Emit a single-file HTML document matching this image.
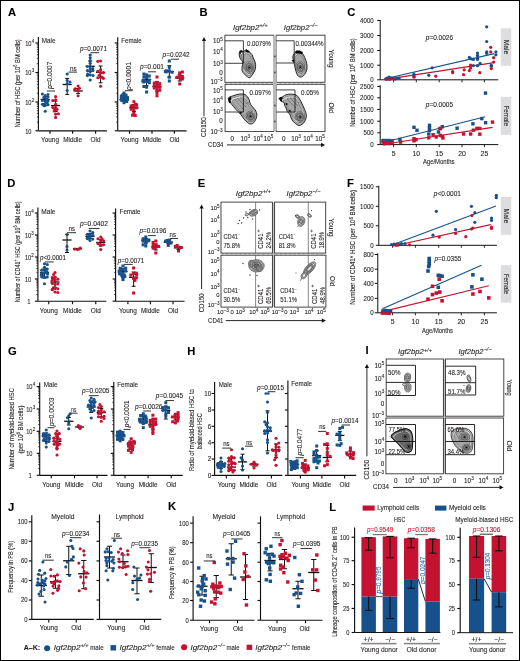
<!DOCTYPE html><html><head><meta charset="utf-8"><title>Figure</title><style>html,body{margin:0;padding:0;background:#fff;width:520px;height:661px;overflow:hidden}svg{display:block;will-change:transform;font-family:"Liberation Sans",sans-serif}text{font-family:"Liberation Sans",sans-serif;stroke:#231f20;stroke-width:0.1px}</style></head><body><svg width="520" height="661" viewBox="0 0 520 661" font-family='"Liberation Sans", sans-serif' fill="#231f20"><rect x="0" y="0" width="520" height="661" fill="#fff"/>
<text x="8.00" y="15.60" font-size="11.2" font-weight="bold" fill="#000" style="stroke:#000">A</text>
<text transform="translate(19.83,83.35) rotate(-90)" x="0" y="0" font-size="6.6" text-anchor="middle" textLength="88.30" lengthAdjust="spacingAndGlyphs">Number of HSC (per 10<tspan dy="-2.4" font-size="4.5">6</tspan><tspan dy="2.4"> BM cells)</tspan></text>
<line x1="38.40" y1="37.00" x2="38.40" y2="130.80" stroke="#111" stroke-width="1.15"/>
<line x1="35.40" y1="43.00" x2="38.40" y2="43.00" stroke="#111" stroke-width="1.15"/>
<text x="25.20" y="45.75" font-size="7.0" textLength="6.3" lengthAdjust="spacingAndGlyphs">10</text>
<text x="31.65" y="42.85" font-size="4.9" textLength="2.5" lengthAdjust="spacingAndGlyphs">4</text>
<line x1="35.40" y1="72.50" x2="38.40" y2="72.50" stroke="#111" stroke-width="1.15"/>
<text x="25.20" y="75.25" font-size="7.0" textLength="6.3" lengthAdjust="spacingAndGlyphs">10</text>
<text x="31.65" y="72.35" font-size="4.9" textLength="2.5" lengthAdjust="spacingAndGlyphs">3</text>
<line x1="35.40" y1="102.00" x2="38.40" y2="102.00" stroke="#111" stroke-width="1.15"/>
<text x="25.20" y="104.75" font-size="7.0" textLength="6.3" lengthAdjust="spacingAndGlyphs">10</text>
<text x="31.65" y="101.85" font-size="4.9" textLength="2.5" lengthAdjust="spacingAndGlyphs">2</text>
<line x1="35.40" y1="130.80" x2="38.40" y2="130.80" stroke="#111" stroke-width="1.15"/>
<text x="25.20" y="133.55" font-size="7.0" textLength="6.3" lengthAdjust="spacingAndGlyphs">10</text>
<line x1="36.80" y1="63.62" x2="38.40" y2="63.62" stroke="#111" stroke-width="0.7"/>
<line x1="36.80" y1="58.42" x2="38.40" y2="58.42" stroke="#111" stroke-width="0.7"/>
<line x1="36.80" y1="54.74" x2="38.40" y2="54.74" stroke="#111" stroke-width="0.7"/>
<line x1="36.80" y1="51.88" x2="38.40" y2="51.88" stroke="#111" stroke-width="0.7"/>
<line x1="36.80" y1="49.54" x2="38.40" y2="49.54" stroke="#111" stroke-width="0.7"/>
<line x1="36.80" y1="47.57" x2="38.40" y2="47.57" stroke="#111" stroke-width="0.7"/>
<line x1="36.80" y1="45.86" x2="38.40" y2="45.86" stroke="#111" stroke-width="0.7"/>
<line x1="36.80" y1="44.35" x2="38.40" y2="44.35" stroke="#111" stroke-width="0.7"/>
<line x1="36.80" y1="93.12" x2="38.40" y2="93.12" stroke="#111" stroke-width="0.7"/>
<line x1="36.80" y1="87.92" x2="38.40" y2="87.92" stroke="#111" stroke-width="0.7"/>
<line x1="36.80" y1="84.24" x2="38.40" y2="84.24" stroke="#111" stroke-width="0.7"/>
<line x1="36.80" y1="81.38" x2="38.40" y2="81.38" stroke="#111" stroke-width="0.7"/>
<line x1="36.80" y1="79.04" x2="38.40" y2="79.04" stroke="#111" stroke-width="0.7"/>
<line x1="36.80" y1="77.07" x2="38.40" y2="77.07" stroke="#111" stroke-width="0.7"/>
<line x1="36.80" y1="75.36" x2="38.40" y2="75.36" stroke="#111" stroke-width="0.7"/>
<line x1="36.80" y1="73.85" x2="38.40" y2="73.85" stroke="#111" stroke-width="0.7"/>
<line x1="36.80" y1="122.13" x2="38.40" y2="122.13" stroke="#111" stroke-width="0.7"/>
<line x1="36.80" y1="117.06" x2="38.40" y2="117.06" stroke="#111" stroke-width="0.7"/>
<line x1="36.80" y1="113.46" x2="38.40" y2="113.46" stroke="#111" stroke-width="0.7"/>
<line x1="36.80" y1="110.67" x2="38.40" y2="110.67" stroke="#111" stroke-width="0.7"/>
<line x1="36.80" y1="108.39" x2="38.40" y2="108.39" stroke="#111" stroke-width="0.7"/>
<line x1="36.80" y1="106.46" x2="38.40" y2="106.46" stroke="#111" stroke-width="0.7"/>
<line x1="36.80" y1="104.79" x2="38.40" y2="104.79" stroke="#111" stroke-width="0.7"/>
<line x1="36.80" y1="103.32" x2="38.40" y2="103.32" stroke="#111" stroke-width="0.7"/>
<line x1="38.40" y1="130.80" x2="107.00" y2="130.80" stroke="#111" stroke-width="1.15"/>
<line x1="50.00" y1="130.80" x2="50.00" y2="133.80" stroke="#111" stroke-width="1.15"/>
<line x1="72.60" y1="130.80" x2="72.60" y2="133.80" stroke="#111" stroke-width="1.15"/>
<line x1="95.60" y1="130.80" x2="95.60" y2="133.80" stroke="#111" stroke-width="1.15"/>
<text x="41.80" y="43.30" font-size="7.0" textLength="13.70" lengthAdjust="spacingAndGlyphs">Male</text>
<text x="50.00" y="142.00" font-size="6.4" text-anchor="middle">Young</text>
<text x="72.60" y="142.00" font-size="6.4" text-anchor="middle">Middle</text>
<text x="95.60" y="142.00" font-size="6.4" text-anchor="middle">Old</text>
<line x1="117.70" y1="37.30" x2="117.70" y2="130.80" stroke="#111" stroke-width="1.15"/>
<line x1="114.70" y1="43.00" x2="117.70" y2="43.00" stroke="#111" stroke-width="1.15"/>
<line x1="114.70" y1="72.50" x2="117.70" y2="72.50" stroke="#111" stroke-width="1.15"/>
<line x1="114.70" y1="102.00" x2="117.70" y2="102.00" stroke="#111" stroke-width="1.15"/>
<line x1="114.70" y1="130.80" x2="117.70" y2="130.80" stroke="#111" stroke-width="1.15"/>
<line x1="116.10" y1="63.62" x2="117.70" y2="63.62" stroke="#111" stroke-width="0.7"/>
<line x1="116.10" y1="58.42" x2="117.70" y2="58.42" stroke="#111" stroke-width="0.7"/>
<line x1="116.10" y1="54.74" x2="117.70" y2="54.74" stroke="#111" stroke-width="0.7"/>
<line x1="116.10" y1="51.88" x2="117.70" y2="51.88" stroke="#111" stroke-width="0.7"/>
<line x1="116.10" y1="49.54" x2="117.70" y2="49.54" stroke="#111" stroke-width="0.7"/>
<line x1="116.10" y1="47.57" x2="117.70" y2="47.57" stroke="#111" stroke-width="0.7"/>
<line x1="116.10" y1="45.86" x2="117.70" y2="45.86" stroke="#111" stroke-width="0.7"/>
<line x1="116.10" y1="44.35" x2="117.70" y2="44.35" stroke="#111" stroke-width="0.7"/>
<line x1="116.10" y1="93.12" x2="117.70" y2="93.12" stroke="#111" stroke-width="0.7"/>
<line x1="116.10" y1="87.92" x2="117.70" y2="87.92" stroke="#111" stroke-width="0.7"/>
<line x1="116.10" y1="84.24" x2="117.70" y2="84.24" stroke="#111" stroke-width="0.7"/>
<line x1="116.10" y1="81.38" x2="117.70" y2="81.38" stroke="#111" stroke-width="0.7"/>
<line x1="116.10" y1="79.04" x2="117.70" y2="79.04" stroke="#111" stroke-width="0.7"/>
<line x1="116.10" y1="77.07" x2="117.70" y2="77.07" stroke="#111" stroke-width="0.7"/>
<line x1="116.10" y1="75.36" x2="117.70" y2="75.36" stroke="#111" stroke-width="0.7"/>
<line x1="116.10" y1="73.85" x2="117.70" y2="73.85" stroke="#111" stroke-width="0.7"/>
<line x1="116.10" y1="122.13" x2="117.70" y2="122.13" stroke="#111" stroke-width="0.7"/>
<line x1="116.10" y1="117.06" x2="117.70" y2="117.06" stroke="#111" stroke-width="0.7"/>
<line x1="116.10" y1="113.46" x2="117.70" y2="113.46" stroke="#111" stroke-width="0.7"/>
<line x1="116.10" y1="110.67" x2="117.70" y2="110.67" stroke="#111" stroke-width="0.7"/>
<line x1="116.10" y1="108.39" x2="117.70" y2="108.39" stroke="#111" stroke-width="0.7"/>
<line x1="116.10" y1="106.46" x2="117.70" y2="106.46" stroke="#111" stroke-width="0.7"/>
<line x1="116.10" y1="104.79" x2="117.70" y2="104.79" stroke="#111" stroke-width="0.7"/>
<line x1="116.10" y1="103.32" x2="117.70" y2="103.32" stroke="#111" stroke-width="0.7"/>
<line x1="117.70" y1="130.80" x2="186.60" y2="130.80" stroke="#111" stroke-width="1.15"/>
<line x1="129.50" y1="130.80" x2="129.50" y2="133.80" stroke="#111" stroke-width="1.15"/>
<line x1="152.00" y1="130.80" x2="152.00" y2="133.80" stroke="#111" stroke-width="1.15"/>
<line x1="174.40" y1="130.80" x2="174.40" y2="133.80" stroke="#111" stroke-width="1.15"/>
<text x="121.30" y="43.00" font-size="7.0" textLength="20.40" lengthAdjust="spacingAndGlyphs">Female</text>
<text x="129.50" y="142.00" font-size="6.4" text-anchor="middle">Young</text>
<text x="152.00" y="142.00" font-size="6.4" text-anchor="middle">Middle</text>
<text x="174.40" y="142.00" font-size="6.4" text-anchor="middle">Old</text>
<line x1="45.20" y1="96.75" x2="45.20" y2="105.40" stroke="#111" stroke-width="1.0"/>
<line x1="43.20" y1="96.75" x2="47.20" y2="96.75" stroke="#111" stroke-width="1.0"/>
<line x1="43.20" y1="105.40" x2="47.20" y2="105.40" stroke="#111" stroke-width="1.0"/>
<line x1="40.60" y1="99.50" x2="49.80" y2="99.50" stroke="#111" stroke-width="1.3"/>
<circle cx="45.20" cy="95.64" r="1.55" fill="#16518b"/>
<circle cx="45.20" cy="105.51" r="1.55" fill="#16518b"/>
<circle cx="42.41" cy="104.33" r="1.55" fill="#16518b"/>
<circle cx="45.20" cy="101.15" r="1.55" fill="#16518b"/>
<circle cx="45.20" cy="111.30" r="1.55" fill="#16518b"/>
<circle cx="42.41" cy="100.54" r="1.55" fill="#16518b"/>
<circle cx="47.99" cy="100.70" r="1.55" fill="#16518b"/>
<circle cx="42.41" cy="94.00" r="1.55" fill="#16518b"/>
<circle cx="46.60" cy="98.93" r="1.55" fill="#16518b"/>
<circle cx="47.99" cy="94.45" r="1.55" fill="#16518b"/>
<circle cx="47.15" cy="102.87" r="1.55" fill="#16518b"/>
<circle cx="47.99" cy="96.99" r="1.55" fill="#16518b"/>
<circle cx="47.99" cy="104.73" r="1.55" fill="#16518b"/>
<circle cx="44.03" cy="104.36" r="1.55" fill="#16518b"/>
<circle cx="43.80" cy="97.58" r="1.55" fill="#16518b"/>
<circle cx="44.12" cy="105.72" r="1.55" fill="#16518b"/>
<line x1="55.60" y1="101.10" x2="55.60" y2="111.50" stroke="#111" stroke-width="1.0"/>
<line x1="53.60" y1="101.10" x2="57.60" y2="101.10" stroke="#111" stroke-width="1.0"/>
<line x1="53.60" y1="111.50" x2="57.60" y2="111.50" stroke="#111" stroke-width="1.0"/>
<line x1="51.00" y1="105.60" x2="60.20" y2="105.60" stroke="#111" stroke-width="1.3"/>
<circle cx="55.60" cy="96.60" r="1.55" fill="#c41230"/>
<circle cx="55.60" cy="99.85" r="1.55" fill="#c41230"/>
<circle cx="55.60" cy="104.19" r="1.55" fill="#c41230"/>
<circle cx="55.60" cy="117.40" r="1.55" fill="#c41230"/>
<circle cx="55.60" cy="107.57" r="1.55" fill="#c41230"/>
<circle cx="52.81" cy="107.58" r="1.55" fill="#c41230"/>
<circle cx="57.00" cy="109.35" r="1.55" fill="#c41230"/>
<circle cx="54.20" cy="111.05" r="1.55" fill="#c41230"/>
<circle cx="54.50" cy="108.40" r="1.55" fill="#c41230"/>
<circle cx="52.81" cy="100.59" r="1.55" fill="#c41230"/>
<circle cx="55.60" cy="114.12" r="1.55" fill="#c41230"/>
<circle cx="58.39" cy="113.82" r="1.55" fill="#c41230"/>
<line x1="67.20" y1="78.40" x2="67.20" y2="94.40" stroke="#111" stroke-width="1.0"/>
<line x1="65.20" y1="78.40" x2="69.20" y2="78.40" stroke="#111" stroke-width="1.0"/>
<line x1="65.20" y1="94.40" x2="69.20" y2="94.40" stroke="#111" stroke-width="1.0"/>
<line x1="62.60" y1="84.50" x2="71.80" y2="84.50" stroke="#111" stroke-width="1.3"/>
<circle cx="67.20" cy="80.42" r="1.55" fill="#16518b"/>
<circle cx="67.20" cy="74.00" r="1.55" fill="#16518b"/>
<circle cx="69.99" cy="82.01" r="1.55" fill="#16518b"/>
<circle cx="67.20" cy="83.71" r="1.55" fill="#16518b"/>
<circle cx="67.20" cy="90.50" r="1.55" fill="#16518b"/>
<line x1="78.10" y1="88.50" x2="78.10" y2="93.35" stroke="#111" stroke-width="1.0"/>
<line x1="76.10" y1="88.50" x2="80.10" y2="88.50" stroke="#111" stroke-width="1.0"/>
<line x1="76.10" y1="93.35" x2="80.10" y2="93.35" stroke="#111" stroke-width="1.0"/>
<line x1="73.50" y1="91.00" x2="82.70" y2="91.00" stroke="#111" stroke-width="1.3"/>
<circle cx="78.10" cy="90.38" r="1.55" fill="#c41230"/>
<circle cx="79.49" cy="88.24" r="1.55" fill="#c41230"/>
<circle cx="75.31" cy="88.74" r="1.55" fill="#c41230"/>
<circle cx="74.79" cy="89.38" r="1.55" fill="#c41230"/>
<circle cx="78.10" cy="95.70" r="1.55" fill="#c41230"/>
<circle cx="78.10" cy="86.00" r="1.55" fill="#c41230"/>
<line x1="90.20" y1="61.00" x2="90.20" y2="71.50" stroke="#111" stroke-width="1.0"/>
<line x1="88.20" y1="61.00" x2="92.20" y2="61.00" stroke="#111" stroke-width="1.0"/>
<line x1="88.20" y1="71.50" x2="92.20" y2="71.50" stroke="#111" stroke-width="1.0"/>
<line x1="85.60" y1="66.30" x2="94.80" y2="66.30" stroke="#111" stroke-width="1.3"/>
<circle cx="90.20" cy="69.04" r="1.55" fill="#16518b"/>
<circle cx="92.99" cy="70.56" r="1.55" fill="#16518b"/>
<circle cx="90.20" cy="66.52" r="1.55" fill="#16518b"/>
<circle cx="90.20" cy="74.84" r="1.55" fill="#16518b"/>
<circle cx="90.20" cy="57.86" r="1.55" fill="#16518b"/>
<circle cx="90.20" cy="71.62" r="1.55" fill="#16518b"/>
<circle cx="87.41" cy="75.60" r="1.55" fill="#16518b"/>
<circle cx="90.20" cy="60.66" r="1.55" fill="#16518b"/>
<circle cx="87.41" cy="66.47" r="1.55" fill="#16518b"/>
<circle cx="92.75" cy="68.64" r="1.55" fill="#16518b"/>
<circle cx="92.99" cy="75.56" r="1.55" fill="#16518b"/>
<circle cx="87.65" cy="74.17" r="1.55" fill="#16518b"/>
<circle cx="90.20" cy="55.00" r="1.55" fill="#16518b"/>
<circle cx="90.20" cy="80.00" r="1.55" fill="#16518b"/>
<circle cx="87.41" cy="70.60" r="1.55" fill="#16518b"/>
<circle cx="90.20" cy="63.35" r="1.55" fill="#16518b"/>
<line x1="100.60" y1="66.00" x2="100.60" y2="82.80" stroke="#111" stroke-width="1.0"/>
<line x1="98.60" y1="66.00" x2="102.60" y2="66.00" stroke="#111" stroke-width="1.0"/>
<line x1="98.60" y1="82.80" x2="102.60" y2="82.80" stroke="#111" stroke-width="1.0"/>
<line x1="96.00" y1="72.40" x2="105.20" y2="72.40" stroke="#111" stroke-width="1.3"/>
<circle cx="100.60" cy="77.26" r="1.55" fill="#c41230"/>
<circle cx="100.60" cy="61.00" r="1.55" fill="#c41230"/>
<circle cx="97.81" cy="77.72" r="1.55" fill="#c41230"/>
<circle cx="100.60" cy="69.67" r="1.55" fill="#c41230"/>
<circle cx="100.60" cy="72.82" r="1.55" fill="#c41230"/>
<circle cx="100.60" cy="86.20" r="1.55" fill="#c41230"/>
<circle cx="103.39" cy="78.33" r="1.55" fill="#c41230"/>
<circle cx="97.81" cy="61.36" r="1.55" fill="#c41230"/>
<circle cx="99.20" cy="75.37" r="1.55" fill="#c41230"/>
<circle cx="97.81" cy="71.35" r="1.55" fill="#c41230"/>
<circle cx="101.90" cy="77.06" r="1.55" fill="#c41230"/>
<circle cx="103.39" cy="72.63" r="1.55" fill="#c41230"/>
<text transform="translate(52.48,75.25) rotate(-90)" x="0" y="0" font-size="6.9" text-anchor="middle" textLength="26.90" lengthAdjust="spacingAndGlyphs"><tspan font-style="italic">p</tspan>=0.0007</text>
<line x1="46.80" y1="91.00" x2="55.00" y2="91.00" stroke="#333" stroke-width="1.0"/>
<text x="70.00" y="71.28" font-size="6.9" textLength="6.70" lengthAdjust="spacingAndGlyphs">ns</text>
<line x1="68.40" y1="72.10" x2="77.00" y2="72.10" stroke="#333" stroke-width="1.0"/>
<text x="80.00" y="50.88" font-size="6.9" textLength="27.00" lengthAdjust="spacingAndGlyphs"><tspan font-style="italic">p</tspan>=0.0071</text>
<line x1="90.50" y1="52.70" x2="99.20" y2="52.70" stroke="#333" stroke-width="1.0"/>
<line x1="124.00" y1="96.35" x2="124.00" y2="101.20" stroke="#111" stroke-width="1.0"/>
<line x1="122.00" y1="96.35" x2="126.00" y2="96.35" stroke="#111" stroke-width="1.0"/>
<line x1="122.00" y1="101.20" x2="126.00" y2="101.20" stroke="#111" stroke-width="1.0"/>
<line x1="119.40" y1="99.70" x2="128.60" y2="99.70" stroke="#111" stroke-width="1.3"/>
<rect x="122.50" y="96.38" width="3.00" height="3.00" fill="#16518b"/>
<rect x="122.50" y="101.20" width="3.00" height="3.00" fill="#16518b"/>
<rect x="121.15" y="94.34" width="3.00" height="3.00" fill="#16518b"/>
<rect x="123.85" y="93.93" width="3.00" height="3.00" fill="#16518b"/>
<rect x="125.20" y="96.58" width="3.00" height="3.00" fill="#16518b"/>
<rect x="122.50" y="91.50" width="3.00" height="3.00" fill="#16518b"/>
<rect x="119.80" y="96.75" width="3.00" height="3.00" fill="#16518b"/>
<rect x="124.58" y="93.63" width="3.00" height="3.00" fill="#16518b"/>
<rect x="123.06" y="97.62" width="3.00" height="3.00" fill="#16518b"/>
<rect x="121.76" y="93.44" width="3.00" height="3.00" fill="#16518b"/>
<rect x="120.56" y="97.24" width="3.00" height="3.00" fill="#16518b"/>
<rect x="125.09" y="97.40" width="3.00" height="3.00" fill="#16518b"/>
<rect x="120.27" y="98.96" width="3.00" height="3.00" fill="#16518b"/>
<rect x="125.20" y="99.97" width="3.00" height="3.00" fill="#16518b"/>
<rect x="122.31" y="95.31" width="3.00" height="3.00" fill="#16518b"/>
<rect x="125.75" y="98.00" width="3.00" height="3.00" fill="#16518b"/>
<rect x="122.80" y="96.81" width="3.00" height="3.00" fill="#16518b"/>
<rect x="126.03" y="96.09" width="3.00" height="3.00" fill="#16518b"/>
<rect x="121.33" y="93.67" width="3.00" height="3.00" fill="#16518b"/>
<rect x="125.30" y="97.89" width="3.00" height="3.00" fill="#16518b"/>
<rect x="122.25" y="93.06" width="3.00" height="3.00" fill="#16518b"/>
<rect x="119.90" y="94.63" width="3.00" height="3.00" fill="#16518b"/>
<line x1="133.90" y1="104.65" x2="133.90" y2="111.55" stroke="#111" stroke-width="1.0"/>
<line x1="131.90" y1="104.65" x2="135.90" y2="104.65" stroke="#111" stroke-width="1.0"/>
<line x1="131.90" y1="111.55" x2="135.90" y2="111.55" stroke="#111" stroke-width="1.0"/>
<line x1="129.30" y1="107.60" x2="138.50" y2="107.60" stroke="#111" stroke-width="1.3"/>
<rect x="132.40" y="104.69" width="3.00" height="3.00" fill="#c41230"/>
<rect x="129.70" y="104.50" width="3.00" height="3.00" fill="#c41230"/>
<rect x="135.10" y="103.41" width="3.00" height="3.00" fill="#c41230"/>
<rect x="132.40" y="111.97" width="3.00" height="3.00" fill="#c41230"/>
<rect x="134.01" y="102.83" width="3.00" height="3.00" fill="#c41230"/>
<rect x="132.40" y="108.33" width="3.00" height="3.00" fill="#c41230"/>
<rect x="132.40" y="100.20" width="3.00" height="3.00" fill="#c41230"/>
<rect x="131.05" y="113.69" width="3.00" height="3.00" fill="#c41230"/>
<rect x="130.87" y="104.33" width="3.00" height="3.00" fill="#c41230"/>
<rect x="133.75" y="114.00" width="3.00" height="3.00" fill="#c41230"/>
<rect x="135.10" y="106.32" width="3.00" height="3.00" fill="#c41230"/>
<rect x="129.70" y="107.75" width="3.00" height="3.00" fill="#c41230"/>
<line x1="146.60" y1="76.75" x2="146.60" y2="85.75" stroke="#111" stroke-width="1.0"/>
<line x1="144.60" y1="76.75" x2="148.60" y2="76.75" stroke="#111" stroke-width="1.0"/>
<line x1="144.60" y1="85.75" x2="148.60" y2="85.75" stroke="#111" stroke-width="1.0"/>
<line x1="142.00" y1="79.50" x2="151.20" y2="79.50" stroke="#111" stroke-width="1.3"/>
<rect x="145.10" y="85.72" width="3.00" height="3.00" fill="#16518b"/>
<rect x="145.10" y="76.20" width="3.00" height="3.00" fill="#16518b"/>
<rect x="145.10" y="79.92" width="3.00" height="3.00" fill="#16518b"/>
<rect x="142.40" y="78.63" width="3.00" height="3.00" fill="#16518b"/>
<rect x="145.10" y="73.30" width="3.00" height="3.00" fill="#16518b"/>
<rect x="147.80" y="81.21" width="3.00" height="3.00" fill="#16518b"/>
<rect x="142.40" y="72.50" width="3.00" height="3.00" fill="#16518b"/>
<rect x="142.40" y="75.33" width="3.00" height="3.00" fill="#16518b"/>
<rect x="142.17" y="80.49" width="3.00" height="3.00" fill="#16518b"/>
<rect x="147.80" y="74.51" width="3.00" height="3.00" fill="#16518b"/>
<rect x="147.80" y="78.68" width="3.00" height="3.00" fill="#16518b"/>
<rect x="145.10" y="90.50" width="3.00" height="3.00" fill="#16518b"/>
<rect x="141.37" y="79.51" width="3.00" height="3.00" fill="#16518b"/>
<rect x="142.40" y="85.02" width="3.00" height="3.00" fill="#16518b"/>
<line x1="157.00" y1="81.75" x2="157.00" y2="91.15" stroke="#111" stroke-width="1.0"/>
<line x1="155.00" y1="81.75" x2="159.00" y2="81.75" stroke="#111" stroke-width="1.0"/>
<line x1="155.00" y1="91.15" x2="159.00" y2="91.15" stroke="#111" stroke-width="1.0"/>
<line x1="152.40" y1="86.50" x2="161.60" y2="86.50" stroke="#111" stroke-width="1.3"/>
<rect x="155.50" y="83.15" width="3.00" height="3.00" fill="#c41230"/>
<rect x="155.50" y="80.85" width="3.00" height="3.00" fill="#c41230"/>
<rect x="155.50" y="91.43" width="3.00" height="3.00" fill="#c41230"/>
<rect x="155.50" y="85.64" width="3.00" height="3.00" fill="#c41230"/>
<rect x="158.20" y="85.71" width="3.00" height="3.00" fill="#c41230"/>
<rect x="155.50" y="88.59" width="3.00" height="3.00" fill="#c41230"/>
<rect x="158.20" y="82.18" width="3.00" height="3.00" fill="#c41230"/>
<rect x="158.20" y="88.75" width="3.00" height="3.00" fill="#c41230"/>
<rect x="155.50" y="94.30" width="3.00" height="3.00" fill="#c41230"/>
<rect x="152.80" y="86.52" width="3.00" height="3.00" fill="#c41230"/>
<rect x="152.80" y="81.57" width="3.00" height="3.00" fill="#c41230"/>
<rect x="157.70" y="85.15" width="3.00" height="3.00" fill="#c41230"/>
<rect x="155.50" y="75.50" width="3.00" height="3.00" fill="#c41230"/>
<rect x="152.80" y="84.25" width="3.00" height="3.00" fill="#c41230"/>
<line x1="169.30" y1="65.70" x2="169.30" y2="77.00" stroke="#111" stroke-width="1.0"/>
<line x1="167.30" y1="65.70" x2="171.30" y2="65.70" stroke="#111" stroke-width="1.0"/>
<line x1="167.30" y1="77.00" x2="171.30" y2="77.00" stroke="#111" stroke-width="1.0"/>
<line x1="164.70" y1="71.60" x2="173.90" y2="71.60" stroke="#111" stroke-width="1.3"/>
<rect x="167.80" y="69.44" width="3.00" height="3.00" fill="#16518b"/>
<rect x="165.10" y="69.29" width="3.00" height="3.00" fill="#16518b"/>
<rect x="170.50" y="70.69" width="3.00" height="3.00" fill="#16518b"/>
<rect x="167.80" y="59.50" width="3.00" height="3.00" fill="#16518b"/>
<rect x="167.80" y="65.76" width="3.00" height="3.00" fill="#16518b"/>
<rect x="163.84" y="69.88" width="3.00" height="3.00" fill="#16518b"/>
<rect x="164.66" y="70.40" width="3.00" height="3.00" fill="#16518b"/>
<rect x="167.80" y="75.73" width="3.00" height="3.00" fill="#16518b"/>
<rect x="167.80" y="79.50" width="3.00" height="3.00" fill="#16518b"/>
<line x1="179.70" y1="75.00" x2="179.70" y2="81.00" stroke="#111" stroke-width="1.0"/>
<line x1="177.70" y1="75.00" x2="181.70" y2="75.00" stroke="#111" stroke-width="1.0"/>
<line x1="177.70" y1="81.00" x2="181.70" y2="81.00" stroke="#111" stroke-width="1.0"/>
<line x1="175.10" y1="78.00" x2="184.30" y2="78.00" stroke="#111" stroke-width="1.3"/>
<rect x="178.20" y="76.35" width="3.00" height="3.00" fill="#c41230"/>
<rect x="178.20" y="73.70" width="3.00" height="3.00" fill="#c41230"/>
<rect x="178.20" y="82.50" width="3.00" height="3.00" fill="#c41230"/>
<rect x="178.20" y="71.38" width="3.00" height="3.00" fill="#c41230"/>
<rect x="180.90" y="77.53" width="3.00" height="3.00" fill="#c41230"/>
<rect x="180.90" y="70.50" width="3.00" height="3.00" fill="#c41230"/>
<rect x="175.50" y="75.69" width="3.00" height="3.00" fill="#c41230"/>
<rect x="180.90" y="74.94" width="3.00" height="3.00" fill="#c41230"/>
<rect x="178.97" y="77.60" width="3.00" height="3.00" fill="#c41230"/>
<text transform="translate(130.78,76.00) rotate(-90)" x="0" y="0" font-size="6.9" text-anchor="middle" textLength="28.00" lengthAdjust="spacingAndGlyphs"><tspan font-style="italic">p</tspan>&lt;0.0001</text>
<line x1="125.00" y1="90.70" x2="132.50" y2="90.70" stroke="#333" stroke-width="1.0"/>
<text x="140.00" y="69.48" font-size="6.9" textLength="24.00" lengthAdjust="spacingAndGlyphs"><tspan font-style="italic">p</tspan>=0.001</text>
<line x1="148.00" y1="71.80" x2="156.00" y2="71.80" stroke="#333" stroke-width="1.0"/>
<text x="162.60" y="57.28" font-size="6.9" textLength="27.00" lengthAdjust="spacingAndGlyphs"><tspan font-style="italic">p</tspan>=0.0242</text>
<line x1="171.00" y1="59.20" x2="179.00" y2="59.20" stroke="#333" stroke-width="1.0"/>
<text x="199.50" y="16.10" font-size="11.2" font-weight="bold" fill="#000" style="stroke:#000">B</text>
<text x="233.00" y="30.25" font-size="6.8" font-style="italic" textLength="34.70" lengthAdjust="spacingAndGlyphs">Igf2bp2<tspan dy="-2.9" font-size="5.0">+/+</tspan></text>
<text x="283.80" y="30.25" font-size="6.8" font-style="italic" textLength="33.80" lengthAdjust="spacingAndGlyphs">Igf2bp2<tspan dy="-2.9" font-size="5.0">−/−</tspan></text>
<line x1="225.30" y1="83.30" x2="324.60" y2="83.30" stroke="#bbb" stroke-width="0.9" stroke-dasharray="2.5 2"/>
<rect x="224.90" y="35.20" width="48.70" height="47.10" fill="none" stroke="#333" stroke-width="0.9"/>
<rect x="276.20" y="35.20" width="48.80" height="47.10" fill="none" stroke="#333" stroke-width="0.9"/>
<rect x="225.10" y="84.30" width="48.50" height="47.30" fill="none" stroke="#333" stroke-width="0.9"/>
<rect x="276.20" y="84.30" width="48.80" height="47.30" fill="none" stroke="#333" stroke-width="0.9"/>
<rect x="273.00" y="35.70" width="3.70" height="95.40" fill="#b9b9b9"/>
<rect x="274.30" y="55.60" width="1.20" height="1.80" fill="#333"/>
<rect x="274.30" y="71.60" width="1.20" height="1.80" fill="#333"/>
<rect x="274.30" y="104.60" width="1.20" height="1.80" fill="#333"/>
<rect x="274.30" y="120.60" width="1.20" height="1.80" fill="#333"/>
<path d="M239.40,52.10 C239.68,51.13 240.53,50.45 241.10,50.40 C241.67,50.35 241.95,51.85 242.80,51.80 C243.65,51.75 245.08,50.05 246.20,50.10 C247.32,50.15 248.55,51.37 249.50,52.10 C250.45,52.83 251.28,53.55 251.90,54.50 C252.52,55.45 252.65,56.52 253.20,57.80 C253.75,59.08 254.80,60.68 255.20,62.20 C255.60,63.72 255.70,65.43 255.60,66.90 C255.50,68.37 255.17,69.65 254.60,71.00 C254.03,72.35 253.05,73.88 252.20,75.00 C251.35,76.12 250.50,77.58 249.50,77.70 C248.50,77.82 247.38,76.72 246.20,75.70 C245.02,74.68 243.08,73.07 242.40,71.60 C241.72,70.13 242.03,68.47 242.10,66.90 C242.17,65.33 243.02,63.43 242.80,62.20 C242.58,60.97 241.37,60.50 240.80,59.50 C240.23,58.50 239.63,57.43 239.40,56.20 C239.17,54.97 239.12,53.07 239.40,52.10Z" fill="#b4b4b4" stroke="#111" stroke-width="0.9"/>
<path d="M240.46,53.47 C240.70,52.64 241.43,52.05 241.92,52.01 C242.40,51.96 242.65,53.25 243.38,53.21 C244.11,53.17 245.34,51.71 246.30,51.75 C247.26,51.79 248.32,52.84 249.14,53.47 C249.96,54.10 250.68,54.72 251.21,55.53 C251.74,56.35 251.85,57.27 252.32,58.37 C252.80,59.47 253.70,60.85 254.04,62.15 C254.39,63.46 254.47,64.93 254.39,66.20 C254.30,67.46 254.01,68.56 253.53,69.72 C253.04,70.88 252.19,72.20 251.46,73.16 C250.73,74.12 250.00,75.38 249.14,75.48 C248.28,75.58 247.32,74.64 246.30,73.76 C245.29,72.89 243.62,71.50 243.04,70.24 C242.45,68.98 242.72,67.54 242.78,66.20 C242.83,64.85 243.57,63.21 243.38,62.15 C243.19,61.09 242.15,60.69 241.66,59.83 C241.17,58.97 240.66,58.05 240.46,56.99 C240.25,55.93 240.21,54.30 240.46,53.47Z" fill="#dadada" stroke="#444" stroke-width="0.45"/>
<path d="M241.51,54.84 C241.71,54.14 242.33,53.65 242.73,53.61 C243.14,53.58 243.35,54.66 243.96,54.62 C244.57,54.58 245.60,53.36 246.41,53.40 C247.21,53.43 248.10,54.31 248.78,54.84 C249.47,55.36 250.07,55.88 250.51,56.56 C250.95,57.25 251.05,58.02 251.45,58.94 C251.84,59.86 252.60,61.02 252.89,62.11 C253.17,63.20 253.25,64.44 253.17,65.49 C253.10,66.55 252.86,67.47 252.45,68.44 C252.05,69.42 251.34,70.52 250.73,71.32 C250.11,72.13 249.50,73.18 248.78,73.27 C248.06,73.35 247.26,72.56 246.41,71.83 C245.55,71.10 244.16,69.93 243.67,68.88 C243.18,67.82 243.41,66.62 243.45,65.49 C243.50,64.36 244.11,63.00 243.96,62.11 C243.80,61.22 242.93,60.88 242.52,60.16 C242.11,59.44 241.68,58.68 241.51,57.79 C241.34,56.90 241.31,55.53 241.51,54.84Z" fill="#a6a6a6" stroke="#333" stroke-width="0.4"/>
<ellipse cx="249.30" cy="67.60" rx="4.30" ry="6.30" transform="rotate(-12 249.30 67.60)" fill="#d6d6d6" stroke="#222" stroke-width="0.45"/>
<ellipse cx="249.30" cy="67.60" rx="3.39" ry="4.96" transform="rotate(-12 249.30 67.60)" fill="#888" stroke="#222" stroke-width="0.45"/>
<ellipse cx="249.30" cy="67.60" rx="2.47" ry="3.62" transform="rotate(-12 249.30 67.60)" fill="#c8c8c8" stroke="#222" stroke-width="0.45"/>
<ellipse cx="249.30" cy="67.60" rx="1.56" ry="2.28" transform="rotate(-12 249.30 67.60)" fill="#6a6a6a" stroke="#222" stroke-width="0.45"/>
<circle cx="249.30" cy="67.60" r="0.80" fill="#000"/>
<path d="M296.00,52.00 C296.58,51.52 296.70,50.65 297.70,50.80 C298.70,50.95 300.85,51.83 302.00,52.90 C303.15,53.97 303.82,55.47 304.60,57.20 C305.38,58.93 306.32,61.28 306.70,63.30 C307.08,65.32 307.25,67.43 306.90,69.30 C306.55,71.17 305.62,73.20 304.60,74.50 C303.58,75.80 301.95,76.95 300.80,77.10 C299.65,77.25 298.57,76.55 297.70,75.40 C296.83,74.25 296.18,72.22 295.60,70.20 C295.02,68.18 294.67,65.47 294.20,63.30 C293.73,61.13 292.80,58.80 292.80,57.20 C292.80,55.60 293.67,54.57 294.20,53.70 C294.73,52.83 295.42,52.48 296.00,52.00Z" fill="#b4b4b4" stroke="#111" stroke-width="0.9"/>
<path d="M296.49,53.52 C296.99,53.10 297.10,52.36 297.96,52.49 C298.82,52.61 300.66,53.37 301.65,54.29 C302.64,55.21 303.22,56.50 303.89,57.99 C304.56,59.48 305.37,61.50 305.70,63.24 C306.02,64.97 306.17,66.79 305.87,68.40 C305.57,70.00 304.76,71.75 303.89,72.87 C303.01,73.99 301.61,74.97 300.62,75.10 C299.63,75.23 298.70,74.63 297.96,73.64 C297.21,72.65 296.65,70.90 296.15,69.17 C295.65,67.44 295.35,65.10 294.95,63.24 C294.54,61.37 293.74,59.37 293.74,57.99 C293.74,56.61 294.49,55.72 294.95,54.98 C295.40,54.23 295.99,53.93 296.49,53.52Z" fill="#dadada" stroke="#444" stroke-width="0.45"/>
<path d="M296.99,55.03 C297.41,54.69 297.49,54.06 298.21,54.17 C298.93,54.28 300.48,54.91 301.31,55.68 C302.13,56.45 302.61,57.53 303.18,58.78 C303.74,60.03 304.41,61.72 304.69,63.17 C304.97,64.62 305.09,66.15 304.83,67.49 C304.58,68.83 303.91,70.30 303.18,71.23 C302.45,72.17 301.27,73.00 300.44,73.11 C299.61,73.21 298.83,72.71 298.21,71.88 C297.59,71.05 297.12,69.59 296.70,68.14 C296.28,66.69 296.03,64.73 295.69,63.17 C295.35,61.61 294.68,59.93 294.68,58.78 C294.68,57.63 295.31,56.88 295.69,56.26 C296.07,55.63 296.57,55.38 296.99,55.03Z" fill="#a6a6a6" stroke="#333" stroke-width="0.4"/>
<ellipse cx="300.30" cy="67.30" rx="4.30" ry="6.20" transform="rotate(-8 300.30 67.30)" fill="#d6d6d6" stroke="#222" stroke-width="0.45"/>
<ellipse cx="300.30" cy="67.30" rx="3.39" ry="4.88" transform="rotate(-8 300.30 67.30)" fill="#888" stroke="#222" stroke-width="0.45"/>
<ellipse cx="300.30" cy="67.30" rx="2.47" ry="3.56" transform="rotate(-8 300.30 67.30)" fill="#c8c8c8" stroke="#222" stroke-width="0.45"/>
<ellipse cx="300.30" cy="67.30" rx="1.56" ry="2.25" transform="rotate(-8 300.30 67.30)" fill="#6a6a6a" stroke="#222" stroke-width="0.45"/>
<circle cx="300.30" cy="67.30" r="0.80" fill="#000"/>
<path d="M228.80,97.50 C229.67,96.68 232.23,96.07 234.00,95.50 C235.77,94.93 237.53,94.25 239.40,94.10 C241.27,93.95 243.60,93.72 245.20,94.60 C246.80,95.48 248.12,97.80 249.00,99.40 C249.88,101.00 249.37,102.27 250.50,104.20 C251.63,106.13 254.77,108.92 255.80,111.00 C256.83,113.08 257.03,114.78 256.70,116.70 C256.37,118.62 254.83,121.28 253.80,122.50 C252.77,123.72 251.77,124.17 250.50,124.00 C249.23,123.83 247.57,122.72 246.20,121.50 C244.83,120.28 243.43,118.13 242.30,116.70 C241.17,115.27 240.45,114.10 239.40,112.90 C238.35,111.70 237.43,111.10 236.00,109.50 C234.57,107.90 232.00,104.82 230.80,103.30 C229.60,101.78 229.13,101.37 228.80,100.40 C228.47,99.43 227.93,98.32 228.80,97.50Z" fill="#b4b4b4" stroke="#111" stroke-width="0.9"/>
<path d="M230.78,98.93 C231.53,98.23 233.73,97.70 235.25,97.21 C236.77,96.73 238.29,96.14 239.90,96.01 C241.50,95.88 243.51,95.68 244.88,96.44 C246.26,97.20 247.39,99.19 248.15,100.57 C248.91,101.94 248.47,103.03 249.44,104.70 C250.42,106.36 253.11,108.75 254.00,110.54 C254.89,112.33 255.06,113.80 254.77,115.45 C254.49,117.09 253.17,119.39 252.28,120.43 C251.39,121.48 250.53,121.87 249.44,121.72 C248.35,121.58 246.92,120.62 245.74,119.57 C244.57,118.53 243.37,116.68 242.39,115.45 C241.42,114.21 240.80,113.21 239.90,112.18 C238.99,111.15 238.21,110.63 236.97,109.25 C235.74,107.88 233.53,105.23 232.50,103.92 C231.47,102.62 231.07,102.26 230.78,101.43 C230.49,100.60 230.04,99.64 230.78,98.93Z" fill="#dadada" stroke="#444" stroke-width="0.45"/>
<path d="M232.76,100.37 C233.39,99.78 235.23,99.33 236.51,98.93 C237.78,98.52 239.05,98.03 240.39,97.92 C241.74,97.81 243.42,97.64 244.57,98.28 C245.72,98.91 246.67,100.58 247.31,101.73 C247.94,102.89 247.57,103.80 248.39,105.19 C249.20,106.58 251.46,108.59 252.20,110.09 C252.95,111.59 253.09,112.81 252.85,114.19 C252.61,115.57 251.51,117.49 250.76,118.37 C250.02,119.24 249.30,119.57 248.39,119.45 C247.47,119.33 246.27,118.52 245.29,117.65 C244.31,116.77 243.30,115.22 242.48,114.19 C241.67,113.16 241.15,112.32 240.39,111.45 C239.64,110.59 238.98,110.16 237.95,109.01 C236.91,107.85 235.07,105.63 234.20,104.54 C233.34,103.45 233.00,103.15 232.76,102.45 C232.52,101.76 232.14,100.95 232.76,100.37Z" fill="#a6a6a6" stroke="#333" stroke-width="0.4"/>
<line x1="233.00" y1="98.00" x2="242.00" y2="108.00" stroke="#eee" stroke-width="0.9"/>
<line x1="233.90" y1="98.90" x2="242.90" y2="108.90" stroke="#333" stroke-width="0.6"/>
<line x1="236.00" y1="97.00" x2="245.00" y2="106.00" stroke="#eee" stroke-width="0.9"/>
<line x1="236.90" y1="97.90" x2="245.90" y2="106.90" stroke="#333" stroke-width="0.6"/>
<line x1="239.00" y1="96.50" x2="246.00" y2="103.00" stroke="#eee" stroke-width="0.9"/>
<line x1="239.90" y1="97.40" x2="246.90" y2="103.90" stroke="#333" stroke-width="0.6"/>
<ellipse cx="250.50" cy="116.30" rx="4.20" ry="5.20" transform="rotate(-20 250.50 116.30)" fill="#d6d6d6" stroke="#222" stroke-width="0.45"/>
<ellipse cx="250.50" cy="116.30" rx="3.31" ry="4.09" transform="rotate(-20 250.50 116.30)" fill="#888" stroke="#222" stroke-width="0.45"/>
<ellipse cx="250.50" cy="116.30" rx="2.42" ry="2.99" transform="rotate(-20 250.50 116.30)" fill="#c8c8c8" stroke="#222" stroke-width="0.45"/>
<ellipse cx="250.50" cy="116.30" rx="1.52" ry="1.89" transform="rotate(-20 250.50 116.30)" fill="#6a6a6a" stroke="#222" stroke-width="0.45"/>
<circle cx="250.50" cy="116.30" r="0.80" fill="#000"/>
<path d="M279.00,98.40 C279.55,97.95 281.52,97.42 282.70,96.80 C283.88,96.18 284.63,95.15 286.10,94.70 C287.57,94.25 289.82,94.03 291.50,94.10 C293.18,94.17 294.97,94.48 296.20,95.10 C297.43,95.72 298.12,96.73 298.90,97.80 C299.68,98.87 300.23,100.22 300.90,101.50 C301.57,102.78 302.23,104.05 302.90,105.50 C303.57,106.95 304.33,108.63 304.90,110.20 C305.47,111.77 306.18,113.33 306.30,114.90 C306.42,116.47 306.17,118.13 305.60,119.60 C305.03,121.07 304.02,122.73 302.90,123.70 C301.78,124.67 300.25,125.52 298.90,125.40 C297.55,125.28 296.03,124.07 294.80,123.00 C293.57,121.93 292.28,120.35 291.50,119.00 C290.72,117.65 290.78,116.13 290.10,114.90 C289.42,113.67 288.07,112.72 287.40,111.60 C286.73,110.48 286.55,109.22 286.10,108.20 C285.65,107.18 285.03,106.40 284.70,105.50 C284.37,104.60 284.65,103.53 284.10,102.80 C283.55,102.07 282.18,101.65 281.40,101.10 C280.62,100.55 279.80,99.95 279.40,99.50 C279.00,99.05 278.45,98.85 279.00,98.40Z" fill="#b4b4b4" stroke="#111" stroke-width="0.9"/>
<path d="M280.90,99.66 C281.37,99.28 283.06,98.82 284.08,98.29 C285.10,97.76 285.74,96.87 287.00,96.48 C288.27,96.09 290.20,95.91 291.65,95.97 C293.10,96.02 294.63,96.29 295.69,96.83 C296.75,97.36 297.34,98.23 298.01,99.15 C298.69,100.06 299.16,101.23 299.73,102.33 C300.31,103.43 300.88,104.52 301.45,105.77 C302.03,107.02 302.68,108.46 303.17,109.81 C303.66,111.16 304.28,112.51 304.38,113.85 C304.48,115.20 304.26,116.63 303.77,117.90 C303.29,119.16 302.41,120.59 301.45,121.42 C300.49,122.25 299.17,122.98 298.01,122.88 C296.85,122.78 295.55,121.74 294.49,120.82 C293.43,119.90 292.32,118.54 291.65,117.38 C290.97,116.22 291.03,114.91 290.44,113.85 C289.86,112.79 288.70,111.98 288.12,111.02 C287.55,110.05 287.39,108.97 287.00,108.09 C286.62,107.22 286.09,106.54 285.80,105.77 C285.51,105.00 285.76,104.08 285.28,103.45 C284.81,102.82 283.64,102.46 282.96,101.99 C282.29,101.51 281.59,101.00 281.24,100.61 C280.90,100.22 280.43,100.05 280.90,99.66Z" fill="#dadada" stroke="#444" stroke-width="0.45"/>
<path d="M282.80,100.93 C283.19,100.60 284.61,100.22 285.46,99.77 C286.31,99.33 286.85,98.59 287.91,98.26 C288.96,97.94 290.58,97.78 291.80,97.83 C293.01,97.88 294.29,98.11 295.18,98.55 C296.07,98.99 296.56,99.73 297.12,100.49 C297.69,101.26 298.08,102.23 298.56,103.16 C299.04,104.08 299.52,104.99 300.00,106.04 C300.48,107.08 301.04,108.29 301.44,109.42 C301.85,110.55 302.37,111.68 302.45,112.81 C302.54,113.93 302.36,115.13 301.95,116.19 C301.54,117.25 300.81,118.45 300.00,119.14 C299.20,119.84 298.10,120.45 297.12,120.37 C296.15,120.28 295.06,119.41 294.17,118.64 C293.28,117.87 292.36,116.73 291.80,115.76 C291.23,114.79 291.28,113.69 290.79,112.81 C290.30,111.92 289.32,111.23 288.84,110.43 C288.36,109.63 288.23,108.71 287.91,107.98 C287.58,107.25 287.14,106.69 286.90,106.04 C286.66,105.39 286.86,104.62 286.47,104.09 C286.07,103.57 285.09,103.27 284.52,102.87 C283.96,102.47 283.37,102.04 283.08,101.72 C282.80,101.39 282.40,101.25 282.80,100.93Z" fill="#a6a6a6" stroke="#333" stroke-width="0.4"/>
<line x1="286.00" y1="98.00" x2="295.00" y2="107.00" stroke="#eee" stroke-width="0.9"/>
<line x1="286.90" y1="98.90" x2="295.90" y2="107.90" stroke="#333" stroke-width="0.6"/>
<line x1="289.00" y1="97.00" x2="297.00" y2="105.00" stroke="#eee" stroke-width="0.9"/>
<line x1="289.90" y1="97.90" x2="297.90" y2="105.90" stroke="#333" stroke-width="0.6"/>
<line x1="292.00" y1="96.50" x2="298.00" y2="102.00" stroke="#eee" stroke-width="0.9"/>
<line x1="292.90" y1="97.40" x2="298.90" y2="102.90" stroke="#333" stroke-width="0.6"/>
<ellipse cx="300.20" cy="117.00" rx="4.50" ry="5.60" transform="rotate(-20 300.20 117.00)" fill="#d6d6d6" stroke="#222" stroke-width="0.45"/>
<ellipse cx="300.20" cy="117.00" rx="3.54" ry="4.41" transform="rotate(-20 300.20 117.00)" fill="#888" stroke="#222" stroke-width="0.45"/>
<ellipse cx="300.20" cy="117.00" rx="2.59" ry="3.22" transform="rotate(-20 300.20 117.00)" fill="#c8c8c8" stroke="#222" stroke-width="0.45"/>
<ellipse cx="300.20" cy="117.00" rx="1.63" ry="2.03" transform="rotate(-20 300.20 117.00)" fill="#6a6a6a" stroke="#222" stroke-width="0.45"/>
<circle cx="300.20" cy="117.00" r="0.80" fill="#000"/>
<path d="M239.2,53 Q239.8,50 242.6,50.6 L242.4,52.2 Q240.8,51.6 240.4,54 Z" fill="#000"/>
<path d="M245.3,51.6 L246.2,49 L247.6,50.2 L249.6,51.2 L249,52.6 L246.6,52.2 Z" fill="#000"/>
<path d="M295,52.4 L296,50.2 L297.4,51.2 L299.6,50.4 L302.8,52 L302.2,54.4 L299,53.4 L296.4,53.6 Z" fill="#000"/>
<path d="M291.6,60.6 L293.4,59.6 L294.2,61.2 L292.4,61.6 Z" fill="#000"/>
<path d="M228.4,98 L231,96.8 L231.4,99.2 L230.2,100.2 L231.2,102.6 L229.2,103.2 L228.4,101 Z" fill="#000"/>
<path d="M239.6,112.4 L241.4,111.8 L241.6,113.6 L240,113.8 Z" fill="#000"/>
<path d="M278.8,98.2 L282,96.8 L282.8,98.6 L281.6,99.6 L282.4,101.4 L280.6,101.6 L280.2,99.6 Z" fill="#000"/>
<path d="M285.6,103.6 L287.2,103 L287.6,104.8 L286,105.2 Z" fill="#000"/>
<path d="M288.6,110.4 L290.4,109.8 L290.8,111.6 L289,111.8 Z" fill="#000"/>
<path d="M224.90,40.80 H243.40 V63.30 H224.90" fill="none" stroke="#111" stroke-width="0.8"/>
<path d="M276.20,40.80 H294.20 V63.00 H276.20" fill="none" stroke="#111" stroke-width="0.8"/>
<path d="M225.10,89.90 H243.40 V112.00 H225.10" fill="none" stroke="#111" stroke-width="0.8"/>
<path d="M276.20,89.90 H295.00 V112.00 H276.20" fill="none" stroke="#111" stroke-width="0.8"/>
<text x="247.00" y="46.03" font-size="7.3" textLength="24.00" lengthAdjust="spacingAndGlyphs">0.0079%</text>
<text x="295.60" y="46.03" font-size="7.3" textLength="28.00" lengthAdjust="spacingAndGlyphs">0.00344%</text>
<text x="249.50" y="94.73" font-size="7.3" textLength="21.30" lengthAdjust="spacingAndGlyphs">0.097%</text>
<text x="301.00" y="94.63" font-size="7.3" textLength="18.00" lengthAdjust="spacingAndGlyphs">0.05%</text>
<text x="222.70" y="43.27" font-size="6.3" text-anchor="end">10<tspan dy="-2.6" font-size="4.6">5</tspan></text>
<text x="222.70" y="53.97" font-size="6.3" text-anchor="end">10<tspan dy="-2.6" font-size="4.6">4</tspan></text>
<text x="222.70" y="66.27" font-size="6.3" text-anchor="end">10<tspan dy="-2.6" font-size="4.6">3</tspan></text>
<text x="222.70" y="75.07" font-size="6.3" text-anchor="end">0</text>
<text x="222.70" y="83.67" font-size="6.3" text-anchor="end">10<tspan dy="-2.6" font-size="4.6">−3</tspan></text>
<text x="222.70" y="92.97" font-size="6.3" text-anchor="end">10<tspan dy="-2.6" font-size="4.6">5</tspan></text>
<text x="222.70" y="102.67" font-size="6.3" text-anchor="end">10<tspan dy="-2.6" font-size="4.6">4</tspan></text>
<text x="222.70" y="113.97" font-size="6.3" text-anchor="end">10<tspan dy="-2.6" font-size="4.6">3</tspan></text>
<text x="222.70" y="123.47" font-size="6.3" text-anchor="end">0</text>
<text x="222.70" y="134.17" font-size="6.3" text-anchor="end">10<tspan dy="-2.6" font-size="4.6">−3</tspan></text>
<text x="232.20" y="141.07" font-size="6.3" text-anchor="middle">0</text>
<text x="245.20" y="141.07" font-size="6.3" text-anchor="middle">10<tspan dy="-2.6" font-size="4.6">3</tspan></text>
<text x="258.10" y="141.07" font-size="6.3" text-anchor="middle">10<tspan dy="-2.6" font-size="4.6">4</tspan></text>
<text x="268.50" y="141.07" font-size="6.3" text-anchor="middle">10<tspan dy="-2.6" font-size="4.6">5</tspan></text>
<text x="283.80" y="141.07" font-size="6.3" text-anchor="middle">0</text>
<text x="296.00" y="141.07" font-size="6.3" text-anchor="middle">10<tspan dy="-2.6" font-size="4.6">3</tspan></text>
<text x="308.00" y="141.07" font-size="6.3" text-anchor="middle">10<tspan dy="-2.6" font-size="4.6">4</tspan></text>
<text x="320.00" y="141.07" font-size="6.3" text-anchor="middle">10<tspan dy="-2.6" font-size="4.6">5</tspan></text>
<line x1="204.00" y1="116.30" x2="204.00" y2="40.30" stroke="#111" stroke-width="0.9"/>
<path d="M201.90,41.10 L204.00,37.00 L206.10,41.10Z" fill="#111"/>
<text transform="translate(206.12,127.10) rotate(-90)" x="0" y="0" font-size="7.0" text-anchor="middle" textLength="19.80" lengthAdjust="spacingAndGlyphs">CD150</text>
<text x="208.00" y="146.82" font-size="7.0" textLength="15.50" lengthAdjust="spacingAndGlyphs">CD34</text>
<line x1="227.00" y1="144.90" x2="321.80" y2="144.90" stroke="#111" stroke-width="0.9"/>
<path d="M321.00,142.80 L325.10,144.90 L321.00,147.00Z" fill="#111"/>
<text transform="translate(328.88,58.50) rotate(90)" x="0" y="0" font-size="7.0" text-anchor="middle" textLength="18.20" lengthAdjust="spacingAndGlyphs">Young</text>
<text transform="translate(328.88,107.75) rotate(90)" x="0" y="0" font-size="7.0" text-anchor="middle" textLength="10.50" lengthAdjust="spacingAndGlyphs">Old</text>
<text x="347.30" y="15.70" font-size="11.2" font-weight="bold" fill="#000" style="stroke:#000">C</text>
<text transform="translate(355.38,82.50) rotate(-90)" x="0" y="0" font-size="6.6" text-anchor="middle" textLength="88.40" lengthAdjust="spacingAndGlyphs">Number of HSC (per 10<tspan dy="-2.4" font-size="4.5">6</tspan><tspan dy="2.4"> BM cells)</tspan></text>
<line x1="380.20" y1="20.00" x2="380.20" y2="79.80" stroke="#111" stroke-width="1.0"/>
<line x1="377.20" y1="20.50" x2="380.20" y2="20.50" stroke="#111" stroke-width="1.0"/>
<text x="373.70" y="22.95" font-size="7.0" text-anchor="end" textLength="13.60" lengthAdjust="spacingAndGlyphs">4000</text>
<line x1="377.20" y1="35.60" x2="380.20" y2="35.60" stroke="#111" stroke-width="1.0"/>
<text x="373.70" y="38.05" font-size="7.0" text-anchor="end" textLength="13.60" lengthAdjust="spacingAndGlyphs">3000</text>
<line x1="377.20" y1="50.50" x2="380.20" y2="50.50" stroke="#111" stroke-width="1.0"/>
<text x="373.70" y="52.95" font-size="7.0" text-anchor="end" textLength="13.60" lengthAdjust="spacingAndGlyphs">2000</text>
<line x1="377.20" y1="65.20" x2="380.20" y2="65.20" stroke="#111" stroke-width="1.0"/>
<text x="373.70" y="67.65" font-size="7.0" text-anchor="end" textLength="13.60" lengthAdjust="spacingAndGlyphs">1000</text>
<line x1="377.20" y1="79.80" x2="380.20" y2="79.80" stroke="#111" stroke-width="1.0"/>
<text x="373.70" y="82.25" font-size="7.0" text-anchor="end" textLength="3.40" lengthAdjust="spacingAndGlyphs">0</text>
<line x1="380.20" y1="79.80" x2="498.30" y2="79.80" stroke="#111" stroke-width="1.0"/>
<line x1="393.60" y1="79.80" x2="393.60" y2="82.30" stroke="#111" stroke-width="0.9"/>
<line x1="416.30" y1="79.80" x2="416.30" y2="82.30" stroke="#111" stroke-width="0.9"/>
<line x1="439.20" y1="79.80" x2="439.20" y2="82.30" stroke="#111" stroke-width="0.9"/>
<line x1="462.00" y1="79.80" x2="462.00" y2="82.30" stroke="#111" stroke-width="0.9"/>
<line x1="484.40" y1="79.80" x2="484.40" y2="82.30" stroke="#111" stroke-width="0.9"/>
<text x="425.80" y="39.78" font-size="6.9" textLength="27.20" lengthAdjust="spacingAndGlyphs"><tspan font-style="italic">p</tspan>=0.0026</text>
<rect x="500.80" y="28.30" width="10.50" height="37.50" fill="#dddddf"/>
<text transform="translate(503.53,47.05) rotate(90)" font-size="7.0" text-anchor="middle" textLength="14.6" lengthAdjust="spacingAndGlyphs">Male</text>
<line x1="384.00" y1="79.00" x2="494.20" y2="53.60" stroke="#16518b" stroke-width="1.1"/>
<line x1="384.00" y1="79.60" x2="492.50" y2="62.90" stroke="#c41230" stroke-width="1.1"/>
<circle cx="486.70" cy="26.80" r="1.60" fill="#16518b"/>
<circle cx="486.70" cy="41.50" r="1.60" fill="#16518b"/>
<circle cx="486.70" cy="51.90" r="1.60" fill="#16518b"/>
<circle cx="486.70" cy="53.30" r="1.60" fill="#16518b"/>
<circle cx="477.50" cy="53.00" r="1.60" fill="#16518b"/>
<circle cx="477.50" cy="55.40" r="1.60" fill="#16518b"/>
<circle cx="477.50" cy="57.70" r="1.60" fill="#16518b"/>
<circle cx="477.50" cy="59.40" r="1.60" fill="#16518b"/>
<circle cx="469.40" cy="57.40" r="1.60" fill="#16518b"/>
<circle cx="471.10" cy="58.80" r="1.60" fill="#16518b"/>
<circle cx="473.40" cy="59.40" r="1.60" fill="#16518b"/>
<circle cx="495.90" cy="51.90" r="1.60" fill="#16518b"/>
<circle cx="495.90" cy="54.80" r="1.60" fill="#16518b"/>
<circle cx="473.40" cy="65.50" r="1.60" fill="#16518b"/>
<circle cx="477.50" cy="65.70" r="1.60" fill="#16518b"/>
<circle cx="480.10" cy="63.40" r="1.60" fill="#16518b"/>
<circle cx="491.30" cy="65.20" r="1.60" fill="#16518b"/>
<circle cx="491.30" cy="66.30" r="1.60" fill="#16518b"/>
<circle cx="452.70" cy="71.50" r="1.60" fill="#16518b"/>
<circle cx="432.20" cy="67.80" r="1.60" fill="#16518b"/>
<circle cx="428.80" cy="75.30" r="1.60" fill="#16518b"/>
<circle cx="414.00" cy="74.20" r="1.60" fill="#16518b"/>
<circle cx="414.00" cy="76.20" r="1.60" fill="#16518b"/>
<circle cx="399.20" cy="78.00" r="1.60" fill="#16518b"/>
<circle cx="387.00" cy="78.20" r="1.60" fill="#16518b"/>
<circle cx="389.00" cy="77.20" r="1.60" fill="#16518b"/>
<circle cx="391.00" cy="77.80" r="1.60" fill="#16518b"/>
<circle cx="393.00" cy="78.40" r="1.60" fill="#16518b"/>
<circle cx="388.00" cy="79.00" r="1.60" fill="#16518b"/>
<circle cx="395.50" cy="78.80" r="1.60" fill="#16518b"/>
<circle cx="397.00" cy="78.20" r="1.60" fill="#16518b"/>
<circle cx="386.00" cy="78.80" r="1.60" fill="#16518b"/>
<circle cx="490.70" cy="47.30" r="1.60" fill="#c41230"/>
<circle cx="490.70" cy="51.90" r="1.60" fill="#c41230"/>
<circle cx="493.60" cy="57.70" r="1.60" fill="#c41230"/>
<circle cx="493.60" cy="62.10" r="1.60" fill="#c41230"/>
<circle cx="491.30" cy="68.60" r="1.60" fill="#c41230"/>
<circle cx="479.80" cy="72.70" r="1.60" fill="#c41230"/>
<circle cx="470.60" cy="65.20" r="1.60" fill="#c41230"/>
<circle cx="470.60" cy="68.10" r="1.60" fill="#c41230"/>
<circle cx="469.40" cy="70.60" r="1.60" fill="#c41230"/>
<circle cx="464.20" cy="69.80" r="1.60" fill="#c41230"/>
<circle cx="463.60" cy="74.70" r="1.60" fill="#c41230"/>
<circle cx="452.70" cy="72.70" r="1.60" fill="#c41230"/>
<circle cx="435.80" cy="76.20" r="1.60" fill="#c41230"/>
<circle cx="414.00" cy="77.20" r="1.60" fill="#c41230"/>
<circle cx="393.80" cy="79.00" r="1.60" fill="#c41230"/>
<circle cx="390.00" cy="79.30" r="1.60" fill="#c41230"/>
<circle cx="386.50" cy="79.30" r="1.60" fill="#c41230"/>
<line x1="380.20" y1="85.20" x2="380.20" y2="144.60" stroke="#111" stroke-width="1.0"/>
<line x1="377.20" y1="86.40" x2="380.20" y2="86.40" stroke="#111" stroke-width="1.0"/>
<text x="373.70" y="88.85" font-size="7.0" text-anchor="end" textLength="13.60" lengthAdjust="spacingAndGlyphs">2500</text>
<line x1="377.20" y1="97.80" x2="380.20" y2="97.80" stroke="#111" stroke-width="1.0"/>
<text x="373.70" y="100.25" font-size="7.0" text-anchor="end" textLength="13.60" lengthAdjust="spacingAndGlyphs">2000</text>
<line x1="377.20" y1="109.40" x2="380.20" y2="109.40" stroke="#111" stroke-width="1.0"/>
<text x="373.70" y="111.85" font-size="7.0" text-anchor="end" textLength="13.60" lengthAdjust="spacingAndGlyphs">1500</text>
<line x1="377.20" y1="121.20" x2="380.20" y2="121.20" stroke="#111" stroke-width="1.0"/>
<text x="373.70" y="123.65" font-size="7.0" text-anchor="end" textLength="13.60" lengthAdjust="spacingAndGlyphs">1000</text>
<line x1="377.20" y1="132.80" x2="380.20" y2="132.80" stroke="#111" stroke-width="1.0"/>
<text x="373.70" y="135.25" font-size="7.0" text-anchor="end" textLength="10.20" lengthAdjust="spacingAndGlyphs">500</text>
<line x1="377.20" y1="144.60" x2="380.20" y2="144.60" stroke="#111" stroke-width="1.0"/>
<text x="373.70" y="147.05" font-size="7.0" text-anchor="end" textLength="3.40" lengthAdjust="spacingAndGlyphs">0</text>
<line x1="380.20" y1="144.60" x2="498.30" y2="144.60" stroke="#111" stroke-width="1.0"/>
<line x1="393.60" y1="144.60" x2="393.60" y2="147.10" stroke="#111" stroke-width="0.9"/>
<text x="393.60" y="155.50" font-size="6.9" text-anchor="middle">5</text>
<line x1="416.30" y1="144.60" x2="416.30" y2="147.10" stroke="#111" stroke-width="0.9"/>
<text x="416.30" y="155.50" font-size="6.9" text-anchor="middle">10</text>
<line x1="439.20" y1="144.60" x2="439.20" y2="147.10" stroke="#111" stroke-width="0.9"/>
<text x="439.20" y="155.50" font-size="6.9" text-anchor="middle">15</text>
<line x1="462.00" y1="144.60" x2="462.00" y2="147.10" stroke="#111" stroke-width="0.9"/>
<text x="462.00" y="155.50" font-size="6.9" text-anchor="middle">20</text>
<line x1="484.40" y1="144.60" x2="484.40" y2="147.10" stroke="#111" stroke-width="0.9"/>
<text x="484.40" y="155.50" font-size="6.9" text-anchor="middle">25</text>
<text x="422.90" y="164.22" font-size="7.0" textLength="31.70" lengthAdjust="spacingAndGlyphs">Age/Months</text>
<text x="425.80" y="106.88" font-size="6.9" textLength="27.20" lengthAdjust="spacingAndGlyphs"><tspan font-style="italic">p</tspan>=0.0005</text>
<rect x="500.80" y="96.90" width="10.50" height="37.90" fill="#dddddf"/>
<text transform="translate(503.53,115.85) rotate(90)" font-size="7.0" text-anchor="middle" textLength="20.6" lengthAdjust="spacingAndGlyphs">Female</text>
<line x1="384.00" y1="142.30" x2="485.20" y2="116.80" stroke="#16518b" stroke-width="1.1"/>
<line x1="384.00" y1="144.20" x2="492.50" y2="127.40" stroke="#c41230" stroke-width="1.1"/>
<rect x="381.30" y="138.80" width="3.40" height="3.40" fill="#16518b"/>
<rect x="384.30" y="138.80" width="3.40" height="3.40" fill="#16518b"/>
<rect x="387.30" y="138.80" width="3.40" height="3.40" fill="#16518b"/>
<rect x="390.30" y="139.10" width="3.40" height="3.40" fill="#16518b"/>
<rect x="398.20" y="137.70" width="3.40" height="3.40" fill="#16518b"/>
<rect x="412.30" y="125.60" width="3.40" height="3.40" fill="#16518b"/>
<rect x="415.30" y="128.60" width="3.40" height="3.40" fill="#16518b"/>
<rect x="427.80" y="123.60" width="3.40" height="3.40" fill="#16518b"/>
<rect x="427.80" y="126.30" width="3.40" height="3.40" fill="#16518b"/>
<rect x="427.80" y="128.60" width="3.40" height="3.40" fill="#16518b"/>
<rect x="427.10" y="132.30" width="3.40" height="3.40" fill="#16518b"/>
<rect x="440.60" y="125.00" width="3.40" height="3.40" fill="#16518b"/>
<rect x="455.40" y="126.50" width="3.40" height="3.40" fill="#16518b"/>
<rect x="471.20" y="122.10" width="3.40" height="3.40" fill="#16518b"/>
<rect x="480.10" y="116.90" width="3.40" height="3.40" fill="#16518b"/>
<rect x="483.90" y="121.00" width="3.40" height="3.40" fill="#16518b"/>
<rect x="483.80" y="91.40" width="3.40" height="3.40" fill="#16518b"/>
<rect x="436.80" y="130.30" width="3.40" height="3.40" fill="#16518b"/>
<rect x="381.30" y="140.40" width="3.40" height="3.40" fill="#c41230"/>
<rect x="384.30" y="141.50" width="3.40" height="3.40" fill="#c41230"/>
<rect x="387.30" y="141.80" width="3.40" height="3.40" fill="#c41230"/>
<rect x="390.30" y="140.90" width="3.40" height="3.40" fill="#c41230"/>
<rect x="382.80" y="142.10" width="3.40" height="3.40" fill="#c41230"/>
<rect x="398.90" y="140.40" width="3.40" height="3.40" fill="#c41230"/>
<rect x="412.30" y="137.00" width="3.40" height="3.40" fill="#c41230"/>
<rect x="412.30" y="139.10" width="3.40" height="3.40" fill="#c41230"/>
<rect x="414.30" y="138.00" width="3.40" height="3.40" fill="#c41230"/>
<rect x="427.10" y="136.10" width="3.40" height="3.40" fill="#c41230"/>
<rect x="431.40" y="133.00" width="3.40" height="3.40" fill="#c41230"/>
<rect x="434.50" y="135.30" width="3.40" height="3.40" fill="#c41230"/>
<rect x="438.20" y="126.90" width="3.40" height="3.40" fill="#c41230"/>
<rect x="438.60" y="133.70" width="3.40" height="3.40" fill="#c41230"/>
<rect x="441.30" y="136.30" width="3.40" height="3.40" fill="#c41230"/>
<rect x="440.60" y="134.80" width="3.40" height="3.40" fill="#c41230"/>
<rect x="461.90" y="132.30" width="3.40" height="3.40" fill="#c41230"/>
<rect x="468.90" y="132.30" width="3.40" height="3.40" fill="#c41230"/>
<rect x="471.70" y="128.50" width="3.40" height="3.40" fill="#c41230"/>
<rect x="475.20" y="126.70" width="3.40" height="3.40" fill="#c41230"/>
<rect x="478.10" y="126.70" width="3.40" height="3.40" fill="#c41230"/>
<rect x="478.10" y="132.50" width="3.40" height="3.40" fill="#c41230"/>
<rect x="490.80" y="120.40" width="3.40" height="3.40" fill="#c41230"/>
<rect x="438.90" y="126.70" width="3.40" height="3.40" fill="#c41230"/>
<text x="7.20" y="186.60" font-size="11.2" font-weight="bold" fill="#000" style="stroke:#000">D</text>
<text transform="translate(19.58,251.85) rotate(-90)" x="0" y="0" font-size="6.6" text-anchor="middle" textLength="100.90" lengthAdjust="spacingAndGlyphs">Number of CD41<tspan dy="-2.4" font-size="4.5">+</tspan><tspan dy="2.4"> HSC (per 10</tspan><tspan dy="-2.4" font-size="4.5">6</tspan><tspan dy="2.4"> BM cells)</tspan></text>
<line x1="37.90" y1="207.50" x2="37.90" y2="301.20" stroke="#111" stroke-width="1.15"/>
<line x1="34.90" y1="213.00" x2="37.90" y2="213.00" stroke="#111" stroke-width="1.15"/>
<text x="24.90" y="215.75" font-size="7.0" textLength="6.3" lengthAdjust="spacingAndGlyphs">10</text>
<text x="31.35" y="212.85" font-size="4.9" textLength="2.5" lengthAdjust="spacingAndGlyphs">4</text>
<line x1="34.90" y1="235.00" x2="37.90" y2="235.00" stroke="#111" stroke-width="1.15"/>
<text x="24.90" y="237.75" font-size="7.0" textLength="6.3" lengthAdjust="spacingAndGlyphs">10</text>
<text x="31.35" y="234.85" font-size="4.9" textLength="2.5" lengthAdjust="spacingAndGlyphs">3</text>
<line x1="34.90" y1="257.00" x2="37.90" y2="257.00" stroke="#111" stroke-width="1.15"/>
<text x="24.90" y="259.75" font-size="7.0" textLength="6.3" lengthAdjust="spacingAndGlyphs">10</text>
<text x="31.35" y="256.85" font-size="4.9" textLength="2.5" lengthAdjust="spacingAndGlyphs">2</text>
<line x1="34.90" y1="279.00" x2="37.90" y2="279.00" stroke="#111" stroke-width="1.15"/>
<text x="24.90" y="281.75" font-size="7.0" textLength="6.3" lengthAdjust="spacingAndGlyphs">10</text>
<line x1="34.90" y1="301.20" x2="37.90" y2="301.20" stroke="#111" stroke-width="1.15"/>
<text x="30.50" y="303.65" font-size="7.0" text-anchor="end" textLength="3.30" lengthAdjust="spacingAndGlyphs">1</text>
<line x1="36.30" y1="228.38" x2="37.90" y2="228.38" stroke="#111" stroke-width="0.7"/>
<line x1="36.30" y1="224.50" x2="37.90" y2="224.50" stroke="#111" stroke-width="0.7"/>
<line x1="36.30" y1="221.75" x2="37.90" y2="221.75" stroke="#111" stroke-width="0.7"/>
<line x1="36.30" y1="219.62" x2="37.90" y2="219.62" stroke="#111" stroke-width="0.7"/>
<line x1="36.30" y1="217.88" x2="37.90" y2="217.88" stroke="#111" stroke-width="0.7"/>
<line x1="36.30" y1="216.41" x2="37.90" y2="216.41" stroke="#111" stroke-width="0.7"/>
<line x1="36.30" y1="215.13" x2="37.90" y2="215.13" stroke="#111" stroke-width="0.7"/>
<line x1="36.30" y1="214.01" x2="37.90" y2="214.01" stroke="#111" stroke-width="0.7"/>
<line x1="36.30" y1="250.38" x2="37.90" y2="250.38" stroke="#111" stroke-width="0.7"/>
<line x1="36.30" y1="246.50" x2="37.90" y2="246.50" stroke="#111" stroke-width="0.7"/>
<line x1="36.30" y1="243.75" x2="37.90" y2="243.75" stroke="#111" stroke-width="0.7"/>
<line x1="36.30" y1="241.62" x2="37.90" y2="241.62" stroke="#111" stroke-width="0.7"/>
<line x1="36.30" y1="239.88" x2="37.90" y2="239.88" stroke="#111" stroke-width="0.7"/>
<line x1="36.30" y1="238.41" x2="37.90" y2="238.41" stroke="#111" stroke-width="0.7"/>
<line x1="36.30" y1="237.13" x2="37.90" y2="237.13" stroke="#111" stroke-width="0.7"/>
<line x1="36.30" y1="236.01" x2="37.90" y2="236.01" stroke="#111" stroke-width="0.7"/>
<line x1="36.30" y1="272.38" x2="37.90" y2="272.38" stroke="#111" stroke-width="0.7"/>
<line x1="36.30" y1="268.50" x2="37.90" y2="268.50" stroke="#111" stroke-width="0.7"/>
<line x1="36.30" y1="265.75" x2="37.90" y2="265.75" stroke="#111" stroke-width="0.7"/>
<line x1="36.30" y1="263.62" x2="37.90" y2="263.62" stroke="#111" stroke-width="0.7"/>
<line x1="36.30" y1="261.88" x2="37.90" y2="261.88" stroke="#111" stroke-width="0.7"/>
<line x1="36.30" y1="260.41" x2="37.90" y2="260.41" stroke="#111" stroke-width="0.7"/>
<line x1="36.30" y1="259.13" x2="37.90" y2="259.13" stroke="#111" stroke-width="0.7"/>
<line x1="36.30" y1="258.01" x2="37.90" y2="258.01" stroke="#111" stroke-width="0.7"/>
<line x1="36.30" y1="294.52" x2="37.90" y2="294.52" stroke="#111" stroke-width="0.7"/>
<line x1="36.30" y1="290.61" x2="37.90" y2="290.61" stroke="#111" stroke-width="0.7"/>
<line x1="36.30" y1="287.83" x2="37.90" y2="287.83" stroke="#111" stroke-width="0.7"/>
<line x1="36.30" y1="285.68" x2="37.90" y2="285.68" stroke="#111" stroke-width="0.7"/>
<line x1="36.30" y1="283.93" x2="37.90" y2="283.93" stroke="#111" stroke-width="0.7"/>
<line x1="36.30" y1="282.44" x2="37.90" y2="282.44" stroke="#111" stroke-width="0.7"/>
<line x1="36.30" y1="281.15" x2="37.90" y2="281.15" stroke="#111" stroke-width="0.7"/>
<line x1="36.30" y1="280.02" x2="37.90" y2="280.02" stroke="#111" stroke-width="0.7"/>
<line x1="37.90" y1="301.20" x2="106.30" y2="301.20" stroke="#111" stroke-width="1.15"/>
<line x1="48.75" y1="301.20" x2="48.75" y2="304.20" stroke="#111" stroke-width="1.15"/>
<line x1="72.50" y1="301.20" x2="72.50" y2="304.20" stroke="#111" stroke-width="1.15"/>
<line x1="95.75" y1="301.20" x2="95.75" y2="304.20" stroke="#111" stroke-width="1.15"/>
<text x="41.30" y="214.20" font-size="7.0" textLength="14.20" lengthAdjust="spacingAndGlyphs">Male</text>
<text x="48.75" y="312.60" font-size="6.4" text-anchor="middle">Young</text>
<text x="72.50" y="312.60" font-size="6.4" text-anchor="middle">Middle</text>
<text x="95.75" y="312.60" font-size="6.4" text-anchor="middle">Old</text>
<line x1="115.60" y1="208.50" x2="115.60" y2="301.20" stroke="#111" stroke-width="1.15"/>
<line x1="112.60" y1="213.00" x2="115.60" y2="213.00" stroke="#111" stroke-width="1.15"/>
<line x1="112.60" y1="235.00" x2="115.60" y2="235.00" stroke="#111" stroke-width="1.15"/>
<line x1="112.60" y1="257.00" x2="115.60" y2="257.00" stroke="#111" stroke-width="1.15"/>
<line x1="112.60" y1="279.00" x2="115.60" y2="279.00" stroke="#111" stroke-width="1.15"/>
<line x1="112.60" y1="301.20" x2="115.60" y2="301.20" stroke="#111" stroke-width="1.15"/>
<line x1="114.00" y1="228.38" x2="115.60" y2="228.38" stroke="#111" stroke-width="0.7"/>
<line x1="114.00" y1="224.50" x2="115.60" y2="224.50" stroke="#111" stroke-width="0.7"/>
<line x1="114.00" y1="221.75" x2="115.60" y2="221.75" stroke="#111" stroke-width="0.7"/>
<line x1="114.00" y1="219.62" x2="115.60" y2="219.62" stroke="#111" stroke-width="0.7"/>
<line x1="114.00" y1="217.88" x2="115.60" y2="217.88" stroke="#111" stroke-width="0.7"/>
<line x1="114.00" y1="216.41" x2="115.60" y2="216.41" stroke="#111" stroke-width="0.7"/>
<line x1="114.00" y1="215.13" x2="115.60" y2="215.13" stroke="#111" stroke-width="0.7"/>
<line x1="114.00" y1="214.01" x2="115.60" y2="214.01" stroke="#111" stroke-width="0.7"/>
<line x1="114.00" y1="250.38" x2="115.60" y2="250.38" stroke="#111" stroke-width="0.7"/>
<line x1="114.00" y1="246.50" x2="115.60" y2="246.50" stroke="#111" stroke-width="0.7"/>
<line x1="114.00" y1="243.75" x2="115.60" y2="243.75" stroke="#111" stroke-width="0.7"/>
<line x1="114.00" y1="241.62" x2="115.60" y2="241.62" stroke="#111" stroke-width="0.7"/>
<line x1="114.00" y1="239.88" x2="115.60" y2="239.88" stroke="#111" stroke-width="0.7"/>
<line x1="114.00" y1="238.41" x2="115.60" y2="238.41" stroke="#111" stroke-width="0.7"/>
<line x1="114.00" y1="237.13" x2="115.60" y2="237.13" stroke="#111" stroke-width="0.7"/>
<line x1="114.00" y1="236.01" x2="115.60" y2="236.01" stroke="#111" stroke-width="0.7"/>
<line x1="114.00" y1="272.38" x2="115.60" y2="272.38" stroke="#111" stroke-width="0.7"/>
<line x1="114.00" y1="268.50" x2="115.60" y2="268.50" stroke="#111" stroke-width="0.7"/>
<line x1="114.00" y1="265.75" x2="115.60" y2="265.75" stroke="#111" stroke-width="0.7"/>
<line x1="114.00" y1="263.62" x2="115.60" y2="263.62" stroke="#111" stroke-width="0.7"/>
<line x1="114.00" y1="261.88" x2="115.60" y2="261.88" stroke="#111" stroke-width="0.7"/>
<line x1="114.00" y1="260.41" x2="115.60" y2="260.41" stroke="#111" stroke-width="0.7"/>
<line x1="114.00" y1="259.13" x2="115.60" y2="259.13" stroke="#111" stroke-width="0.7"/>
<line x1="114.00" y1="258.01" x2="115.60" y2="258.01" stroke="#111" stroke-width="0.7"/>
<line x1="114.00" y1="294.52" x2="115.60" y2="294.52" stroke="#111" stroke-width="0.7"/>
<line x1="114.00" y1="290.61" x2="115.60" y2="290.61" stroke="#111" stroke-width="0.7"/>
<line x1="114.00" y1="287.83" x2="115.60" y2="287.83" stroke="#111" stroke-width="0.7"/>
<line x1="114.00" y1="285.68" x2="115.60" y2="285.68" stroke="#111" stroke-width="0.7"/>
<line x1="114.00" y1="283.93" x2="115.60" y2="283.93" stroke="#111" stroke-width="0.7"/>
<line x1="114.00" y1="282.44" x2="115.60" y2="282.44" stroke="#111" stroke-width="0.7"/>
<line x1="114.00" y1="281.15" x2="115.60" y2="281.15" stroke="#111" stroke-width="0.7"/>
<line x1="114.00" y1="280.02" x2="115.60" y2="280.02" stroke="#111" stroke-width="0.7"/>
<line x1="115.60" y1="301.20" x2="184.60" y2="301.20" stroke="#111" stroke-width="1.15"/>
<line x1="127.90" y1="301.20" x2="127.90" y2="304.20" stroke="#111" stroke-width="1.15"/>
<line x1="150.40" y1="301.20" x2="150.40" y2="304.20" stroke="#111" stroke-width="1.15"/>
<line x1="173.00" y1="301.20" x2="173.00" y2="304.20" stroke="#111" stroke-width="1.15"/>
<text x="119.60" y="214.20" font-size="7.0" textLength="20.80" lengthAdjust="spacingAndGlyphs">Female</text>
<text x="127.90" y="312.60" font-size="6.4" text-anchor="middle">Young</text>
<text x="150.40" y="312.60" font-size="6.4" text-anchor="middle">Middle</text>
<text x="173.00" y="312.60" font-size="6.4" text-anchor="middle">Old</text>
<line x1="44.50" y1="268.12" x2="44.50" y2="278.12" stroke="#111" stroke-width="1.0"/>
<line x1="42.50" y1="268.12" x2="46.50" y2="268.12" stroke="#111" stroke-width="1.0"/>
<line x1="42.50" y1="278.12" x2="46.50" y2="278.12" stroke="#111" stroke-width="1.0"/>
<line x1="39.90" y1="272.50" x2="49.10" y2="272.50" stroke="#111" stroke-width="1.3"/>
<circle cx="44.50" cy="277.17" r="1.55" fill="#16518b"/>
<circle cx="44.50" cy="269.90" r="1.55" fill="#16518b"/>
<circle cx="47.29" cy="269.12" r="1.55" fill="#16518b"/>
<circle cx="47.29" cy="276.94" r="1.55" fill="#16518b"/>
<circle cx="44.50" cy="267.23" r="1.55" fill="#16518b"/>
<circle cx="41.71" cy="276.92" r="1.55" fill="#16518b"/>
<circle cx="44.50" cy="272.92" r="1.55" fill="#16518b"/>
<circle cx="41.71" cy="273.28" r="1.55" fill="#16518b"/>
<circle cx="41.71" cy="270.13" r="1.55" fill="#16518b"/>
<circle cx="44.50" cy="263.75" r="1.55" fill="#16518b"/>
<circle cx="44.50" cy="283.75" r="1.55" fill="#16518b"/>
<circle cx="47.29" cy="273.20" r="1.55" fill="#16518b"/>
<circle cx="44.90" cy="270.18" r="1.55" fill="#16518b"/>
<circle cx="41.33" cy="274.69" r="1.55" fill="#16518b"/>
<circle cx="47.57" cy="274.09" r="1.55" fill="#16518b"/>
<circle cx="42.82" cy="275.40" r="1.55" fill="#16518b"/>
<circle cx="47.29" cy="264.50" r="1.55" fill="#16518b"/>
<circle cx="46.86" cy="271.81" r="1.55" fill="#16518b"/>
<line x1="55.00" y1="277.25" x2="55.00" y2="287.25" stroke="#111" stroke-width="1.0"/>
<line x1="53.00" y1="277.25" x2="57.00" y2="277.25" stroke="#111" stroke-width="1.0"/>
<line x1="53.00" y1="287.25" x2="57.00" y2="287.25" stroke="#111" stroke-width="1.0"/>
<line x1="50.40" y1="282.00" x2="59.60" y2="282.00" stroke="#111" stroke-width="1.3"/>
<circle cx="55.00" cy="288.50" r="1.55" fill="#c41230"/>
<circle cx="55.00" cy="280.60" r="1.55" fill="#c41230"/>
<circle cx="55.00" cy="284.37" r="1.55" fill="#c41230"/>
<circle cx="57.79" cy="288.72" r="1.55" fill="#c41230"/>
<circle cx="52.21" cy="289.54" r="1.55" fill="#c41230"/>
<circle cx="53.38" cy="287.68" r="1.55" fill="#c41230"/>
<circle cx="57.79" cy="279.14" r="1.55" fill="#c41230"/>
<circle cx="55.00" cy="291.96" r="1.55" fill="#c41230"/>
<circle cx="52.37" cy="289.58" r="1.55" fill="#c41230"/>
<circle cx="57.79" cy="283.94" r="1.55" fill="#c41230"/>
<circle cx="57.79" cy="292.50" r="1.55" fill="#c41230"/>
<circle cx="55.00" cy="277.29" r="1.55" fill="#c41230"/>
<circle cx="52.21" cy="277.66" r="1.55" fill="#c41230"/>
<circle cx="52.21" cy="280.29" r="1.55" fill="#c41230"/>
<circle cx="53.83" cy="278.42" r="1.55" fill="#c41230"/>
<circle cx="52.21" cy="283.35" r="1.55" fill="#c41230"/>
<circle cx="55.00" cy="272.50" r="1.55" fill="#c41230"/>
<circle cx="53.60" cy="274.62" r="1.55" fill="#c41230"/>
<line x1="67.00" y1="234.50" x2="67.00" y2="252.50" stroke="#111" stroke-width="1.0"/>
<line x1="65.00" y1="234.50" x2="69.00" y2="234.50" stroke="#111" stroke-width="1.0"/>
<line x1="65.00" y1="252.50" x2="69.00" y2="252.50" stroke="#111" stroke-width="1.0"/>
<line x1="62.40" y1="240.00" x2="71.60" y2="240.00" stroke="#111" stroke-width="1.3"/>
<circle cx="67.00" cy="250.00" r="1.55" fill="#16518b"/>
<circle cx="67.00" cy="234.50" r="1.55" fill="#16518b"/>
<circle cx="67.00" cy="246.59" r="1.55" fill="#16518b"/>
<line x1="77.50" y1="248.38" x2="77.50" y2="249.12" stroke="#111" stroke-width="1.0"/>
<line x1="75.50" y1="248.38" x2="79.50" y2="248.38" stroke="#111" stroke-width="1.0"/>
<line x1="75.50" y1="249.12" x2="79.50" y2="249.12" stroke="#111" stroke-width="1.0"/>
<line x1="72.90" y1="248.75" x2="82.10" y2="248.75" stroke="#111" stroke-width="1.3"/>
<circle cx="77.50" cy="249.50" r="1.55" fill="#c41230"/>
<circle cx="74.71" cy="249.08" r="1.55" fill="#c41230"/>
<circle cx="80.29" cy="248.00" r="1.55" fill="#c41230"/>
<circle cx="79.06" cy="248.93" r="1.55" fill="#c41230"/>
<line x1="90.00" y1="233.62" x2="90.00" y2="238.38" stroke="#111" stroke-width="1.0"/>
<line x1="88.00" y1="233.62" x2="92.00" y2="233.62" stroke="#111" stroke-width="1.0"/>
<line x1="88.00" y1="238.38" x2="92.00" y2="238.38" stroke="#111" stroke-width="1.0"/>
<line x1="85.40" y1="236.25" x2="94.60" y2="236.25" stroke="#111" stroke-width="1.3"/>
<circle cx="90.00" cy="231.00" r="1.55" fill="#16518b"/>
<circle cx="90.00" cy="237.99" r="1.55" fill="#16518b"/>
<circle cx="90.00" cy="235.34" r="1.55" fill="#16518b"/>
<circle cx="87.21" cy="238.22" r="1.55" fill="#16518b"/>
<circle cx="87.21" cy="234.27" r="1.55" fill="#16518b"/>
<circle cx="90.00" cy="240.50" r="1.55" fill="#16518b"/>
<circle cx="92.79" cy="234.91" r="1.55" fill="#16518b"/>
<circle cx="89.54" cy="234.57" r="1.55" fill="#16518b"/>
<circle cx="92.79" cy="239.12" r="1.55" fill="#16518b"/>
<circle cx="87.50" cy="238.78" r="1.55" fill="#16518b"/>
<circle cx="92.79" cy="232.45" r="1.55" fill="#16518b"/>
<circle cx="89.01" cy="236.67" r="1.55" fill="#16518b"/>
<line x1="100.75" y1="239.75" x2="100.75" y2="246.00" stroke="#111" stroke-width="1.0"/>
<line x1="98.75" y1="239.75" x2="102.75" y2="239.75" stroke="#111" stroke-width="1.0"/>
<line x1="98.75" y1="246.00" x2="102.75" y2="246.00" stroke="#111" stroke-width="1.0"/>
<line x1="96.15" y1="242.50" x2="105.35" y2="242.50" stroke="#111" stroke-width="1.3"/>
<circle cx="100.75" cy="240.76" r="1.55" fill="#c41230"/>
<circle cx="100.75" cy="237.00" r="1.55" fill="#c41230"/>
<circle cx="100.75" cy="244.96" r="1.55" fill="#c41230"/>
<circle cx="103.54" cy="244.80" r="1.55" fill="#c41230"/>
<circle cx="97.96" cy="238.69" r="1.55" fill="#c41230"/>
<circle cx="103.54" cy="240.73" r="1.55" fill="#c41230"/>
<circle cx="97.96" cy="243.59" r="1.55" fill="#c41230"/>
<circle cx="102.14" cy="238.98" r="1.55" fill="#c41230"/>
<circle cx="100.17" cy="245.08" r="1.55" fill="#c41230"/>
<circle cx="100.75" cy="249.50" r="1.55" fill="#c41230"/>
<text x="40.00" y="259.88" font-size="6.9" textLength="26.00" lengthAdjust="spacingAndGlyphs"><tspan font-style="italic">p</tspan>&lt;0.0001</text>
<line x1="45.00" y1="261.95" x2="53.75" y2="261.95" stroke="#333" stroke-width="1.0"/>
<text x="68.75" y="231.38" font-size="6.9" textLength="6.25" lengthAdjust="spacingAndGlyphs">ns</text>
<line x1="67.00" y1="232.70" x2="76.00" y2="232.70" stroke="#333" stroke-width="1.0"/>
<text x="80.00" y="226.13" font-size="6.9" textLength="28.00" lengthAdjust="spacingAndGlyphs"><tspan font-style="italic">p</tspan>=0.0402</text>
<line x1="88.75" y1="228.45" x2="99.50" y2="228.45" stroke="#333" stroke-width="1.0"/>
<line x1="123.00" y1="268.75" x2="123.00" y2="275.55" stroke="#111" stroke-width="1.0"/>
<line x1="121.00" y1="268.75" x2="125.00" y2="268.75" stroke="#111" stroke-width="1.0"/>
<line x1="121.00" y1="275.55" x2="125.00" y2="275.55" stroke="#111" stroke-width="1.0"/>
<line x1="118.40" y1="271.50" x2="127.60" y2="271.50" stroke="#111" stroke-width="1.3"/>
<rect x="121.50" y="268.33" width="3.00" height="3.00" fill="#16518b"/>
<rect x="124.20" y="266.71" width="3.00" height="3.00" fill="#16518b"/>
<rect x="121.50" y="275.92" width="3.00" height="3.00" fill="#16518b"/>
<rect x="121.50" y="278.10" width="3.00" height="3.00" fill="#16518b"/>
<rect x="118.80" y="268.20" width="3.00" height="3.00" fill="#16518b"/>
<rect x="121.50" y="271.88" width="3.00" height="3.00" fill="#16518b"/>
<rect x="122.85" y="273.70" width="3.00" height="3.00" fill="#16518b"/>
<rect x="120.15" y="273.58" width="3.00" height="3.00" fill="#16518b"/>
<rect x="124.20" y="269.49" width="3.00" height="3.00" fill="#16518b"/>
<rect x="118.80" y="270.61" width="3.00" height="3.00" fill="#16518b"/>
<rect x="121.50" y="264.50" width="3.00" height="3.00" fill="#16518b"/>
<rect x="123.38" y="274.95" width="3.00" height="3.00" fill="#16518b"/>
<rect x="117.68" y="269.78" width="3.00" height="3.00" fill="#16518b"/>
<rect x="120.88" y="275.09" width="3.00" height="3.00" fill="#16518b"/>
<rect x="118.00" y="272.36" width="3.00" height="3.00" fill="#16518b"/>
<rect x="118.79" y="266.81" width="3.00" height="3.00" fill="#16518b"/>
<line x1="133.60" y1="272.00" x2="133.60" y2="286.30" stroke="#111" stroke-width="1.0"/>
<line x1="131.60" y1="272.00" x2="135.60" y2="272.00" stroke="#111" stroke-width="1.0"/>
<line x1="131.60" y1="286.30" x2="135.60" y2="286.30" stroke="#111" stroke-width="1.0"/>
<line x1="129.00" y1="277.30" x2="138.20" y2="277.30" stroke="#111" stroke-width="1.3"/>
<rect x="132.10" y="277.00" width="3.00" height="3.00" fill="#c41230"/>
<rect x="132.10" y="272.05" width="3.00" height="3.00" fill="#c41230"/>
<rect x="132.10" y="291.50" width="3.00" height="3.00" fill="#c41230"/>
<rect x="132.10" y="266.50" width="3.00" height="3.00" fill="#c41230"/>
<rect x="129.40" y="273.54" width="3.00" height="3.00" fill="#c41230"/>
<rect x="134.80" y="271.62" width="3.00" height="3.00" fill="#c41230"/>
<rect x="135.19" y="272.93" width="3.00" height="3.00" fill="#c41230"/>
<rect x="133.45" y="278.93" width="3.00" height="3.00" fill="#c41230"/>
<rect x="134.10" y="272.02" width="3.00" height="3.00" fill="#c41230"/>
<rect x="134.80" y="276.38" width="3.00" height="3.00" fill="#c41230"/>
<line x1="145.80" y1="238.60" x2="145.80" y2="243.10" stroke="#111" stroke-width="1.0"/>
<line x1="143.80" y1="238.60" x2="147.80" y2="238.60" stroke="#111" stroke-width="1.0"/>
<line x1="143.80" y1="243.10" x2="147.80" y2="243.10" stroke="#111" stroke-width="1.0"/>
<line x1="141.20" y1="240.20" x2="150.40" y2="240.20" stroke="#111" stroke-width="1.3"/>
<rect x="144.30" y="238.38" width="3.00" height="3.00" fill="#16518b"/>
<rect x="144.30" y="235.50" width="3.00" height="3.00" fill="#16518b"/>
<rect x="141.60" y="239.64" width="3.00" height="3.00" fill="#16518b"/>
<rect x="144.30" y="241.65" width="3.00" height="3.00" fill="#16518b"/>
<rect x="144.30" y="244.50" width="3.00" height="3.00" fill="#16518b"/>
<rect x="147.00" y="239.12" width="3.00" height="3.00" fill="#16518b"/>
<rect x="147.16" y="238.66" width="3.00" height="3.00" fill="#16518b"/>
<rect x="141.60" y="243.33" width="3.00" height="3.00" fill="#16518b"/>
<rect x="145.69" y="239.44" width="3.00" height="3.00" fill="#16518b"/>
<rect x="141.60" y="237.23" width="3.00" height="3.00" fill="#16518b"/>
<rect x="144.45" y="238.98" width="3.00" height="3.00" fill="#16518b"/>
<rect x="147.05" y="238.65" width="3.00" height="3.00" fill="#16518b"/>
<line x1="155.80" y1="244.00" x2="155.80" y2="250.00" stroke="#111" stroke-width="1.0"/>
<line x1="153.80" y1="244.00" x2="157.80" y2="244.00" stroke="#111" stroke-width="1.0"/>
<line x1="153.80" y1="250.00" x2="157.80" y2="250.00" stroke="#111" stroke-width="1.0"/>
<line x1="151.20" y1="247.00" x2="160.40" y2="247.00" stroke="#111" stroke-width="1.3"/>
<rect x="154.30" y="243.39" width="3.00" height="3.00" fill="#c41230"/>
<rect x="157.00" y="244.85" width="3.00" height="3.00" fill="#c41230"/>
<rect x="151.60" y="243.80" width="3.00" height="3.00" fill="#c41230"/>
<rect x="154.30" y="245.74" width="3.00" height="3.00" fill="#c41230"/>
<rect x="151.60" y="246.51" width="3.00" height="3.00" fill="#c41230"/>
<rect x="154.30" y="251.50" width="3.00" height="3.00" fill="#c41230"/>
<rect x="152.71" y="244.06" width="3.00" height="3.00" fill="#c41230"/>
<rect x="154.30" y="239.50" width="3.00" height="3.00" fill="#c41230"/>
<rect x="152.33" y="246.42" width="3.00" height="3.00" fill="#c41230"/>
<rect x="151.60" y="240.97" width="3.00" height="3.00" fill="#c41230"/>
<line x1="168.30" y1="241.05" x2="168.30" y2="243.75" stroke="#111" stroke-width="1.0"/>
<line x1="166.30" y1="241.05" x2="170.30" y2="241.05" stroke="#111" stroke-width="1.0"/>
<line x1="166.30" y1="243.75" x2="170.30" y2="243.75" stroke="#111" stroke-width="1.0"/>
<line x1="163.70" y1="242.10" x2="172.90" y2="242.10" stroke="#111" stroke-width="1.3"/>
<rect x="166.80" y="240.61" width="3.00" height="3.00" fill="#16518b"/>
<rect x="169.50" y="241.53" width="3.00" height="3.00" fill="#16518b"/>
<rect x="164.10" y="239.63" width="3.00" height="3.00" fill="#16518b"/>
<rect x="166.80" y="243.90" width="3.00" height="3.00" fill="#16518b"/>
<rect x="168.15" y="238.50" width="3.00" height="3.00" fill="#16518b"/>
<rect x="165.64" y="238.87" width="3.00" height="3.00" fill="#16518b"/>
<line x1="178.50" y1="246.65" x2="178.50" y2="249.45" stroke="#111" stroke-width="1.0"/>
<line x1="176.50" y1="246.65" x2="180.50" y2="246.65" stroke="#111" stroke-width="1.0"/>
<line x1="176.50" y1="249.45" x2="180.50" y2="249.45" stroke="#111" stroke-width="1.0"/>
<line x1="173.90" y1="247.90" x2="183.10" y2="247.90" stroke="#111" stroke-width="1.3"/>
<rect x="177.00" y="249.50" width="3.00" height="3.00" fill="#c41230"/>
<rect x="177.00" y="245.63" width="3.00" height="3.00" fill="#c41230"/>
<rect x="175.65" y="243.90" width="3.00" height="3.00" fill="#c41230"/>
<rect x="179.70" y="245.96" width="3.00" height="3.00" fill="#c41230"/>
<rect x="173.90" y="244.94" width="3.00" height="3.00" fill="#c41230"/>
<text x="117.70" y="262.88" font-size="6.9" textLength="26.50" lengthAdjust="spacingAndGlyphs"><tspan font-style="italic">p</tspan>=0.0071</text>
<line x1="124.00" y1="264.40" x2="132.70" y2="264.40" stroke="#333" stroke-width="1.0"/>
<text x="139.40" y="233.38" font-size="6.9" textLength="26.90" lengthAdjust="spacingAndGlyphs"><tspan font-style="italic">p</tspan>=0.0196</text>
<line x1="148.00" y1="235.60" x2="155.80" y2="235.60" stroke="#333" stroke-width="1.0"/>
<text x="169.60" y="236.88" font-size="6.9" textLength="6.40" lengthAdjust="spacingAndGlyphs">ns</text>
<line x1="170.00" y1="238.50" x2="178.00" y2="238.50" stroke="#333" stroke-width="1.0"/>
<text x="197.80" y="186.90" font-size="11.2" font-weight="bold" fill="#000" style="stroke:#000">E</text>
<text x="235.70" y="195.55" font-size="6.8" font-style="italic" textLength="35.30" lengthAdjust="spacingAndGlyphs">Igf2bp2<tspan dy="-2.9" font-size="5.0">+/+</tspan></text>
<text x="286.60" y="195.55" font-size="6.8" font-style="italic" textLength="33.80" lengthAdjust="spacingAndGlyphs">Igf2bp2<tspan dy="-2.9" font-size="5.0">−/−</tspan></text>
<rect x="272.00" y="202.50" width="3.00" height="104.20" fill="#c4c4c4"/>
<line x1="221.40" y1="254.15" x2="325.40" y2="254.15" stroke="#bbb" stroke-width="0.9" stroke-dasharray="2.5 2"/>
<rect x="221.00" y="202.10" width="51.40" height="51.00" fill="none" stroke="#333" stroke-width="0.9"/>
<rect x="274.60" y="202.10" width="51.10" height="51.00" fill="none" stroke="#333" stroke-width="0.9"/>
<rect x="221.00" y="255.20" width="51.40" height="51.90" fill="none" stroke="#333" stroke-width="0.9"/>
<rect x="274.60" y="255.20" width="51.30" height="51.90" fill="none" stroke="#333" stroke-width="0.9"/>
<line x1="255.60" y1="202.10" x2="255.60" y2="253.10" stroke="#555" stroke-width="0.7"/>
<line x1="308.30" y1="202.10" x2="308.30" y2="253.10" stroke="#555" stroke-width="0.7"/>
<line x1="255.60" y1="255.20" x2="255.60" y2="307.10" stroke="#555" stroke-width="0.7"/>
<line x1="308.30" y1="255.20" x2="308.30" y2="307.10" stroke="#555" stroke-width="0.7"/>
<ellipse cx="253.50" cy="212.80" rx="4.50" ry="3.00" transform="rotate(-25 253.50 212.80)" fill="#c4c4c4" stroke="#222" stroke-width="0.5"/>
<ellipse cx="253.50" cy="212.80" rx="3.30" ry="2.20" transform="rotate(-25 253.50 212.80)" fill="#eeeeee" stroke="#222" stroke-width="0.5"/>
<ellipse cx="253.50" cy="212.80" rx="2.10" ry="1.40" transform="rotate(-25 253.50 212.80)" fill="#9a9a9a" stroke="#222" stroke-width="0.5"/>
<ellipse cx="247.00" cy="214.50" rx="2.00" ry="1.20" transform="rotate(-20 247.00 214.50)" fill="#c4c4c4" stroke="#222" stroke-width="0.5"/>
<circle cx="243.50" cy="218.00" r="0.70" fill="#333"/>
<circle cx="239.50" cy="220.50" r="0.70" fill="#333"/>
<circle cx="238.20" cy="223.50" r="0.70" fill="#333"/>
<circle cx="241.50" cy="223.00" r="0.70" fill="#333"/>
<circle cx="246.00" cy="212.00" r="0.70" fill="#333"/>
<circle cx="250.00" cy="209.50" r="0.70" fill="#333"/>
<circle cx="259.50" cy="210.00" r="0.70" fill="#333"/>
<circle cx="247.80" cy="217.50" r="0.70" fill="#333"/>
<circle cx="252.50" cy="219.00" r="0.70" fill="#333"/>
<ellipse cx="301.20" cy="221.50" rx="3.50" ry="5.00" transform="rotate(15 301.20 221.50)" fill="#c4c4c4" stroke="#222" stroke-width="0.5"/>
<ellipse cx="301.20" cy="221.50" rx="2.57" ry="3.67" transform="rotate(15 301.20 221.50)" fill="#eeeeee" stroke="#222" stroke-width="0.5"/>
<ellipse cx="301.20" cy="221.50" rx="1.63" ry="2.33" transform="rotate(15 301.20 221.50)" fill="#9a9a9a" stroke="#222" stroke-width="0.5"/>
<ellipse cx="297.50" cy="216.50" rx="2.20" ry="1.60" transform="rotate(30 297.50 216.50)" fill="#c4c4c4" stroke="#222" stroke-width="0.5"/>
<ellipse cx="297.50" cy="216.50" rx="1.32" ry="0.96" transform="rotate(30 297.50 216.50)" fill="#eeeeee" stroke="#222" stroke-width="0.5"/>
<ellipse cx="309.50" cy="215.50" rx="2.30" ry="1.40" transform="rotate(40 309.50 215.50)" fill="#c4c4c4" stroke="#222" stroke-width="0.5"/>
<ellipse cx="309.50" cy="215.50" rx="1.38" ry="0.84" transform="rotate(40 309.50 215.50)" fill="#eeeeee" stroke="#222" stroke-width="0.5"/>
<circle cx="295.50" cy="215.50" r="0.60" fill="#333"/>
<circle cx="311.50" cy="210.50" r="0.60" fill="#333"/>
<circle cx="298.00" cy="226.00" r="0.60" fill="#333"/>
<ellipse cx="256.50" cy="265.80" rx="7.80" ry="6.20" transform="rotate(0 256.50 265.80)" fill="#c4c4c4" stroke="#222" stroke-width="0.5"/>
<ellipse cx="256.50" cy="265.80" rx="6.55" ry="5.21" transform="rotate(0 256.50 265.80)" fill="#eeeeee" stroke="#222" stroke-width="0.5"/>
<ellipse cx="256.50" cy="265.80" rx="5.30" ry="4.22" transform="rotate(0 256.50 265.80)" fill="#9a9a9a" stroke="#222" stroke-width="0.5"/>
<ellipse cx="256.50" cy="265.80" rx="4.06" ry="3.22" transform="rotate(0 256.50 265.80)" fill="#dddddd" stroke="#222" stroke-width="0.5"/>
<ellipse cx="256.50" cy="265.80" rx="2.81" ry="2.23" transform="rotate(0 256.50 265.80)" fill="#666" stroke="#222" stroke-width="0.5"/>
<ellipse cx="251.50" cy="263.50" rx="3.00" ry="3.40" transform="rotate(0 251.50 263.50)" fill="#c4c4c4" stroke="#222" stroke-width="0.5"/>
<ellipse cx="251.50" cy="263.50" rx="2.20" ry="2.49" transform="rotate(0 251.50 263.50)" fill="#eeeeee" stroke="#222" stroke-width="0.5"/>
<ellipse cx="251.50" cy="263.50" rx="1.40" ry="1.59" transform="rotate(0 251.50 263.50)" fill="#9a9a9a" stroke="#222" stroke-width="0.5"/>
<ellipse cx="259.50" cy="268.50" rx="3.00" ry="3.20" transform="rotate(0 259.50 268.50)" fill="#c4c4c4" stroke="#222" stroke-width="0.5"/>
<ellipse cx="259.50" cy="268.50" rx="2.20" ry="2.35" transform="rotate(0 259.50 268.50)" fill="#eeeeee" stroke="#222" stroke-width="0.5"/>
<ellipse cx="259.50" cy="268.50" rx="1.40" ry="1.49" transform="rotate(0 259.50 268.50)" fill="#9a9a9a" stroke="#222" stroke-width="0.5"/>
<circle cx="243.00" cy="263.50" r="0.70" fill="#333"/>
<circle cx="250.00" cy="275.00" r="0.70" fill="#333"/>
<circle cx="257.00" cy="275.50" r="0.70" fill="#333"/>
<ellipse cx="309.50" cy="268.50" rx="8.50" ry="3.60" transform="rotate(-48 309.50 268.50)" fill="#c4c4c4" stroke="#222" stroke-width="0.5"/>
<ellipse cx="309.50" cy="268.50" rx="6.80" ry="2.88" transform="rotate(-48 309.50 268.50)" fill="#eeeeee" stroke="#222" stroke-width="0.5"/>
<ellipse cx="309.50" cy="268.50" rx="5.10" ry="2.16" transform="rotate(-48 309.50 268.50)" fill="#9a9a9a" stroke="#222" stroke-width="0.5"/>
<ellipse cx="309.50" cy="268.50" rx="3.40" ry="1.44" transform="rotate(-48 309.50 268.50)" fill="#dddddd" stroke="#222" stroke-width="0.5"/>
<ellipse cx="304.00" cy="275.50" rx="3.50" ry="2.50" transform="rotate(-50 304.00 275.50)" fill="#c4c4c4" stroke="#222" stroke-width="0.5"/>
<ellipse cx="304.00" cy="275.50" rx="2.10" ry="1.50" transform="rotate(-50 304.00 275.50)" fill="#eeeeee" stroke="#222" stroke-width="0.5"/>
<circle cx="301.50" cy="278.80" r="0.60" fill="#333"/>
<circle cx="300.50" cy="280.00" r="0.60" fill="#333"/>
<circle cx="314.50" cy="259.50" r="0.60" fill="#333"/>
<circle cx="296.00" cy="273.00" r="0.60" fill="#333"/>
<text x="223.50" y="238.80" font-size="6.8" textLength="16.60" lengthAdjust="spacingAndGlyphs">CD41<tspan dy="-2.4" font-size="4.2">−</tspan></text>
<text x="223.50" y="247.63" font-size="7.3" textLength="16.80" lengthAdjust="spacingAndGlyphs">75.8%</text>
<text x="278.80" y="238.80" font-size="6.8" textLength="16.80" lengthAdjust="spacingAndGlyphs">CD41<tspan dy="-2.4" font-size="4.2">−</tspan></text>
<text x="278.80" y="247.63" font-size="7.3" textLength="16.80" lengthAdjust="spacingAndGlyphs">81.8%</text>
<text x="223.50" y="293.10" font-size="6.8" textLength="16.60" lengthAdjust="spacingAndGlyphs">CD41<tspan dy="-2.4" font-size="4.2">−</tspan></text>
<text x="223.50" y="301.93" font-size="7.3" textLength="16.80" lengthAdjust="spacingAndGlyphs">30.5%</text>
<text x="280.20" y="293.10" font-size="6.8" textLength="16.60" lengthAdjust="spacingAndGlyphs">CD41<tspan dy="-2.4" font-size="4.2">−</tspan></text>
<text x="280.20" y="301.93" font-size="7.3" textLength="16.80" lengthAdjust="spacingAndGlyphs">51.1%</text>
<text transform="translate(262.71,241.15) rotate(-90)" x="0" y="0" font-size="6.7" text-anchor="middle" textLength="15.30" lengthAdjust="spacingAndGlyphs">CD41</text>
<text transform="translate(259.76,230.95) rotate(-90)" x="0" y="0" font-size="4.6" text-anchor="middle" textLength="2.90" lengthAdjust="spacingAndGlyphs">+</text>
<text transform="translate(270.54,240.25) rotate(-90)" x="0" y="0" font-size="6.5" text-anchor="middle" textLength="16.70" lengthAdjust="spacingAndGlyphs">24.2%</text>
<text transform="translate(316.01,241.15) rotate(-90)" x="0" y="0" font-size="6.7" text-anchor="middle" textLength="15.30" lengthAdjust="spacingAndGlyphs">CD41</text>
<text transform="translate(313.06,230.95) rotate(-90)" x="0" y="0" font-size="4.6" text-anchor="middle" textLength="2.90" lengthAdjust="spacingAndGlyphs">+</text>
<text transform="translate(323.74,240.25) rotate(-90)" x="0" y="0" font-size="6.5" text-anchor="middle" textLength="16.70" lengthAdjust="spacingAndGlyphs">18.9%</text>
<text transform="translate(262.71,296.35) rotate(-90)" x="0" y="0" font-size="6.7" text-anchor="middle" textLength="15.30" lengthAdjust="spacingAndGlyphs">CD41</text>
<text transform="translate(259.76,286.15) rotate(-90)" x="0" y="0" font-size="4.6" text-anchor="middle" textLength="2.90" lengthAdjust="spacingAndGlyphs">+</text>
<text transform="translate(270.54,295.45) rotate(-90)" x="0" y="0" font-size="6.5" text-anchor="middle" textLength="16.70" lengthAdjust="spacingAndGlyphs">69.5%</text>
<text transform="translate(316.91,296.35) rotate(-90)" x="0" y="0" font-size="6.7" text-anchor="middle" textLength="15.30" lengthAdjust="spacingAndGlyphs">CD41</text>
<text transform="translate(313.96,286.15) rotate(-90)" x="0" y="0" font-size="4.6" text-anchor="middle" textLength="2.90" lengthAdjust="spacingAndGlyphs">+</text>
<text transform="translate(324.64,295.45) rotate(-90)" x="0" y="0" font-size="6.5" text-anchor="middle" textLength="16.70" lengthAdjust="spacingAndGlyphs">48.9%</text>
<text x="219.60" y="210.32" font-size="5.9" text-anchor="end">10<tspan dy="-2.6" font-size="4.6">5</tspan></text>
<text x="219.60" y="221.92" font-size="5.9" text-anchor="end">10<tspan dy="-2.6" font-size="4.6">4</tspan></text>
<text x="219.60" y="236.72" font-size="5.9" text-anchor="end">10<tspan dy="-2.6" font-size="4.6">3</tspan></text>
<text x="219.60" y="243.72" font-size="5.9" text-anchor="end">0</text>
<text x="219.60" y="253.52" font-size="5.9" text-anchor="end">10<tspan dy="-2.6" font-size="4.6">−3</tspan></text>
<text x="219.60" y="263.32" font-size="5.9" text-anchor="end">10<tspan dy="-2.6" font-size="4.6">5</tspan></text>
<text x="219.60" y="275.52" font-size="5.9" text-anchor="end">10<tspan dy="-2.6" font-size="4.6">4</tspan></text>
<text x="219.60" y="289.32" font-size="5.9" text-anchor="end">10<tspan dy="-2.6" font-size="4.6">3</tspan></text>
<text x="219.60" y="297.42" font-size="5.9" text-anchor="end">0</text>
<text x="219.60" y="307.12" font-size="5.9" text-anchor="end">10<tspan dy="-2.6" font-size="4.6">−3</tspan></text>
<text x="222.80" y="314.42" font-size="5.9" text-anchor="middle">10<tspan dy="-2.6" font-size="4.6">−3</tspan></text>
<text x="232.20" y="314.42" font-size="5.9" text-anchor="middle">0</text>
<text x="240.30" y="314.42" font-size="5.9" text-anchor="middle">10<tspan dy="-2.6" font-size="4.6">3</tspan></text>
<text x="253.80" y="314.42" font-size="5.9" text-anchor="middle">10<tspan dy="-2.6" font-size="4.6">4</tspan></text>
<text x="265.00" y="314.42" font-size="5.9" text-anchor="middle">10<tspan dy="-2.6" font-size="4.6">5</tspan></text>
<text x="277.60" y="314.42" font-size="5.9" text-anchor="middle">10<tspan dy="-2.6" font-size="4.6">−3</tspan></text>
<text x="285.80" y="314.42" font-size="5.9" text-anchor="middle">0</text>
<text x="294.40" y="314.42" font-size="5.9" text-anchor="middle">10<tspan dy="-2.6" font-size="4.6">3</tspan></text>
<text x="309.10" y="314.42" font-size="5.9" text-anchor="middle">10<tspan dy="-2.6" font-size="4.6">4</tspan></text>
<text x="321.20" y="314.42" font-size="5.9" text-anchor="middle">10<tspan dy="-2.6" font-size="4.6">5</tspan></text>
<line x1="201.60" y1="289.00" x2="201.60" y2="207.70" stroke="#111" stroke-width="0.9"/>
<path d="M199.50,208.50 L201.60,204.40 L203.70,208.50Z" fill="#111"/>
<text transform="translate(203.62,302.80) rotate(-90)" x="0" y="0" font-size="7.0" text-anchor="middle" textLength="19.00" lengthAdjust="spacingAndGlyphs">CD150</text>
<text x="208.00" y="322.52" font-size="7.0" textLength="15.50" lengthAdjust="spacingAndGlyphs">CD41</text>
<line x1="225.80" y1="320.60" x2="322.60" y2="320.60" stroke="#111" stroke-width="0.9"/>
<path d="M321.80,318.50 L325.90,320.60 L321.80,322.70Z" fill="#111"/>
<text transform="translate(329.08,227.60) rotate(90)" x="0" y="0" font-size="7.0" text-anchor="middle" textLength="18.20" lengthAdjust="spacingAndGlyphs">Young</text>
<text transform="translate(330.48,281.15) rotate(90)" x="0" y="0" font-size="7.0" text-anchor="middle" textLength="10.30" lengthAdjust="spacingAndGlyphs">Old</text>
<text x="347.00" y="187.20" font-size="11.2" font-weight="bold" fill="#000" style="stroke:#000">F</text>
<text transform="translate(355.28,247.35) rotate(-90)" x="0" y="0" font-size="6.6" text-anchor="middle" textLength="114.70" lengthAdjust="spacingAndGlyphs">Number of CD41<tspan dy="-2.4" font-size="4.5">+</tspan><tspan dy="2.4"> HSC (per 10</tspan><tspan dy="-2.4" font-size="4.5">6</tspan><tspan dy="2.4"> BM cells)</tspan></text>
<line x1="378.80" y1="185.70" x2="378.80" y2="245.30" stroke="#111" stroke-width="1.0"/>
<line x1="375.80" y1="186.80" x2="378.80" y2="186.80" stroke="#111" stroke-width="1.0"/>
<text x="373.70" y="189.25" font-size="7.0" text-anchor="end" textLength="13.60" lengthAdjust="spacingAndGlyphs">1500</text>
<line x1="375.80" y1="206.30" x2="378.80" y2="206.30" stroke="#111" stroke-width="1.0"/>
<text x="373.70" y="208.75" font-size="7.0" text-anchor="end" textLength="13.60" lengthAdjust="spacingAndGlyphs">1000</text>
<line x1="375.80" y1="225.80" x2="378.80" y2="225.80" stroke="#111" stroke-width="1.0"/>
<text x="373.70" y="228.25" font-size="7.0" text-anchor="end" textLength="10.20" lengthAdjust="spacingAndGlyphs">500</text>
<line x1="375.80" y1="245.30" x2="378.80" y2="245.30" stroke="#111" stroke-width="1.0"/>
<text x="373.70" y="247.75" font-size="7.0" text-anchor="end" textLength="3.40" lengthAdjust="spacingAndGlyphs">0</text>
<line x1="378.80" y1="245.30" x2="496.90" y2="245.30" stroke="#111" stroke-width="1.0"/>
<line x1="392.60" y1="245.30" x2="392.60" y2="247.80" stroke="#111" stroke-width="0.9"/>
<line x1="415.40" y1="245.30" x2="415.40" y2="247.80" stroke="#111" stroke-width="0.9"/>
<line x1="438.70" y1="245.30" x2="438.70" y2="247.80" stroke="#111" stroke-width="0.9"/>
<line x1="461.30" y1="245.30" x2="461.30" y2="247.80" stroke="#111" stroke-width="0.9"/>
<line x1="484.40" y1="245.30" x2="484.40" y2="247.80" stroke="#111" stroke-width="0.9"/>
<text x="433.80" y="195.68" font-size="6.9" textLength="27.00" lengthAdjust="spacingAndGlyphs"><tspan font-style="italic">p</tspan>&lt;0.0001</text>
<rect x="500.80" y="196.90" width="10.50" height="37.90" fill="#dddddf"/>
<text transform="translate(503.53,215.85) rotate(90)" font-size="7.0" text-anchor="middle" textLength="14.6" lengthAdjust="spacingAndGlyphs">Male</text>
<line x1="392.00" y1="245.00" x2="496.00" y2="206.00" stroke="#16518b" stroke-width="1.1"/>
<line x1="392.00" y1="246.20" x2="490.80" y2="224.60" stroke="#c41230" stroke-width="1.1"/>
<circle cx="436.30" cy="211.30" r="1.60" fill="#16518b"/>
<circle cx="433.00" cy="235.20" r="1.60" fill="#16518b"/>
<circle cx="455.60" cy="229.60" r="1.60" fill="#16518b"/>
<circle cx="471.50" cy="206.30" r="1.60" fill="#16518b"/>
<circle cx="474.80" cy="212.70" r="1.60" fill="#16518b"/>
<circle cx="474.80" cy="222.30" r="1.60" fill="#16518b"/>
<circle cx="491.50" cy="218.00" r="1.60" fill="#16518b"/>
<circle cx="491.50" cy="220.40" r="1.60" fill="#16518b"/>
<circle cx="496.30" cy="195.40" r="1.60" fill="#16518b"/>
<circle cx="496.30" cy="197.70" r="1.60" fill="#16518b"/>
<circle cx="391.50" cy="244.50" r="1.60" fill="#16518b"/>
<circle cx="394.00" cy="244.00" r="1.60" fill="#16518b"/>
<circle cx="396.50" cy="244.20" r="1.60" fill="#16518b"/>
<circle cx="399.00" cy="244.50" r="1.60" fill="#16518b"/>
<circle cx="401.50" cy="243.60" r="1.60" fill="#16518b"/>
<circle cx="405.00" cy="243.50" r="1.60" fill="#16518b"/>
<circle cx="439.20" cy="237.10" r="1.60" fill="#c41230"/>
<circle cx="455.60" cy="233.50" r="1.60" fill="#c41230"/>
<circle cx="465.80" cy="236.70" r="1.60" fill="#c41230"/>
<circle cx="471.90" cy="215.60" r="1.60" fill="#c41230"/>
<circle cx="471.50" cy="229.00" r="1.60" fill="#c41230"/>
<circle cx="472.90" cy="228.00" r="1.60" fill="#c41230"/>
<circle cx="491.50" cy="227.10" r="1.60" fill="#c41230"/>
<circle cx="491.50" cy="228.50" r="1.60" fill="#c41230"/>
<circle cx="396.00" cy="245.20" r="1.60" fill="#c41230"/>
<circle cx="398.00" cy="245.20" r="1.60" fill="#c41230"/>
<circle cx="409.50" cy="244.80" r="1.60" fill="#c41230"/>
<line x1="377.80" y1="253.30" x2="377.80" y2="312.80" stroke="#111" stroke-width="1.0"/>
<line x1="374.80" y1="254.50" x2="377.80" y2="254.50" stroke="#111" stroke-width="1.0"/>
<text x="373.70" y="256.95" font-size="7.0" text-anchor="end" textLength="10.20" lengthAdjust="spacingAndGlyphs">800</text>
<line x1="374.80" y1="269.20" x2="377.80" y2="269.20" stroke="#111" stroke-width="1.0"/>
<text x="373.70" y="271.65" font-size="7.0" text-anchor="end" textLength="10.20" lengthAdjust="spacingAndGlyphs">600</text>
<line x1="374.80" y1="283.40" x2="377.80" y2="283.40" stroke="#111" stroke-width="1.0"/>
<text x="373.70" y="285.85" font-size="7.0" text-anchor="end" textLength="10.20" lengthAdjust="spacingAndGlyphs">400</text>
<line x1="374.80" y1="298.30" x2="377.80" y2="298.30" stroke="#111" stroke-width="1.0"/>
<text x="373.70" y="300.75" font-size="7.0" text-anchor="end" textLength="10.20" lengthAdjust="spacingAndGlyphs">200</text>
<line x1="374.80" y1="312.80" x2="377.80" y2="312.80" stroke="#111" stroke-width="1.0"/>
<text x="373.70" y="315.25" font-size="7.0" text-anchor="end" textLength="3.40" lengthAdjust="spacingAndGlyphs">0</text>
<line x1="377.80" y1="312.80" x2="496.90" y2="312.80" stroke="#111" stroke-width="1.0"/>
<line x1="392.60" y1="312.80" x2="392.60" y2="315.30" stroke="#111" stroke-width="0.9"/>
<text x="392.60" y="323.70" font-size="6.9" text-anchor="middle">5</text>
<line x1="415.40" y1="312.80" x2="415.40" y2="315.30" stroke="#111" stroke-width="0.9"/>
<text x="415.40" y="323.70" font-size="6.9" text-anchor="middle">10</text>
<line x1="438.70" y1="312.80" x2="438.70" y2="315.30" stroke="#111" stroke-width="0.9"/>
<text x="438.70" y="323.70" font-size="6.9" text-anchor="middle">15</text>
<line x1="461.30" y1="312.80" x2="461.30" y2="315.30" stroke="#111" stroke-width="0.9"/>
<text x="461.30" y="323.70" font-size="6.9" text-anchor="middle">20</text>
<line x1="484.40" y1="312.80" x2="484.40" y2="315.30" stroke="#111" stroke-width="0.9"/>
<text x="484.40" y="323.70" font-size="6.9" text-anchor="middle">25</text>
<text x="421.90" y="332.52" font-size="7.0" textLength="31.10" lengthAdjust="spacingAndGlyphs">Age/Months</text>
<text x="434.40" y="261.28" font-size="6.9" textLength="26.90" lengthAdjust="spacingAndGlyphs"><tspan font-style="italic">p</tspan>=0.0355</text>
<rect x="500.80" y="265.20" width="10.50" height="37.50" fill="#dddddf"/>
<text transform="translate(503.53,283.95) rotate(90)" font-size="7.0" text-anchor="middle" textLength="20.6" lengthAdjust="spacingAndGlyphs">Female</text>
<line x1="382.40" y1="308.70" x2="481.50" y2="265.20" stroke="#16518b" stroke-width="1.1"/>
<line x1="382.40" y1="311.60" x2="488.80" y2="285.80" stroke="#c41230" stroke-width="1.1"/>
<rect x="427.40" y="256.70" width="3.60" height="3.60" fill="#16518b"/>
<rect x="427.40" y="259.70" width="3.60" height="3.60" fill="#16518b"/>
<rect x="427.40" y="262.70" width="3.60" height="3.60" fill="#16518b"/>
<rect x="426.90" y="264.70" width="3.60" height="3.60" fill="#16518b"/>
<rect x="426.20" y="269.20" width="3.60" height="3.60" fill="#16518b"/>
<rect x="436.50" y="273.60" width="3.60" height="3.60" fill="#16518b"/>
<rect x="440.30" y="274.40" width="3.60" height="3.60" fill="#16518b"/>
<rect x="436.50" y="285.50" width="3.60" height="3.60" fill="#16518b"/>
<rect x="471.10" y="273.00" width="3.60" height="3.60" fill="#16518b"/>
<rect x="480.10" y="277.40" width="3.60" height="3.60" fill="#16518b"/>
<rect x="470.10" y="285.10" width="3.60" height="3.60" fill="#16518b"/>
<rect x="438.00" y="273.80" width="3.60" height="3.60" fill="#16518b"/>
<rect x="381.20" y="309.20" width="3.60" height="3.60" fill="#16518b"/>
<rect x="383.70" y="308.70" width="3.60" height="3.60" fill="#16518b"/>
<rect x="386.20" y="309.20" width="3.60" height="3.60" fill="#16518b"/>
<rect x="388.70" y="309.20" width="3.60" height="3.60" fill="#16518b"/>
<rect x="382.20" y="310.70" width="3.60" height="3.60" fill="#16518b"/>
<rect x="437.40" y="277.40" width="3.60" height="3.60" fill="#c41230"/>
<rect x="430.70" y="284.50" width="3.60" height="3.60" fill="#c41230"/>
<rect x="430.70" y="292.80" width="3.60" height="3.60" fill="#c41230"/>
<rect x="434.50" y="291.30" width="3.60" height="3.60" fill="#c41230"/>
<rect x="438.00" y="290.30" width="3.60" height="3.60" fill="#c41230"/>
<rect x="426.20" y="297.40" width="3.60" height="3.60" fill="#c41230"/>
<rect x="440.30" y="299.00" width="3.60" height="3.60" fill="#c41230"/>
<rect x="471.10" y="292.20" width="3.60" height="3.60" fill="#c41230"/>
<rect x="478.20" y="289.70" width="3.60" height="3.60" fill="#c41230"/>
<rect x="487.00" y="296.10" width="3.60" height="3.60" fill="#c41230"/>
<rect x="380.70" y="311.20" width="3.60" height="3.60" fill="#c41230"/>
<rect x="384.20" y="311.20" width="3.60" height="3.60" fill="#c41230"/>
<rect x="387.20" y="311.50" width="3.60" height="3.60" fill="#c41230"/>
<text x="8.00" y="354.60" font-size="11.2" font-weight="bold" fill="#000" style="stroke:#000">G</text>
<text transform="translate(14.38,428.90) rotate(-90)" x="0" y="0" font-size="6.6" text-anchor="middle" textLength="81.40" lengthAdjust="spacingAndGlyphs">Number of myeloid-biased HSC</text>
<text transform="translate(22.58,429.55) rotate(-90)" x="0" y="0" font-size="6.6" text-anchor="middle" textLength="48.10" lengthAdjust="spacingAndGlyphs">(per 10<tspan dy="-2.4" font-size="4.5">6</tspan><tspan dy="2.4"> BM cells)</tspan></text>
<line x1="39.70" y1="382.50" x2="39.70" y2="475.30" stroke="#111" stroke-width="1.15"/>
<line x1="36.70" y1="386.60" x2="39.70" y2="386.60" stroke="#111" stroke-width="1.15"/>
<text x="26.20" y="389.35" font-size="7.0" textLength="6.3" lengthAdjust="spacingAndGlyphs">10</text>
<text x="32.65" y="386.45" font-size="4.9" textLength="2.5" lengthAdjust="spacingAndGlyphs">4</text>
<line x1="36.70" y1="409.00" x2="39.70" y2="409.00" stroke="#111" stroke-width="1.15"/>
<text x="26.20" y="411.75" font-size="7.0" textLength="6.3" lengthAdjust="spacingAndGlyphs">10</text>
<text x="32.65" y="408.85" font-size="4.9" textLength="2.5" lengthAdjust="spacingAndGlyphs">3</text>
<line x1="36.70" y1="431.30" x2="39.70" y2="431.30" stroke="#111" stroke-width="1.15"/>
<text x="26.20" y="434.05" font-size="7.0" textLength="6.3" lengthAdjust="spacingAndGlyphs">10</text>
<text x="32.65" y="431.15" font-size="4.9" textLength="2.5" lengthAdjust="spacingAndGlyphs">2</text>
<line x1="36.70" y1="453.30" x2="39.70" y2="453.30" stroke="#111" stroke-width="1.15"/>
<text x="26.20" y="456.05" font-size="7.0" textLength="6.3" lengthAdjust="spacingAndGlyphs">10</text>
<line x1="36.70" y1="475.30" x2="39.70" y2="475.30" stroke="#111" stroke-width="1.15"/>
<text x="31.80" y="477.75" font-size="7.0" text-anchor="end" textLength="3.30" lengthAdjust="spacingAndGlyphs">1</text>
<line x1="38.10" y1="402.26" x2="39.70" y2="402.26" stroke="#111" stroke-width="0.7"/>
<line x1="38.10" y1="398.31" x2="39.70" y2="398.31" stroke="#111" stroke-width="0.7"/>
<line x1="38.10" y1="395.51" x2="39.70" y2="395.51" stroke="#111" stroke-width="0.7"/>
<line x1="38.10" y1="393.34" x2="39.70" y2="393.34" stroke="#111" stroke-width="0.7"/>
<line x1="38.10" y1="391.57" x2="39.70" y2="391.57" stroke="#111" stroke-width="0.7"/>
<line x1="38.10" y1="390.07" x2="39.70" y2="390.07" stroke="#111" stroke-width="0.7"/>
<line x1="38.10" y1="388.77" x2="39.70" y2="388.77" stroke="#111" stroke-width="0.7"/>
<line x1="38.10" y1="387.62" x2="39.70" y2="387.62" stroke="#111" stroke-width="0.7"/>
<line x1="38.10" y1="424.59" x2="39.70" y2="424.59" stroke="#111" stroke-width="0.7"/>
<line x1="38.10" y1="420.66" x2="39.70" y2="420.66" stroke="#111" stroke-width="0.7"/>
<line x1="38.10" y1="417.87" x2="39.70" y2="417.87" stroke="#111" stroke-width="0.7"/>
<line x1="38.10" y1="415.71" x2="39.70" y2="415.71" stroke="#111" stroke-width="0.7"/>
<line x1="38.10" y1="413.95" x2="39.70" y2="413.95" stroke="#111" stroke-width="0.7"/>
<line x1="38.10" y1="412.45" x2="39.70" y2="412.45" stroke="#111" stroke-width="0.7"/>
<line x1="38.10" y1="411.16" x2="39.70" y2="411.16" stroke="#111" stroke-width="0.7"/>
<line x1="38.10" y1="410.02" x2="39.70" y2="410.02" stroke="#111" stroke-width="0.7"/>
<line x1="38.10" y1="446.68" x2="39.70" y2="446.68" stroke="#111" stroke-width="0.7"/>
<line x1="38.10" y1="442.80" x2="39.70" y2="442.80" stroke="#111" stroke-width="0.7"/>
<line x1="38.10" y1="440.05" x2="39.70" y2="440.05" stroke="#111" stroke-width="0.7"/>
<line x1="38.10" y1="437.92" x2="39.70" y2="437.92" stroke="#111" stroke-width="0.7"/>
<line x1="38.10" y1="436.18" x2="39.70" y2="436.18" stroke="#111" stroke-width="0.7"/>
<line x1="38.10" y1="434.71" x2="39.70" y2="434.71" stroke="#111" stroke-width="0.7"/>
<line x1="38.10" y1="433.43" x2="39.70" y2="433.43" stroke="#111" stroke-width="0.7"/>
<line x1="38.10" y1="432.31" x2="39.70" y2="432.31" stroke="#111" stroke-width="0.7"/>
<line x1="38.10" y1="468.68" x2="39.70" y2="468.68" stroke="#111" stroke-width="0.7"/>
<line x1="38.10" y1="464.80" x2="39.70" y2="464.80" stroke="#111" stroke-width="0.7"/>
<line x1="38.10" y1="462.05" x2="39.70" y2="462.05" stroke="#111" stroke-width="0.7"/>
<line x1="38.10" y1="459.92" x2="39.70" y2="459.92" stroke="#111" stroke-width="0.7"/>
<line x1="38.10" y1="458.18" x2="39.70" y2="458.18" stroke="#111" stroke-width="0.7"/>
<line x1="38.10" y1="456.71" x2="39.70" y2="456.71" stroke="#111" stroke-width="0.7"/>
<line x1="38.10" y1="455.43" x2="39.70" y2="455.43" stroke="#111" stroke-width="0.7"/>
<line x1="38.10" y1="454.31" x2="39.70" y2="454.31" stroke="#111" stroke-width="0.7"/>
<line x1="39.70" y1="475.30" x2="107.50" y2="475.30" stroke="#111" stroke-width="1.15"/>
<line x1="51.25" y1="475.30" x2="51.25" y2="478.30" stroke="#111" stroke-width="1.15"/>
<line x1="74.50" y1="475.30" x2="74.50" y2="478.30" stroke="#111" stroke-width="1.15"/>
<line x1="97.00" y1="475.30" x2="97.00" y2="478.30" stroke="#111" stroke-width="1.15"/>
<text x="43.75" y="387.20" font-size="7.0" textLength="13.80" lengthAdjust="spacingAndGlyphs">Male</text>
<text x="51.25" y="486.70" font-size="6.4" text-anchor="middle">Young</text>
<text x="74.50" y="486.70" font-size="6.4" text-anchor="middle">Middle</text>
<text x="97.00" y="486.70" font-size="6.4" text-anchor="middle">Old</text>
<line x1="113.80" y1="381.90" x2="113.80" y2="475.30" stroke="#111" stroke-width="1.15"/>
<line x1="110.80" y1="386.60" x2="113.80" y2="386.60" stroke="#111" stroke-width="1.15"/>
<line x1="110.80" y1="409.00" x2="113.80" y2="409.00" stroke="#111" stroke-width="1.15"/>
<line x1="110.80" y1="431.30" x2="113.80" y2="431.30" stroke="#111" stroke-width="1.15"/>
<line x1="110.80" y1="453.30" x2="113.80" y2="453.30" stroke="#111" stroke-width="1.15"/>
<line x1="110.80" y1="475.30" x2="113.80" y2="475.30" stroke="#111" stroke-width="1.15"/>
<line x1="112.20" y1="402.26" x2="113.80" y2="402.26" stroke="#111" stroke-width="0.7"/>
<line x1="112.20" y1="398.31" x2="113.80" y2="398.31" stroke="#111" stroke-width="0.7"/>
<line x1="112.20" y1="395.51" x2="113.80" y2="395.51" stroke="#111" stroke-width="0.7"/>
<line x1="112.20" y1="393.34" x2="113.80" y2="393.34" stroke="#111" stroke-width="0.7"/>
<line x1="112.20" y1="391.57" x2="113.80" y2="391.57" stroke="#111" stroke-width="0.7"/>
<line x1="112.20" y1="390.07" x2="113.80" y2="390.07" stroke="#111" stroke-width="0.7"/>
<line x1="112.20" y1="388.77" x2="113.80" y2="388.77" stroke="#111" stroke-width="0.7"/>
<line x1="112.20" y1="387.62" x2="113.80" y2="387.62" stroke="#111" stroke-width="0.7"/>
<line x1="112.20" y1="424.59" x2="113.80" y2="424.59" stroke="#111" stroke-width="0.7"/>
<line x1="112.20" y1="420.66" x2="113.80" y2="420.66" stroke="#111" stroke-width="0.7"/>
<line x1="112.20" y1="417.87" x2="113.80" y2="417.87" stroke="#111" stroke-width="0.7"/>
<line x1="112.20" y1="415.71" x2="113.80" y2="415.71" stroke="#111" stroke-width="0.7"/>
<line x1="112.20" y1="413.95" x2="113.80" y2="413.95" stroke="#111" stroke-width="0.7"/>
<line x1="112.20" y1="412.45" x2="113.80" y2="412.45" stroke="#111" stroke-width="0.7"/>
<line x1="112.20" y1="411.16" x2="113.80" y2="411.16" stroke="#111" stroke-width="0.7"/>
<line x1="112.20" y1="410.02" x2="113.80" y2="410.02" stroke="#111" stroke-width="0.7"/>
<line x1="112.20" y1="446.68" x2="113.80" y2="446.68" stroke="#111" stroke-width="0.7"/>
<line x1="112.20" y1="442.80" x2="113.80" y2="442.80" stroke="#111" stroke-width="0.7"/>
<line x1="112.20" y1="440.05" x2="113.80" y2="440.05" stroke="#111" stroke-width="0.7"/>
<line x1="112.20" y1="437.92" x2="113.80" y2="437.92" stroke="#111" stroke-width="0.7"/>
<line x1="112.20" y1="436.18" x2="113.80" y2="436.18" stroke="#111" stroke-width="0.7"/>
<line x1="112.20" y1="434.71" x2="113.80" y2="434.71" stroke="#111" stroke-width="0.7"/>
<line x1="112.20" y1="433.43" x2="113.80" y2="433.43" stroke="#111" stroke-width="0.7"/>
<line x1="112.20" y1="432.31" x2="113.80" y2="432.31" stroke="#111" stroke-width="0.7"/>
<line x1="112.20" y1="468.68" x2="113.80" y2="468.68" stroke="#111" stroke-width="0.7"/>
<line x1="112.20" y1="464.80" x2="113.80" y2="464.80" stroke="#111" stroke-width="0.7"/>
<line x1="112.20" y1="462.05" x2="113.80" y2="462.05" stroke="#111" stroke-width="0.7"/>
<line x1="112.20" y1="459.92" x2="113.80" y2="459.92" stroke="#111" stroke-width="0.7"/>
<line x1="112.20" y1="458.18" x2="113.80" y2="458.18" stroke="#111" stroke-width="0.7"/>
<line x1="112.20" y1="456.71" x2="113.80" y2="456.71" stroke="#111" stroke-width="0.7"/>
<line x1="112.20" y1="455.43" x2="113.80" y2="455.43" stroke="#111" stroke-width="0.7"/>
<line x1="112.20" y1="454.31" x2="113.80" y2="454.31" stroke="#111" stroke-width="0.7"/>
<line x1="113.80" y1="475.30" x2="182.70" y2="475.30" stroke="#111" stroke-width="1.15"/>
<line x1="125.00" y1="475.30" x2="125.00" y2="478.30" stroke="#111" stroke-width="1.15"/>
<line x1="148.10" y1="475.30" x2="148.10" y2="478.30" stroke="#111" stroke-width="1.15"/>
<line x1="171.20" y1="475.30" x2="171.20" y2="478.30" stroke="#111" stroke-width="1.15"/>
<text x="117.30" y="386.60" font-size="7.0" textLength="20.70" lengthAdjust="spacingAndGlyphs">Female</text>
<text x="125.00" y="487.20" font-size="6.4" text-anchor="middle">Young</text>
<text x="148.10" y="487.20" font-size="6.4" text-anchor="middle">Middle</text>
<text x="171.20" y="487.20" font-size="6.4" text-anchor="middle">Old</text>
<line x1="46.25" y1="432.88" x2="46.25" y2="441.38" stroke="#111" stroke-width="1.0"/>
<line x1="44.25" y1="432.88" x2="48.25" y2="432.88" stroke="#111" stroke-width="1.0"/>
<line x1="44.25" y1="441.38" x2="48.25" y2="441.38" stroke="#111" stroke-width="1.0"/>
<line x1="41.65" y1="435.75" x2="50.85" y2="435.75" stroke="#111" stroke-width="1.3"/>
<circle cx="46.25" cy="434.03" r="1.55" fill="#16518b"/>
<circle cx="49.04" cy="434.75" r="1.55" fill="#16518b"/>
<circle cx="46.25" cy="442.94" r="1.55" fill="#16518b"/>
<circle cx="49.04" cy="441.46" r="1.55" fill="#16518b"/>
<circle cx="46.25" cy="439.84" r="1.55" fill="#16518b"/>
<circle cx="43.46" cy="433.89" r="1.55" fill="#16518b"/>
<circle cx="46.25" cy="436.65" r="1.55" fill="#16518b"/>
<circle cx="43.46" cy="436.14" r="1.55" fill="#16518b"/>
<circle cx="43.46" cy="440.53" r="1.55" fill="#16518b"/>
<circle cx="43.36" cy="433.83" r="1.55" fill="#16518b"/>
<circle cx="46.25" cy="430.00" r="1.55" fill="#16518b"/>
<circle cx="49.04" cy="439.30" r="1.55" fill="#16518b"/>
<circle cx="49.43" cy="438.00" r="1.55" fill="#16518b"/>
<circle cx="44.15" cy="438.95" r="1.55" fill="#16518b"/>
<circle cx="46.25" cy="447.00" r="1.55" fill="#16518b"/>
<circle cx="48.83" cy="437.75" r="1.55" fill="#16518b"/>
<circle cx="45.07" cy="436.12" r="1.55" fill="#16518b"/>
<circle cx="48.63" cy="438.02" r="1.55" fill="#16518b"/>
<line x1="57.00" y1="436.12" x2="57.00" y2="448.12" stroke="#111" stroke-width="1.0"/>
<line x1="55.00" y1="436.12" x2="59.00" y2="436.12" stroke="#111" stroke-width="1.0"/>
<line x1="55.00" y1="448.12" x2="59.00" y2="448.12" stroke="#111" stroke-width="1.0"/>
<line x1="52.40" y1="441.25" x2="61.60" y2="441.25" stroke="#111" stroke-width="1.3"/>
<circle cx="57.00" cy="445.67" r="1.55" fill="#c41230"/>
<circle cx="57.00" cy="438.36" r="1.55" fill="#c41230"/>
<circle cx="57.00" cy="455.00" r="1.55" fill="#c41230"/>
<circle cx="57.00" cy="442.22" r="1.55" fill="#c41230"/>
<circle cx="57.00" cy="435.62" r="1.55" fill="#c41230"/>
<circle cx="54.21" cy="444.25" r="1.55" fill="#c41230"/>
<circle cx="59.79" cy="444.09" r="1.55" fill="#c41230"/>
<circle cx="59.79" cy="439.23" r="1.55" fill="#c41230"/>
<circle cx="54.21" cy="438.33" r="1.55" fill="#c41230"/>
<circle cx="58.12" cy="444.67" r="1.55" fill="#c41230"/>
<circle cx="55.60" cy="433.48" r="1.55" fill="#c41230"/>
<circle cx="57.00" cy="449.04" r="1.55" fill="#c41230"/>
<circle cx="56.67" cy="442.75" r="1.55" fill="#c41230"/>
<circle cx="58.40" cy="433.71" r="1.55" fill="#c41230"/>
<circle cx="59.34" cy="433.55" r="1.55" fill="#c41230"/>
<circle cx="58.13" cy="438.41" r="1.55" fill="#c41230"/>
<circle cx="54.21" cy="441.19" r="1.55" fill="#c41230"/>
<circle cx="57.32" cy="443.36" r="1.55" fill="#c41230"/>
<circle cx="53.69" cy="437.99" r="1.55" fill="#c41230"/>
<circle cx="57.00" cy="431.00" r="1.55" fill="#c41230"/>
<line x1="68.75" y1="417.50" x2="68.75" y2="425.00" stroke="#111" stroke-width="1.0"/>
<line x1="66.75" y1="417.50" x2="70.75" y2="417.50" stroke="#111" stroke-width="1.0"/>
<line x1="66.75" y1="425.00" x2="70.75" y2="425.00" stroke="#111" stroke-width="1.0"/>
<line x1="64.15" y1="421.25" x2="73.35" y2="421.25" stroke="#111" stroke-width="1.3"/>
<circle cx="68.75" cy="415.83" r="1.55" fill="#16518b"/>
<circle cx="70.14" cy="413.75" r="1.55" fill="#16518b"/>
<circle cx="68.75" cy="428.75" r="1.55" fill="#16518b"/>
<circle cx="67.36" cy="417.77" r="1.55" fill="#16518b"/>
<circle cx="68.75" cy="422.90" r="1.55" fill="#16518b"/>
<line x1="79.50" y1="426.25" x2="79.50" y2="427.75" stroke="#111" stroke-width="1.0"/>
<line x1="77.50" y1="426.25" x2="81.50" y2="426.25" stroke="#111" stroke-width="1.0"/>
<line x1="77.50" y1="427.75" x2="81.50" y2="427.75" stroke="#111" stroke-width="1.0"/>
<line x1="74.90" y1="427.00" x2="84.10" y2="427.00" stroke="#111" stroke-width="1.3"/>
<circle cx="79.50" cy="427.06" r="1.55" fill="#c41230"/>
<circle cx="80.09" cy="428.50" r="1.55" fill="#c41230"/>
<circle cx="78.29" cy="425.50" r="1.55" fill="#c41230"/>
<circle cx="79.95" cy="427.71" r="1.55" fill="#c41230"/>
<circle cx="80.77" cy="426.86" r="1.55" fill="#c41230"/>
<line x1="91.25" y1="402.50" x2="91.25" y2="412.50" stroke="#111" stroke-width="1.0"/>
<line x1="89.25" y1="402.50" x2="93.25" y2="402.50" stroke="#111" stroke-width="1.0"/>
<line x1="89.25" y1="412.50" x2="93.25" y2="412.50" stroke="#111" stroke-width="1.0"/>
<line x1="86.65" y1="407.00" x2="95.85" y2="407.00" stroke="#111" stroke-width="1.3"/>
<circle cx="91.25" cy="418.00" r="1.55" fill="#16518b"/>
<circle cx="91.25" cy="405.00" r="1.55" fill="#16518b"/>
<circle cx="91.25" cy="411.29" r="1.55" fill="#16518b"/>
<circle cx="94.04" cy="405.48" r="1.55" fill="#16518b"/>
<circle cx="88.46" cy="405.15" r="1.55" fill="#16518b"/>
<circle cx="91.25" cy="398.00" r="1.55" fill="#16518b"/>
<circle cx="91.25" cy="402.60" r="1.55" fill="#16518b"/>
<circle cx="89.86" cy="400.54" r="1.55" fill="#16518b"/>
<circle cx="90.33" cy="405.81" r="1.55" fill="#16518b"/>
<circle cx="94.04" cy="399.41" r="1.55" fill="#16518b"/>
<circle cx="94.04" cy="402.93" r="1.55" fill="#16518b"/>
<circle cx="92.64" cy="407.39" r="1.55" fill="#16518b"/>
<circle cx="89.86" cy="408.92" r="1.55" fill="#16518b"/>
<circle cx="94.04" cy="410.49" r="1.55" fill="#16518b"/>
<circle cx="92.27" cy="401.61" r="1.55" fill="#16518b"/>
<circle cx="95.07" cy="401.84" r="1.55" fill="#16518b"/>
<line x1="101.25" y1="408.50" x2="101.25" y2="416.88" stroke="#111" stroke-width="1.0"/>
<line x1="99.25" y1="408.50" x2="103.25" y2="408.50" stroke="#111" stroke-width="1.0"/>
<line x1="99.25" y1="416.88" x2="103.25" y2="416.88" stroke="#111" stroke-width="1.0"/>
<line x1="96.65" y1="412.50" x2="105.85" y2="412.50" stroke="#111" stroke-width="1.3"/>
<circle cx="101.25" cy="417.20" r="1.55" fill="#c41230"/>
<circle cx="101.25" cy="412.83" r="1.55" fill="#c41230"/>
<circle cx="101.25" cy="406.58" r="1.55" fill="#c41230"/>
<circle cx="104.04" cy="416.19" r="1.55" fill="#c41230"/>
<circle cx="101.25" cy="410.03" r="1.55" fill="#c41230"/>
<circle cx="104.04" cy="418.47" r="1.55" fill="#c41230"/>
<circle cx="98.46" cy="413.44" r="1.55" fill="#c41230"/>
<circle cx="104.04" cy="411.82" r="1.55" fill="#c41230"/>
<circle cx="98.46" cy="416.72" r="1.55" fill="#c41230"/>
<circle cx="98.46" cy="411.05" r="1.55" fill="#c41230"/>
<circle cx="100.40" cy="413.49" r="1.55" fill="#c41230"/>
<circle cx="98.46" cy="407.54" r="1.55" fill="#c41230"/>
<circle cx="99.86" cy="404.50" r="1.55" fill="#c41230"/>
<circle cx="101.25" cy="421.25" r="1.55" fill="#c41230"/>
<text transform="translate(53.73,411.88) rotate(-90)" x="0" y="0" font-size="6.9" text-anchor="middle" textLength="28.75" lengthAdjust="spacingAndGlyphs"><tspan font-style="italic">p</tspan>=0.0003</text>
<line x1="47.50" y1="427.70" x2="54.50" y2="427.70" stroke="#333" stroke-width="1.0"/>
<text x="71.25" y="411.88" font-size="6.9" textLength="5.00" lengthAdjust="spacingAndGlyphs">ns</text>
<line x1="70.00" y1="413.20" x2="77.50" y2="413.20" stroke="#333" stroke-width="1.0"/>
<text x="82.00" y="393.13" font-size="6.9" textLength="27.50" lengthAdjust="spacingAndGlyphs"><tspan font-style="italic">p</tspan>=0.0205</text>
<line x1="88.75" y1="395.70" x2="98.75" y2="395.70" stroke="#333" stroke-width="1.0"/>
<line x1="120.20" y1="433.30" x2="120.20" y2="438.10" stroke="#111" stroke-width="1.0"/>
<line x1="118.20" y1="433.30" x2="122.20" y2="433.30" stroke="#111" stroke-width="1.0"/>
<line x1="118.20" y1="438.10" x2="122.20" y2="438.10" stroke="#111" stroke-width="1.0"/>
<line x1="115.60" y1="435.40" x2="124.80" y2="435.40" stroke="#111" stroke-width="1.3"/>
<rect x="118.70" y="433.86" width="3.00" height="3.00" fill="#16518b"/>
<rect x="118.70" y="429.70" width="3.00" height="3.00" fill="#16518b"/>
<rect x="116.00" y="434.75" width="3.00" height="3.00" fill="#16518b"/>
<rect x="116.00" y="430.86" width="3.00" height="3.00" fill="#16518b"/>
<rect x="121.40" y="433.81" width="3.00" height="3.00" fill="#16518b"/>
<rect x="120.67" y="434.57" width="3.00" height="3.00" fill="#16518b"/>
<rect x="122.38" y="433.98" width="3.00" height="3.00" fill="#16518b"/>
<rect x="118.70" y="439.30" width="3.00" height="3.00" fill="#16518b"/>
<rect x="116.91" y="432.75" width="3.00" height="3.00" fill="#16518b"/>
<rect x="119.73" y="433.47" width="3.00" height="3.00" fill="#16518b"/>
<rect x="116.98" y="432.80" width="3.00" height="3.00" fill="#16518b"/>
<rect x="116.00" y="437.82" width="3.00" height="3.00" fill="#16518b"/>
<rect x="121.40" y="437.96" width="3.00" height="3.00" fill="#16518b"/>
<rect x="118.87" y="434.51" width="3.00" height="3.00" fill="#16518b"/>
<rect x="122.33" y="434.45" width="3.00" height="3.00" fill="#16518b"/>
<rect x="118.70" y="437.01" width="3.00" height="3.00" fill="#16518b"/>
<rect x="119.38" y="432.96" width="3.00" height="3.00" fill="#16518b"/>
<rect x="117.43" y="435.79" width="3.00" height="3.00" fill="#16518b"/>
<rect x="117.10" y="433.42" width="3.00" height="3.00" fill="#16518b"/>
<rect x="118.23" y="434.27" width="3.00" height="3.00" fill="#16518b"/>
<rect x="120.02" y="434.12" width="3.00" height="3.00" fill="#16518b"/>
<rect x="119.64" y="433.68" width="3.00" height="3.00" fill="#16518b"/>
<rect x="115.83" y="434.33" width="3.00" height="3.00" fill="#16518b"/>
<rect x="117.39" y="433.58" width="3.00" height="3.00" fill="#16518b"/>
<rect x="121.40" y="430.98" width="3.00" height="3.00" fill="#16518b"/>
<rect x="118.82" y="433.51" width="3.00" height="3.00" fill="#16518b"/>
<rect x="119.38" y="431.73" width="3.00" height="3.00" fill="#16518b"/>
<rect x="116.16" y="430.68" width="3.00" height="3.00" fill="#16518b"/>
<rect x="119.15" y="435.28" width="3.00" height="3.00" fill="#16518b"/>
<rect x="118.85" y="437.23" width="3.00" height="3.00" fill="#16518b"/>
<line x1="131.20" y1="441.40" x2="131.20" y2="448.15" stroke="#111" stroke-width="1.0"/>
<line x1="129.20" y1="441.40" x2="133.20" y2="441.40" stroke="#111" stroke-width="1.0"/>
<line x1="129.20" y1="448.15" x2="133.20" y2="448.15" stroke="#111" stroke-width="1.0"/>
<line x1="126.60" y1="444.00" x2="135.80" y2="444.00" stroke="#111" stroke-width="1.3"/>
<rect x="129.70" y="443.68" width="3.00" height="3.00" fill="#c41230"/>
<rect x="131.05" y="445.64" width="3.00" height="3.00" fill="#c41230"/>
<rect x="129.70" y="440.98" width="3.00" height="3.00" fill="#c41230"/>
<rect x="129.70" y="450.80" width="3.00" height="3.00" fill="#c41230"/>
<rect x="127.00" y="441.91" width="3.00" height="3.00" fill="#c41230"/>
<rect x="129.70" y="437.30" width="3.00" height="3.00" fill="#c41230"/>
<rect x="132.40" y="440.05" width="3.00" height="3.00" fill="#c41230"/>
<rect x="127.00" y="444.53" width="3.00" height="3.00" fill="#c41230"/>
<rect x="128.34" y="440.34" width="3.00" height="3.00" fill="#c41230"/>
<rect x="128.35" y="447.04" width="3.00" height="3.00" fill="#c41230"/>
<rect x="131.05" y="448.17" width="3.00" height="3.00" fill="#c41230"/>
<rect x="131.42" y="445.11" width="3.00" height="3.00" fill="#c41230"/>
<rect x="127.00" y="448.85" width="3.00" height="3.00" fill="#c41230"/>
<rect x="132.93" y="440.71" width="3.00" height="3.00" fill="#c41230"/>
<line x1="143.30" y1="416.40" x2="143.30" y2="423.35" stroke="#111" stroke-width="1.0"/>
<line x1="141.30" y1="416.40" x2="145.30" y2="416.40" stroke="#111" stroke-width="1.0"/>
<line x1="141.30" y1="423.35" x2="145.30" y2="423.35" stroke="#111" stroke-width="1.0"/>
<line x1="138.70" y1="419.00" x2="147.90" y2="419.00" stroke="#111" stroke-width="1.3"/>
<rect x="141.80" y="419.27" width="3.00" height="3.00" fill="#16518b"/>
<rect x="144.50" y="420.72" width="3.00" height="3.00" fill="#16518b"/>
<rect x="141.80" y="415.13" width="3.00" height="3.00" fill="#16518b"/>
<rect x="139.10" y="420.55" width="3.00" height="3.00" fill="#16518b"/>
<rect x="144.50" y="415.64" width="3.00" height="3.00" fill="#16518b"/>
<rect x="144.50" y="418.46" width="3.00" height="3.00" fill="#16518b"/>
<rect x="138.30" y="419.51" width="3.00" height="3.00" fill="#16518b"/>
<rect x="138.62" y="418.51" width="3.00" height="3.00" fill="#16518b"/>
<rect x="141.80" y="422.02" width="3.00" height="3.00" fill="#16518b"/>
<rect x="139.10" y="414.10" width="3.00" height="3.00" fill="#16518b"/>
<rect x="139.90" y="414.19" width="3.00" height="3.00" fill="#16518b"/>
<rect x="141.80" y="426.20" width="3.00" height="3.00" fill="#16518b"/>
<rect x="143.72" y="414.50" width="3.00" height="3.00" fill="#16518b"/>
<rect x="141.80" y="412.30" width="3.00" height="3.00" fill="#16518b"/>
<rect x="138.07" y="417.78" width="3.00" height="3.00" fill="#16518b"/>
<rect x="144.85" y="420.53" width="3.00" height="3.00" fill="#16518b"/>
<line x1="152.90" y1="420.00" x2="152.90" y2="429.15" stroke="#111" stroke-width="1.0"/>
<line x1="150.90" y1="420.00" x2="154.90" y2="420.00" stroke="#111" stroke-width="1.0"/>
<line x1="150.90" y1="429.15" x2="154.90" y2="429.15" stroke="#111" stroke-width="1.0"/>
<line x1="148.30" y1="424.80" x2="157.50" y2="424.80" stroke="#111" stroke-width="1.3"/>
<rect x="151.40" y="420.23" width="3.00" height="3.00" fill="#c41230"/>
<rect x="151.40" y="424.40" width="3.00" height="3.00" fill="#c41230"/>
<rect x="148.70" y="424.82" width="3.00" height="3.00" fill="#c41230"/>
<rect x="151.40" y="417.57" width="3.00" height="3.00" fill="#c41230"/>
<rect x="154.10" y="422.82" width="3.00" height="3.00" fill="#c41230"/>
<rect x="151.40" y="413.70" width="3.00" height="3.00" fill="#c41230"/>
<rect x="151.65" y="423.05" width="3.00" height="3.00" fill="#c41230"/>
<rect x="148.70" y="421.17" width="3.00" height="3.00" fill="#c41230"/>
<rect x="151.40" y="429.83" width="3.00" height="3.00" fill="#c41230"/>
<rect x="154.10" y="417.57" width="3.00" height="3.00" fill="#c41230"/>
<rect x="151.40" y="426.73" width="3.00" height="3.00" fill="#c41230"/>
<rect x="148.70" y="418.89" width="3.00" height="3.00" fill="#c41230"/>
<rect x="151.40" y="432.00" width="3.00" height="3.00" fill="#c41230"/>
<rect x="154.10" y="420.54" width="3.00" height="3.00" fill="#c41230"/>
<line x1="165.80" y1="406.20" x2="165.80" y2="419.00" stroke="#111" stroke-width="1.0"/>
<line x1="163.80" y1="406.20" x2="167.80" y2="406.20" stroke="#111" stroke-width="1.0"/>
<line x1="163.80" y1="419.00" x2="167.80" y2="419.00" stroke="#111" stroke-width="1.0"/>
<line x1="161.20" y1="410.40" x2="170.40" y2="410.40" stroke="#111" stroke-width="1.3"/>
<rect x="164.30" y="401.20" width="3.00" height="3.00" fill="#16518b"/>
<rect x="164.30" y="405.30" width="3.00" height="3.00" fill="#16518b"/>
<rect x="167.00" y="406.23" width="3.00" height="3.00" fill="#16518b"/>
<rect x="161.60" y="406.10" width="3.00" height="3.00" fill="#16518b"/>
<rect x="164.30" y="408.43" width="3.00" height="3.00" fill="#16518b"/>
<rect x="164.30" y="414.70" width="3.00" height="3.00" fill="#16518b"/>
<rect x="161.60" y="408.78" width="3.00" height="3.00" fill="#16518b"/>
<rect x="164.30" y="412.30" width="3.00" height="3.00" fill="#16518b"/>
<rect x="167.00" y="410.96" width="3.00" height="3.00" fill="#16518b"/>
<line x1="175.40" y1="414.90" x2="175.40" y2="420.00" stroke="#111" stroke-width="1.0"/>
<line x1="173.40" y1="414.90" x2="177.40" y2="414.90" stroke="#111" stroke-width="1.0"/>
<line x1="173.40" y1="420.00" x2="177.40" y2="420.00" stroke="#111" stroke-width="1.0"/>
<line x1="170.80" y1="417.10" x2="180.00" y2="417.10" stroke="#111" stroke-width="1.3"/>
<rect x="173.90" y="421.40" width="3.00" height="3.00" fill="#c41230"/>
<rect x="173.90" y="412.76" width="3.00" height="3.00" fill="#c41230"/>
<rect x="171.20" y="420.27" width="3.00" height="3.00" fill="#c41230"/>
<rect x="173.90" y="415.87" width="3.00" height="3.00" fill="#c41230"/>
<rect x="176.60" y="411.20" width="3.00" height="3.00" fill="#c41230"/>
<rect x="175.25" y="419.54" width="3.00" height="3.00" fill="#c41230"/>
<rect x="171.20" y="415.47" width="3.00" height="3.00" fill="#c41230"/>
<rect x="176.60" y="417.37" width="3.00" height="3.00" fill="#c41230"/>
<rect x="176.60" y="413.87" width="3.00" height="3.00" fill="#c41230"/>
<rect x="176.00" y="419.21" width="3.00" height="3.00" fill="#c41230"/>
<text transform="translate(129.38,413.85) rotate(-90)" x="0" y="0" font-size="6.9" text-anchor="middle" textLength="26.90" lengthAdjust="spacingAndGlyphs"><tspan font-style="italic">p</tspan>&lt;0.0001</text>
<line x1="123.50" y1="429.40" x2="130.40" y2="429.40" stroke="#333" stroke-width="1.0"/>
<text x="135.00" y="408.78" font-size="6.9" textLength="27.50" lengthAdjust="spacingAndGlyphs"><tspan font-style="italic">p</tspan>=0.0026</text>
<line x1="143.30" y1="411.00" x2="151.00" y2="411.00" stroke="#333" stroke-width="1.0"/>
<text x="155.80" y="397.88" font-size="6.9" textLength="27.30" lengthAdjust="spacingAndGlyphs"><tspan font-style="italic">p</tspan>=0.0045</text>
<line x1="165.40" y1="400.60" x2="174.00" y2="400.60" stroke="#333" stroke-width="1.0"/>
<text x="187.20" y="354.60" font-size="11.2" font-weight="bold" fill="#000" style="stroke:#000">H</text>
<text transform="translate(194.08,430.10) rotate(-90)" x="0" y="0" font-size="6.6" text-anchor="middle" textLength="81.80" lengthAdjust="spacingAndGlyphs">Ratio of myeloid-biased HSC to</text>
<text transform="translate(201.68,431.05) rotate(-90)" x="0" y="0" font-size="6.6" text-anchor="middle" textLength="35.50" lengthAdjust="spacingAndGlyphs">balanced HSC</text>
<line x1="214.60" y1="381.90" x2="214.60" y2="475.40" stroke="#111" stroke-width="1.15"/>
<line x1="211.60" y1="393.50" x2="214.60" y2="393.50" stroke="#111" stroke-width="1.15"/>
<text x="211.30" y="395.95" font-size="7.0" text-anchor="end" textLength="7.00" lengthAdjust="spacingAndGlyphs">10</text>
<line x1="211.60" y1="410.00" x2="214.60" y2="410.00" stroke="#111" stroke-width="1.15"/>
<text x="211.30" y="412.45" font-size="7.0" text-anchor="end" textLength="3.50" lengthAdjust="spacingAndGlyphs">8</text>
<line x1="211.60" y1="426.30" x2="214.60" y2="426.30" stroke="#111" stroke-width="1.15"/>
<text x="211.30" y="428.75" font-size="7.0" text-anchor="end" textLength="3.50" lengthAdjust="spacingAndGlyphs">6</text>
<line x1="211.60" y1="442.70" x2="214.60" y2="442.70" stroke="#111" stroke-width="1.15"/>
<text x="211.30" y="445.15" font-size="7.0" text-anchor="end" textLength="3.50" lengthAdjust="spacingAndGlyphs">4</text>
<line x1="211.60" y1="459.00" x2="214.60" y2="459.00" stroke="#111" stroke-width="1.15"/>
<text x="211.30" y="461.45" font-size="7.0" text-anchor="end" textLength="3.50" lengthAdjust="spacingAndGlyphs">2</text>
<line x1="211.60" y1="475.40" x2="214.60" y2="475.40" stroke="#111" stroke-width="1.15"/>
<text x="211.30" y="477.85" font-size="7.0" text-anchor="end" textLength="3.50" lengthAdjust="spacingAndGlyphs">0</text>
<line x1="214.60" y1="475.40" x2="282.30" y2="475.40" stroke="#111" stroke-width="1.15"/>
<line x1="226.30" y1="475.40" x2="226.30" y2="478.40" stroke="#111" stroke-width="1.15"/>
<line x1="248.70" y1="475.40" x2="248.70" y2="478.40" stroke="#111" stroke-width="1.15"/>
<line x1="271.40" y1="475.40" x2="271.40" y2="478.40" stroke="#111" stroke-width="1.15"/>
<text x="218.75" y="386.70" font-size="7.0" textLength="13.30" lengthAdjust="spacingAndGlyphs">Male</text>
<text x="226.60" y="487.20" font-size="6.4" text-anchor="middle">Young</text>
<text x="248.80" y="487.20" font-size="6.4" text-anchor="middle">Middle</text>
<text x="271.50" y="487.20" font-size="6.4" text-anchor="middle">Old</text>
<line x1="287.90" y1="380.60" x2="287.90" y2="475.40" stroke="#111" stroke-width="1.15"/>
<line x1="284.90" y1="393.50" x2="287.90" y2="393.50" stroke="#111" stroke-width="1.15"/>
<line x1="284.90" y1="410.00" x2="287.90" y2="410.00" stroke="#111" stroke-width="1.15"/>
<line x1="284.90" y1="426.30" x2="287.90" y2="426.30" stroke="#111" stroke-width="1.15"/>
<line x1="284.90" y1="442.70" x2="287.90" y2="442.70" stroke="#111" stroke-width="1.15"/>
<line x1="284.90" y1="459.00" x2="287.90" y2="459.00" stroke="#111" stroke-width="1.15"/>
<line x1="284.90" y1="475.40" x2="287.90" y2="475.40" stroke="#111" stroke-width="1.15"/>
<line x1="287.90" y1="475.40" x2="356.20" y2="475.40" stroke="#111" stroke-width="1.15"/>
<line x1="300.40" y1="475.40" x2="300.40" y2="478.40" stroke="#111" stroke-width="1.15"/>
<line x1="321.90" y1="475.40" x2="321.90" y2="478.40" stroke="#111" stroke-width="1.15"/>
<line x1="344.60" y1="475.40" x2="344.60" y2="478.40" stroke="#111" stroke-width="1.15"/>
<text x="291.20" y="386.00" font-size="7.0" textLength="20.80" lengthAdjust="spacingAndGlyphs">Female</text>
<text x="300.40" y="487.20" font-size="6.4" text-anchor="middle">Young</text>
<text x="321.90" y="487.20" font-size="6.4" text-anchor="middle">Middle</text>
<text x="344.60" y="487.20" font-size="6.4" text-anchor="middle">Old</text>
<line x1="221.00" y1="461.60" x2="221.00" y2="468.35" stroke="#111" stroke-width="1.0"/>
<line x1="219.00" y1="461.60" x2="223.00" y2="461.60" stroke="#111" stroke-width="1.0"/>
<line x1="219.00" y1="468.35" x2="223.00" y2="468.35" stroke="#111" stroke-width="1.0"/>
<line x1="216.40" y1="465.20" x2="225.60" y2="465.20" stroke="#111" stroke-width="1.3"/>
<circle cx="221.00" cy="465.90" r="1.55" fill="#16518b"/>
<circle cx="222.40" cy="463.91" r="1.55" fill="#16518b"/>
<circle cx="221.00" cy="458.00" r="1.55" fill="#16518b"/>
<circle cx="218.21" cy="464.28" r="1.55" fill="#16518b"/>
<circle cx="221.00" cy="471.50" r="1.55" fill="#16518b"/>
<circle cx="221.00" cy="461.74" r="1.55" fill="#16518b"/>
<circle cx="224.79" cy="463.58" r="1.55" fill="#16518b"/>
<circle cx="217.87" cy="463.73" r="1.55" fill="#16518b"/>
<circle cx="218.46" cy="463.59" r="1.55" fill="#16518b"/>
<circle cx="220.40" cy="462.04" r="1.55" fill="#16518b"/>
<circle cx="223.07" cy="464.93" r="1.55" fill="#16518b"/>
<circle cx="224.25" cy="466.39" r="1.55" fill="#16518b"/>
<circle cx="221.66" cy="466.36" r="1.55" fill="#16518b"/>
<circle cx="218.21" cy="467.48" r="1.55" fill="#16518b"/>
<circle cx="218.00" cy="463.66" r="1.55" fill="#16518b"/>
<circle cx="218.17" cy="465.93" r="1.55" fill="#16518b"/>
<circle cx="219.20" cy="464.87" r="1.55" fill="#16518b"/>
<circle cx="221.00" cy="468.49" r="1.55" fill="#16518b"/>
<circle cx="223.47" cy="464.49" r="1.55" fill="#16518b"/>
<circle cx="217.61" cy="465.36" r="1.55" fill="#16518b"/>
<line x1="231.50" y1="458.45" x2="231.50" y2="469.55" stroke="#111" stroke-width="1.0"/>
<line x1="229.50" y1="458.45" x2="233.50" y2="458.45" stroke="#111" stroke-width="1.0"/>
<line x1="229.50" y1="469.55" x2="233.50" y2="469.55" stroke="#111" stroke-width="1.0"/>
<line x1="226.90" y1="467.10" x2="236.10" y2="467.10" stroke="#111" stroke-width="1.3"/>
<circle cx="231.50" cy="469.94" r="1.55" fill="#c41230"/>
<circle cx="231.50" cy="456.67" r="1.55" fill="#c41230"/>
<circle cx="231.50" cy="463.91" r="1.55" fill="#c41230"/>
<circle cx="234.29" cy="457.92" r="1.55" fill="#c41230"/>
<circle cx="234.29" cy="463.16" r="1.55" fill="#c41230"/>
<circle cx="234.29" cy="470.21" r="1.55" fill="#c41230"/>
<circle cx="231.50" cy="467.06" r="1.55" fill="#c41230"/>
<circle cx="231.50" cy="461.49" r="1.55" fill="#c41230"/>
<circle cx="228.71" cy="464.85" r="1.55" fill="#c41230"/>
<circle cx="232.90" cy="472.00" r="1.55" fill="#c41230"/>
<circle cx="228.71" cy="457.95" r="1.55" fill="#c41230"/>
<circle cx="228.71" cy="470.73" r="1.55" fill="#c41230"/>
<circle cx="230.36" cy="469.20" r="1.55" fill="#c41230"/>
<circle cx="231.50" cy="449.80" r="1.55" fill="#c41230"/>
<circle cx="231.98" cy="463.27" r="1.55" fill="#c41230"/>
<circle cx="228.88" cy="468.67" r="1.55" fill="#c41230"/>
<circle cx="235.23" cy="463.77" r="1.55" fill="#c41230"/>
<circle cx="232.48" cy="457.68" r="1.55" fill="#c41230"/>
<circle cx="228.71" cy="461.27" r="1.55" fill="#c41230"/>
<circle cx="229.70" cy="459.36" r="1.55" fill="#c41230"/>
<line x1="242.50" y1="454.20" x2="242.50" y2="469.60" stroke="#111" stroke-width="1.0"/>
<line x1="240.50" y1="454.20" x2="244.50" y2="454.20" stroke="#111" stroke-width="1.0"/>
<line x1="240.50" y1="469.60" x2="244.50" y2="469.60" stroke="#111" stroke-width="1.0"/>
<line x1="237.90" y1="461.90" x2="247.10" y2="461.90" stroke="#111" stroke-width="1.3"/>
<circle cx="242.50" cy="459.92" r="1.55" fill="#16518b"/>
<circle cx="242.50" cy="470.00" r="1.55" fill="#16518b"/>
<circle cx="241.10" cy="457.84" r="1.55" fill="#16518b"/>
<circle cx="242.50" cy="448.80" r="1.55" fill="#16518b"/>
<circle cx="242.50" cy="466.06" r="1.55" fill="#16518b"/>
<line x1="254.00" y1="463.10" x2="254.00" y2="466.10" stroke="#111" stroke-width="1.0"/>
<line x1="252.00" y1="463.10" x2="256.00" y2="463.10" stroke="#111" stroke-width="1.0"/>
<line x1="252.00" y1="466.10" x2="256.00" y2="466.10" stroke="#111" stroke-width="1.0"/>
<line x1="249.40" y1="464.20" x2="258.60" y2="464.20" stroke="#111" stroke-width="1.3"/>
<circle cx="254.00" cy="464.54" r="1.55" fill="#c41230"/>
<circle cx="254.00" cy="468.00" r="1.55" fill="#c41230"/>
<circle cx="256.79" cy="465.10" r="1.55" fill="#c41230"/>
<circle cx="251.21" cy="464.31" r="1.55" fill="#c41230"/>
<circle cx="254.00" cy="462.00" r="1.55" fill="#c41230"/>
<line x1="267.50" y1="410.80" x2="267.50" y2="450.80" stroke="#111" stroke-width="1.0"/>
<line x1="265.50" y1="410.80" x2="269.50" y2="410.80" stroke="#111" stroke-width="1.0"/>
<line x1="265.50" y1="450.80" x2="269.50" y2="450.80" stroke="#111" stroke-width="1.0"/>
<line x1="262.90" y1="431.20" x2="272.10" y2="431.20" stroke="#111" stroke-width="1.3"/>
<circle cx="267.50" cy="442.46" r="1.55" fill="#16518b"/>
<circle cx="267.50" cy="422.70" r="1.55" fill="#16518b"/>
<circle cx="267.50" cy="430.06" r="1.55" fill="#16518b"/>
<circle cx="267.50" cy="432.98" r="1.55" fill="#16518b"/>
<circle cx="267.50" cy="439.86" r="1.55" fill="#16518b"/>
<circle cx="267.50" cy="426.85" r="1.55" fill="#16518b"/>
<circle cx="270.29" cy="427.71" r="1.55" fill="#16518b"/>
<circle cx="267.50" cy="453.00" r="1.55" fill="#16518b"/>
<circle cx="270.29" cy="430.65" r="1.55" fill="#16518b"/>
<circle cx="264.71" cy="421.83" r="1.55" fill="#16518b"/>
<circle cx="267.50" cy="412.35" r="1.55" fill="#16518b"/>
<circle cx="266.11" cy="424.47" r="1.55" fill="#16518b"/>
<circle cx="267.50" cy="402.00" r="1.55" fill="#16518b"/>
<circle cx="264.71" cy="433.43" r="1.55" fill="#16518b"/>
<circle cx="264.71" cy="430.90" r="1.55" fill="#16518b"/>
<circle cx="265.80" cy="393.50" r="1.35" fill="#16518b"/>
<circle cx="268.30" cy="393.50" r="1.35" fill="#16518b"/>
<line x1="276.00" y1="444.05" x2="276.00" y2="457.50" stroke="#111" stroke-width="1.0"/>
<line x1="274.00" y1="444.05" x2="278.00" y2="444.05" stroke="#111" stroke-width="1.0"/>
<line x1="274.00" y1="457.50" x2="278.00" y2="457.50" stroke="#111" stroke-width="1.0"/>
<line x1="271.40" y1="449.80" x2="280.60" y2="449.80" stroke="#111" stroke-width="1.3"/>
<circle cx="276.00" cy="451.71" r="1.55" fill="#c41230"/>
<circle cx="276.00" cy="447.03" r="1.55" fill="#c41230"/>
<circle cx="276.00" cy="465.20" r="1.55" fill="#c41230"/>
<circle cx="278.79" cy="450.74" r="1.55" fill="#c41230"/>
<circle cx="276.00" cy="438.30" r="1.55" fill="#c41230"/>
<circle cx="278.79" cy="447.20" r="1.55" fill="#c41230"/>
<circle cx="276.00" cy="454.91" r="1.55" fill="#c41230"/>
<circle cx="273.21" cy="450.36" r="1.55" fill="#c41230"/>
<circle cx="275.41" cy="450.05" r="1.55" fill="#c41230"/>
<circle cx="276.00" cy="444.59" r="1.55" fill="#c41230"/>
<circle cx="272.28" cy="449.90" r="1.55" fill="#c41230"/>
<circle cx="278.79" cy="442.98" r="1.55" fill="#c41230"/>
<circle cx="276.00" cy="457.62" r="1.55" fill="#c41230"/>
<circle cx="274.61" cy="459.68" r="1.55" fill="#c41230"/>
<text x="223.30" y="445.88" font-size="6.9" textLength="6.30" lengthAdjust="spacingAndGlyphs">ns</text>
<line x1="222.30" y1="448.10" x2="231.00" y2="448.10" stroke="#333" stroke-width="1.0"/>
<text x="246.30" y="444.58" font-size="6.9" textLength="5.80" lengthAdjust="spacingAndGlyphs">ns</text>
<line x1="245.00" y1="446.20" x2="253.00" y2="446.20" stroke="#333" stroke-width="1.0"/>
<text x="257.00" y="389.58" font-size="6.9" textLength="27.00" lengthAdjust="spacingAndGlyphs"><tspan font-style="italic">p</tspan>=0.0015</text>
<line x1="267.70" y1="391.70" x2="275.40" y2="391.70" stroke="#333" stroke-width="1.0"/>
<line x1="294.60" y1="462.70" x2="294.60" y2="467.10" stroke="#111" stroke-width="1.0"/>
<line x1="292.60" y1="462.70" x2="296.60" y2="462.70" stroke="#111" stroke-width="1.0"/>
<line x1="292.60" y1="467.10" x2="296.60" y2="467.10" stroke="#111" stroke-width="1.0"/>
<line x1="290.00" y1="464.60" x2="299.20" y2="464.60" stroke="#111" stroke-width="1.3"/>
<rect x="293.10" y="466.99" width="3.00" height="3.00" fill="#16518b"/>
<rect x="295.80" y="466.22" width="3.00" height="3.00" fill="#16518b"/>
<rect x="293.10" y="460.45" width="3.00" height="3.00" fill="#16518b"/>
<rect x="293.10" y="462.96" width="3.00" height="3.00" fill="#16518b"/>
<rect x="290.40" y="466.54" width="3.00" height="3.00" fill="#16518b"/>
<rect x="295.80" y="462.51" width="3.00" height="3.00" fill="#16518b"/>
<rect x="290.40" y="464.18" width="3.00" height="3.00" fill="#16518b"/>
<rect x="294.74" y="463.13" width="3.00" height="3.00" fill="#16518b"/>
<rect x="294.36" y="464.89" width="3.00" height="3.00" fill="#16518b"/>
<rect x="290.45" y="466.08" width="3.00" height="3.00" fill="#16518b"/>
<rect x="290.40" y="461.91" width="3.00" height="3.00" fill="#16518b"/>
<rect x="290.81" y="461.33" width="3.00" height="3.00" fill="#16518b"/>
<rect x="294.58" y="460.38" width="3.00" height="3.00" fill="#16518b"/>
<rect x="289.84" y="468.10" width="3.00" height="3.00" fill="#16518b"/>
<rect x="292.40" y="465.82" width="3.00" height="3.00" fill="#16518b"/>
<rect x="289.32" y="459.95" width="3.00" height="3.00" fill="#16518b"/>
<rect x="291.95" y="463.09" width="3.00" height="3.00" fill="#16518b"/>
<rect x="294.00" y="461.73" width="3.00" height="3.00" fill="#16518b"/>
<rect x="292.48" y="464.02" width="3.00" height="3.00" fill="#16518b"/>
<rect x="295.57" y="459.30" width="3.00" height="3.00" fill="#16518b"/>
<rect x="293.88" y="464.68" width="3.00" height="3.00" fill="#16518b"/>
<rect x="289.68" y="463.03" width="3.00" height="3.00" fill="#16518b"/>
<rect x="292.52" y="460.88" width="3.00" height="3.00" fill="#16518b"/>
<rect x="290.13" y="461.09" width="3.00" height="3.00" fill="#16518b"/>
<line x1="305.20" y1="464.05" x2="305.20" y2="469.85" stroke="#111" stroke-width="1.0"/>
<line x1="303.20" y1="464.05" x2="307.20" y2="464.05" stroke="#111" stroke-width="1.0"/>
<line x1="303.20" y1="469.85" x2="307.20" y2="469.85" stroke="#111" stroke-width="1.0"/>
<line x1="300.60" y1="467.70" x2="309.80" y2="467.70" stroke="#111" stroke-width="1.3"/>
<rect x="303.70" y="470.50" width="3.00" height="3.00" fill="#c41230"/>
<rect x="303.70" y="463.64" width="3.00" height="3.00" fill="#c41230"/>
<rect x="302.35" y="468.78" width="3.00" height="3.00" fill="#c41230"/>
<rect x="303.70" y="466.95" width="3.00" height="3.00" fill="#c41230"/>
<rect x="306.40" y="468.36" width="3.00" height="3.00" fill="#c41230"/>
<rect x="306.40" y="464.43" width="3.00" height="3.00" fill="#c41230"/>
<rect x="301.00" y="465.75" width="3.00" height="3.00" fill="#c41230"/>
<rect x="303.06" y="467.14" width="3.00" height="3.00" fill="#c41230"/>
<rect x="303.40" y="469.35" width="3.00" height="3.00" fill="#c41230"/>
<rect x="301.62" y="464.95" width="3.00" height="3.00" fill="#c41230"/>
<rect x="301.00" y="461.97" width="3.00" height="3.00" fill="#c41230"/>
<rect x="300.86" y="465.91" width="3.00" height="3.00" fill="#c41230"/>
<rect x="306.75" y="467.86" width="3.00" height="3.00" fill="#c41230"/>
<rect x="305.02" y="466.91" width="3.00" height="3.00" fill="#c41230"/>
<rect x="303.70" y="458.90" width="3.00" height="3.00" fill="#c41230"/>
<rect x="302.58" y="464.18" width="3.00" height="3.00" fill="#c41230"/>
<line x1="316.70" y1="450.80" x2="316.70" y2="461.65" stroke="#111" stroke-width="1.0"/>
<line x1="314.70" y1="450.80" x2="318.70" y2="450.80" stroke="#111" stroke-width="1.0"/>
<line x1="314.70" y1="461.65" x2="318.70" y2="461.65" stroke="#111" stroke-width="1.0"/>
<line x1="312.10" y1="455.60" x2="321.30" y2="455.60" stroke="#111" stroke-width="1.3"/>
<rect x="315.20" y="466.20" width="3.00" height="3.00" fill="#16518b"/>
<rect x="315.20" y="453.79" width="3.00" height="3.00" fill="#16518b"/>
<rect x="315.20" y="459.53" width="3.00" height="3.00" fill="#16518b"/>
<rect x="315.20" y="448.97" width="3.00" height="3.00" fill="#16518b"/>
<rect x="317.90" y="459.50" width="3.00" height="3.00" fill="#16518b"/>
<rect x="312.50" y="452.77" width="3.00" height="3.00" fill="#16518b"/>
<rect x="315.20" y="444.50" width="3.00" height="3.00" fill="#16518b"/>
<rect x="312.50" y="460.24" width="3.00" height="3.00" fill="#16518b"/>
<rect x="315.20" y="456.02" width="3.00" height="3.00" fill="#16518b"/>
<rect x="312.50" y="450.40" width="3.00" height="3.00" fill="#16518b"/>
<rect x="312.50" y="457.09" width="3.00" height="3.00" fill="#16518b"/>
<rect x="316.55" y="461.47" width="3.00" height="3.00" fill="#16518b"/>
<rect x="312.73" y="458.74" width="3.00" height="3.00" fill="#16518b"/>
<rect x="317.90" y="455.54" width="3.00" height="3.00" fill="#16518b"/>
<line x1="327.30" y1="445.50" x2="327.30" y2="461.65" stroke="#111" stroke-width="1.0"/>
<line x1="325.30" y1="445.50" x2="329.30" y2="445.50" stroke="#111" stroke-width="1.0"/>
<line x1="325.30" y1="461.65" x2="329.30" y2="461.65" stroke="#111" stroke-width="1.0"/>
<line x1="322.70" y1="457.50" x2="331.90" y2="457.50" stroke="#111" stroke-width="1.3"/>
<rect x="325.80" y="450.87" width="3.00" height="3.00" fill="#c41230"/>
<rect x="325.80" y="463.15" width="3.00" height="3.00" fill="#c41230"/>
<rect x="325.80" y="442.28" width="3.00" height="3.00" fill="#c41230"/>
<rect x="323.10" y="442.95" width="3.00" height="3.00" fill="#c41230"/>
<rect x="325.80" y="432.00" width="3.00" height="3.00" fill="#c41230"/>
<rect x="325.80" y="453.53" width="3.00" height="3.00" fill="#c41230"/>
<rect x="325.80" y="459.38" width="3.00" height="3.00" fill="#c41230"/>
<rect x="325.80" y="447.10" width="3.00" height="3.00" fill="#c41230"/>
<rect x="323.10" y="464.30" width="3.00" height="3.00" fill="#c41230"/>
<rect x="328.50" y="454.86" width="3.00" height="3.00" fill="#c41230"/>
<line x1="339.80" y1="431.35" x2="339.80" y2="440.40" stroke="#111" stroke-width="1.0"/>
<line x1="337.80" y1="431.35" x2="341.80" y2="431.35" stroke="#111" stroke-width="1.0"/>
<line x1="337.80" y1="440.40" x2="341.80" y2="440.40" stroke="#111" stroke-width="1.0"/>
<line x1="335.20" y1="435.40" x2="344.40" y2="435.40" stroke="#111" stroke-width="1.3"/>
<rect x="338.30" y="443.90" width="3.00" height="3.00" fill="#16518b"/>
<rect x="338.30" y="438.23" width="3.00" height="3.00" fill="#16518b"/>
<rect x="338.30" y="432.01" width="3.00" height="3.00" fill="#16518b"/>
<rect x="335.60" y="443.48" width="3.00" height="3.00" fill="#16518b"/>
<rect x="339.65" y="442.14" width="3.00" height="3.00" fill="#16518b"/>
<rect x="338.30" y="426.92" width="3.00" height="3.00" fill="#16518b"/>
<rect x="338.30" y="435.61" width="3.00" height="3.00" fill="#16518b"/>
<rect x="341.00" y="425.80" width="3.00" height="3.00" fill="#16518b"/>
<rect x="335.60" y="432.69" width="3.00" height="3.00" fill="#16518b"/>
<line x1="350.40" y1="451.05" x2="350.40" y2="456.35" stroke="#111" stroke-width="1.0"/>
<line x1="348.40" y1="451.05" x2="352.40" y2="451.05" stroke="#111" stroke-width="1.0"/>
<line x1="348.40" y1="456.35" x2="352.40" y2="456.35" stroke="#111" stroke-width="1.0"/>
<line x1="345.80" y1="454.20" x2="355.00" y2="454.20" stroke="#111" stroke-width="1.3"/>
<rect x="348.90" y="452.43" width="3.00" height="3.00" fill="#c41230"/>
<rect x="351.60" y="453.55" width="3.00" height="3.00" fill="#c41230"/>
<rect x="348.90" y="456.31" width="3.00" height="3.00" fill="#c41230"/>
<rect x="348.90" y="446.40" width="3.00" height="3.00" fill="#c41230"/>
<rect x="346.20" y="453.21" width="3.00" height="3.00" fill="#c41230"/>
<rect x="345.24" y="451.40" width="3.00" height="3.00" fill="#c41230"/>
<rect x="348.90" y="448.61" width="3.00" height="3.00" fill="#c41230"/>
<rect x="351.56" y="452.70" width="3.00" height="3.00" fill="#c41230"/>
<rect x="352.02" y="451.19" width="3.00" height="3.00" fill="#c41230"/>
<rect x="351.60" y="457.00" width="3.00" height="3.00" fill="#c41230"/>
<text transform="translate(301.88,442.15) rotate(-90)" x="0" y="0" font-size="6.9" text-anchor="middle" textLength="26.90" lengthAdjust="spacingAndGlyphs"><tspan font-style="italic">p</tspan>=0.0477</text>
<line x1="295.60" y1="457.70" x2="303.80" y2="457.70" stroke="#333" stroke-width="1.0"/>
<text x="319.20" y="429.18" font-size="6.9" textLength="6.20" lengthAdjust="spacingAndGlyphs">ns</text>
<line x1="318.00" y1="431.40" x2="326.30" y2="431.40" stroke="#333" stroke-width="1.0"/>
<text x="331.50" y="422.88" font-size="6.9" textLength="27.00" lengthAdjust="spacingAndGlyphs"><tspan font-style="italic">p</tspan>=0.0014</text>
<line x1="341.70" y1="425.00" x2="350.00" y2="425.00" stroke="#333" stroke-width="1.0"/>
<text x="365.4" y="354.4" font-size="11.2" font-weight="bold" fill="#000">I</text>
<text x="398.00" y="354.45" font-size="6.8" font-style="italic" textLength="34.00" lengthAdjust="spacingAndGlyphs">Igf2bp2<tspan dy="-2.9" font-size="5.0">+/+</tspan></text>
<text x="458.50" y="353.95" font-size="6.8" font-style="italic" textLength="33.00" lengthAdjust="spacingAndGlyphs">Igf2bp2<tspan dy="-2.9" font-size="5.0">−/−</tspan></text>
<rect x="443.00" y="359.40" width="2.80" height="114.00" fill="#c4c4c4"/>
<rect x="386.20" y="359.00" width="57.20" height="57.20" fill="none" stroke="#333" stroke-width="0.9"/>
<rect x="445.40" y="359.00" width="58.40" height="57.20" fill="none" stroke="#333" stroke-width="0.9"/>
<rect x="385.90" y="418.00" width="57.50" height="55.80" fill="none" stroke="#333" stroke-width="0.9"/>
<rect x="445.40" y="418.00" width="58.20" height="55.80" fill="none" stroke="#333" stroke-width="0.9"/>
<ellipse cx="407.50" cy="377.50" rx="3.20" ry="4.50" transform="rotate(10 407.50 377.50)" fill="#c4c4c4" stroke="#222" stroke-width="0.5"/>
<ellipse cx="407.50" cy="377.50" rx="2.35" ry="3.30" transform="rotate(10 407.50 377.50)" fill="#eeeeee" stroke="#222" stroke-width="0.5"/>
<ellipse cx="407.50" cy="377.50" rx="1.49" ry="2.10" transform="rotate(10 407.50 377.50)" fill="#9a9a9a" stroke="#222" stroke-width="0.5"/>
<ellipse cx="407.80" cy="387.50" rx="3.30" ry="4.50" transform="rotate(0 407.80 387.50)" fill="#c4c4c4" stroke="#222" stroke-width="0.5"/>
<ellipse cx="407.80" cy="387.50" rx="2.42" ry="3.30" transform="rotate(0 407.80 387.50)" fill="#eeeeee" stroke="#222" stroke-width="0.5"/>
<ellipse cx="407.80" cy="387.50" rx="1.54" ry="2.10" transform="rotate(0 407.80 387.50)" fill="#9a9a9a" stroke="#222" stroke-width="0.5"/>
<ellipse cx="404.50" cy="384.50" rx="2.00" ry="1.30" transform="rotate(0 404.50 384.50)" fill="#c4c4c4" stroke="#222" stroke-width="0.5"/>
<ellipse cx="469.00" cy="378.50" rx="1.80" ry="3.80" transform="rotate(-15 469.00 378.50)" fill="#c4c4c4" stroke="#222" stroke-width="0.5"/>
<ellipse cx="469.00" cy="378.50" rx="1.08" ry="2.28" transform="rotate(-15 469.00 378.50)" fill="#eeeeee" stroke="#222" stroke-width="0.5"/>
<ellipse cx="468.50" cy="388.50" rx="2.40" ry="4.00" transform="rotate(10 468.50 388.50)" fill="#c4c4c4" stroke="#222" stroke-width="0.5"/>
<ellipse cx="468.50" cy="388.50" rx="1.76" ry="2.93" transform="rotate(10 468.50 388.50)" fill="#eeeeee" stroke="#222" stroke-width="0.5"/>
<ellipse cx="468.50" cy="388.50" rx="1.12" ry="1.87" transform="rotate(10 468.50 388.50)" fill="#9a9a9a" stroke="#222" stroke-width="0.5"/>
<circle cx="461.50" cy="375.50" r="0.50" fill="#333"/>
<circle cx="465.00" cy="374.50" r="0.50" fill="#333"/>
<circle cx="464.00" cy="385.50" r="0.50" fill="#333"/>
<path d="M391.10,436.50 C391.10,435.43 392.47,434.05 393.70,433.10 C394.93,432.15 397.03,431.42 398.50,430.80 C399.97,430.18 401.17,429.75 402.50,429.40 C403.83,429.05 405.10,428.37 406.50,428.70 C407.90,429.03 409.88,430.05 410.90,431.40 C411.92,432.75 412.32,434.77 412.60,436.80 C412.88,438.83 412.72,441.47 412.60,443.60 C412.48,445.73 412.47,448.15 411.90,449.60 C411.33,451.05 410.32,451.97 409.20,452.30 C408.08,452.63 406.48,452.40 405.20,451.60 C403.92,450.80 402.62,448.73 401.50,447.50 C400.38,446.27 399.80,445.53 398.50,444.20 C397.20,442.87 394.93,440.78 393.70,439.50 C392.47,438.22 391.10,437.57 391.10,436.50Z" fill="#7a7a7a" stroke="#111" stroke-width="1.1"/>
<path d="M392.83,436.94 C392.83,436.02 394.01,434.83 395.07,434.02 C396.13,433.20 397.93,432.57 399.19,432.04 C400.46,431.51 401.49,431.13 402.63,430.83 C403.78,430.53 404.87,429.95 406.07,430.23 C407.28,430.52 408.98,431.39 409.86,432.55 C410.73,433.71 411.08,435.45 411.32,437.20 C411.56,438.95 411.42,441.21 411.32,443.05 C411.22,444.88 411.21,446.96 410.72,448.21 C410.23,449.45 409.36,450.24 408.40,450.53 C407.44,450.81 406.06,450.61 404.96,449.93 C403.85,449.24 402.73,447.46 401.77,446.40 C400.81,445.34 400.31,444.71 399.19,443.56 C398.08,442.42 396.13,440.62 395.07,439.52 C394.01,438.42 392.83,437.86 392.83,436.94Z" fill="#bcbcbc" stroke="#444" stroke-width="0.45"/>
<path d="M394.56,437.38 C394.56,436.61 395.54,435.62 396.43,434.93 C397.32,434.25 398.83,433.72 399.89,433.28 C400.94,432.83 401.81,432.52 402.77,432.27 C403.73,432.02 404.64,431.52 405.65,431.76 C406.66,432.00 408.08,432.74 408.82,433.71 C409.55,434.68 409.84,436.13 410.04,437.60 C410.24,439.06 410.12,440.96 410.04,442.49 C409.96,444.03 409.94,445.77 409.54,446.81 C409.13,447.86 408.40,448.52 407.59,448.76 C406.79,449.00 405.64,448.83 404.71,448.25 C403.79,447.68 402.85,446.19 402.05,445.30 C401.24,444.41 400.82,443.88 399.89,442.92 C398.95,441.96 397.32,440.46 396.43,439.54 C395.54,438.62 394.56,438.15 394.56,437.38Z" fill="#6a6a6a" stroke="#333" stroke-width="0.4"/>
<ellipse cx="405.20" cy="436.80" rx="4.60" ry="4.00" transform="rotate(0 405.20 436.80)" fill="#bbb" stroke="#222" stroke-width="0.45"/>
<ellipse cx="405.20" cy="436.80" rx="3.62" ry="3.15" transform="rotate(0 405.20 436.80)" fill="#555" stroke="#222" stroke-width="0.45"/>
<ellipse cx="405.20" cy="436.80" rx="2.64" ry="2.30" transform="rotate(0 405.20 436.80)" fill="#999" stroke="#222" stroke-width="0.45"/>
<ellipse cx="405.20" cy="436.80" rx="1.67" ry="1.45" transform="rotate(0 405.20 436.80)" fill="#333" stroke="#222" stroke-width="0.45"/>
<circle cx="405.20" cy="436.80" r="0.80" fill="#000"/>
<ellipse cx="408.80" cy="446.50" rx="2.80" ry="3.80" transform="rotate(0 408.80 446.50)" fill="#bbb" stroke="#222" stroke-width="0.45"/>
<ellipse cx="408.80" cy="446.50" rx="2.20" ry="2.99" transform="rotate(0 408.80 446.50)" fill="#555" stroke="#222" stroke-width="0.45"/>
<ellipse cx="408.80" cy="446.50" rx="1.61" ry="2.18" transform="rotate(0 408.80 446.50)" fill="#999" stroke="#222" stroke-width="0.45"/>
<ellipse cx="408.80" cy="446.50" rx="1.02" ry="1.38" transform="rotate(0 408.80 446.50)" fill="#333" stroke="#222" stroke-width="0.45"/>
<circle cx="408.80" cy="446.50" r="0.80" fill="#000"/>
<path d="M451.50,432.00 C452.13,430.83 453.58,429.63 455.00,429.00 C456.42,428.37 458.17,428.28 460.00,428.20 C461.83,428.12 464.25,428.03 466.00,428.50 C467.75,428.97 469.37,429.75 470.50,431.00 C471.63,432.25 472.38,434.00 472.80,436.00 C473.22,438.00 473.13,440.67 473.00,443.00 C472.87,445.33 472.75,448.33 472.00,450.00 C471.25,451.67 470.00,452.58 468.50,453.00 C467.00,453.42 464.58,453.08 463.00,452.50 C461.42,451.92 460.25,450.58 459.00,449.50 C457.75,448.42 456.58,447.42 455.50,446.00 C454.42,444.58 453.22,442.67 452.50,441.00 C451.78,439.33 451.37,437.50 451.20,436.00 C451.03,434.50 450.87,433.17 451.50,432.00Z" fill="#b4b4b4" stroke="#111" stroke-width="0.7"/>
<path d="M453.00,433.08 C453.54,432.07 454.79,431.04 456.00,430.50 C457.22,429.95 458.73,429.88 460.31,429.81 C461.88,429.74 463.96,429.67 465.46,430.07 C466.97,430.47 468.36,431.14 469.33,432.22 C470.31,433.29 470.95,434.80 471.31,436.52 C471.67,438.24 471.60,440.53 471.49,442.54 C471.37,444.54 471.27,447.12 470.62,448.56 C469.98,449.99 468.91,450.78 467.62,451.14 C466.32,451.50 464.25,451.21 462.88,450.71 C461.52,450.21 460.52,449.06 459.44,448.13 C458.37,447.20 457.37,446.34 456.44,445.12 C455.50,443.90 454.47,442.25 453.86,440.82 C453.24,439.38 452.88,437.81 452.74,436.52 C452.59,435.23 452.45,434.08 453.00,433.08Z" fill="#dadada" stroke="#444" stroke-width="0.45"/>
<path d="M454.49,434.15 C454.95,433.31 455.99,432.45 457.01,431.99 C458.03,431.54 459.29,431.48 460.61,431.42 C461.93,431.36 463.67,431.30 464.93,431.63 C466.19,431.97 467.35,432.53 468.17,433.43 C468.99,434.33 469.53,435.59 469.83,437.03 C470.13,438.47 470.07,440.39 469.97,442.07 C469.87,443.75 469.79,445.91 469.25,447.11 C468.71,448.31 467.81,448.97 466.73,449.27 C465.65,449.57 463.91,449.33 462.77,448.91 C461.63,448.49 460.79,447.53 459.89,446.75 C458.99,445.97 458.15,445.25 457.37,444.23 C456.59,443.21 455.73,441.83 455.21,440.63 C454.69,439.43 454.39,438.11 454.27,437.03 C454.15,435.95 454.03,434.99 454.49,434.15Z" fill="#a6a6a6" stroke="#333" stroke-width="0.4"/>
<line x1="454.00" y1="431.00" x2="459.00" y2="440.00" stroke="#eee" stroke-width="0.9"/>
<line x1="454.90" y1="431.90" x2="459.90" y2="440.90" stroke="#333" stroke-width="0.6"/>
<line x1="457.00" y1="430.00" x2="462.00" y2="437.00" stroke="#eee" stroke-width="0.9"/>
<line x1="457.90" y1="430.90" x2="462.90" y2="437.90" stroke="#333" stroke-width="0.6"/>
<ellipse cx="464.50" cy="437.00" rx="5.00" ry="4.20" transform="rotate(0 464.50 437.00)" fill="#d6d6d6" stroke="#222" stroke-width="0.45"/>
<ellipse cx="464.50" cy="437.00" rx="3.94" ry="3.31" transform="rotate(0 464.50 437.00)" fill="#888" stroke="#222" stroke-width="0.45"/>
<ellipse cx="464.50" cy="437.00" rx="2.88" ry="2.42" transform="rotate(0 464.50 437.00)" fill="#c8c8c8" stroke="#222" stroke-width="0.45"/>
<ellipse cx="464.50" cy="437.00" rx="1.81" ry="1.52" transform="rotate(0 464.50 437.00)" fill="#6a6a6a" stroke="#222" stroke-width="0.45"/>
<circle cx="464.50" cy="437.00" r="0.80" fill="#000"/>
<ellipse cx="466.50" cy="447.50" rx="4.20" ry="3.40" transform="rotate(0 466.50 447.50)" fill="#d6d6d6" stroke="#222" stroke-width="0.45"/>
<ellipse cx="466.50" cy="447.50" rx="3.31" ry="2.68" transform="rotate(0 466.50 447.50)" fill="#888" stroke="#222" stroke-width="0.45"/>
<ellipse cx="466.50" cy="447.50" rx="2.42" ry="1.95" transform="rotate(0 466.50 447.50)" fill="#c8c8c8" stroke="#222" stroke-width="0.45"/>
<ellipse cx="466.50" cy="447.50" rx="1.52" ry="1.23" transform="rotate(0 466.50 447.50)" fill="#6a6a6a" stroke="#222" stroke-width="0.45"/>
<circle cx="466.50" cy="447.50" r="0.80" fill="#000"/>
<path d="M386.20,365.30 H415.50 V395.50 H386.20" fill="none" stroke="#111" stroke-width="0.9"/>
<line x1="386.20" y1="382.40" x2="415.50" y2="382.40" stroke="#111" stroke-width="0.9"/>
<path d="M445.40,366.20 H475.70 V395.00 H445.40" fill="none" stroke="#111" stroke-width="0.9"/>
<line x1="445.40" y1="382.70" x2="475.70" y2="382.70" stroke="#111" stroke-width="0.9"/>
<path d="M385.90,424.50 H415.50 V454.70 H385.90" fill="none" stroke="#111" stroke-width="0.9"/>
<line x1="385.90" y1="441.50" x2="415.50" y2="441.50" stroke="#111" stroke-width="0.9"/>
<path d="M445.40,424.50 H474.60 V454.70 H445.40" fill="none" stroke="#111" stroke-width="0.9"/>
<line x1="445.40" y1="441.50" x2="474.60" y2="441.50" stroke="#111" stroke-width="0.9"/>
<text x="388.00" y="375.33" font-size="7.3" textLength="12.40" lengthAdjust="spacingAndGlyphs">50%</text>
<text x="388.00" y="394.63" font-size="7.3" textLength="12.40" lengthAdjust="spacingAndGlyphs">50%</text>
<text x="448.00" y="374.63" font-size="7.3" textLength="17.40" lengthAdjust="spacingAndGlyphs">48.3%</text>
<text x="448.00" y="393.83" font-size="7.3" textLength="17.40" lengthAdjust="spacingAndGlyphs">51.7%</text>
<text x="388.40" y="431.83" font-size="7.3" textLength="16.90" lengthAdjust="spacingAndGlyphs">77.5%</text>
<text x="388.40" y="454.23" font-size="7.3" textLength="16.90" lengthAdjust="spacingAndGlyphs">22.5%</text>
<text x="447.40" y="431.83" font-size="7.3" textLength="16.90" lengthAdjust="spacingAndGlyphs">65.6%</text>
<text x="447.40" y="454.23" font-size="7.3" textLength="16.90" lengthAdjust="spacingAndGlyphs">34.4%</text>
<text x="384.20" y="368.07" font-size="6.3" text-anchor="end">10<tspan dy="-2.6" font-size="4.6">5</tspan></text>
<text x="384.20" y="380.77" font-size="6.3" text-anchor="end">10<tspan dy="-2.6" font-size="4.6">4</tspan></text>
<text x="384.20" y="395.77" font-size="6.3" text-anchor="end">10<tspan dy="-2.6" font-size="4.6">3</tspan></text>
<text x="384.20" y="406.47" font-size="6.3" text-anchor="end">0</text>
<text x="384.20" y="418.07" font-size="6.3" text-anchor="end">10<tspan dy="-2.6" font-size="4.6">−3</tspan></text>
<text x="384.20" y="426.47" font-size="6.3" text-anchor="end">10<tspan dy="-2.6" font-size="4.6">5</tspan></text>
<text x="384.20" y="443.77" font-size="6.3" text-anchor="end">10<tspan dy="-2.6" font-size="4.6">4</tspan></text>
<text x="384.20" y="454.27" font-size="6.3" text-anchor="end">10<tspan dy="-2.6" font-size="4.6">3</tspan></text>
<text x="384.20" y="466.27" font-size="6.3" text-anchor="end">0</text>
<text x="384.20" y="476.47" font-size="6.3" text-anchor="end">10<tspan dy="-2.6" font-size="4.6">−3</tspan></text>
<text x="395.80" y="483.07" font-size="6.3" text-anchor="middle">0</text>
<text x="409.60" y="483.07" font-size="6.3" text-anchor="middle">10<tspan dy="-2.6" font-size="4.6">3</tspan></text>
<text x="424.20" y="483.07" font-size="6.3" text-anchor="middle">10<tspan dy="-2.6" font-size="4.6">4</tspan></text>
<text x="437.30" y="483.07" font-size="6.3" text-anchor="middle">10<tspan dy="-2.6" font-size="4.6">5</tspan></text>
<text x="454.60" y="483.07" font-size="6.3" text-anchor="middle">0</text>
<text x="468.90" y="483.07" font-size="6.3" text-anchor="middle">10<tspan dy="-2.6" font-size="4.6">3</tspan></text>
<text x="483.40" y="483.07" font-size="6.3" text-anchor="middle">10<tspan dy="-2.6" font-size="4.6">4</tspan></text>
<text x="497.20" y="483.07" font-size="6.3" text-anchor="middle">10<tspan dy="-2.6" font-size="4.6">5</tspan></text>
<line x1="366.90" y1="456.30" x2="366.90" y2="367.20" stroke="#111" stroke-width="0.9"/>
<path d="M364.80,368.00 L366.90,363.90 L369.00,368.00Z" fill="#111"/>
<text transform="translate(369.42,469.60) rotate(-90)" x="0" y="0" font-size="7.0" text-anchor="middle" textLength="19.80" lengthAdjust="spacingAndGlyphs">CD150</text>
<text x="373.10" y="489.42" font-size="7.0" textLength="15.90" lengthAdjust="spacingAndGlyphs">CD34</text>
<line x1="393.00" y1="487.40" x2="500.30" y2="487.40" stroke="#111" stroke-width="0.9"/>
<path d="M499.50,485.30 L503.60,487.40 L499.50,489.50Z" fill="#111"/>
<text transform="translate(507.48,387.70) rotate(90)" x="0" y="0" font-size="7.0" text-anchor="middle" textLength="16.20" lengthAdjust="spacingAndGlyphs">Young</text>
<text transform="translate(506.68,445.80) rotate(90)" x="0" y="0" font-size="7.0" text-anchor="middle" textLength="10.80" lengthAdjust="spacingAndGlyphs">Old</text>
<text x="8.00" y="510.60" font-size="11.2" font-weight="bold" fill="#000" style="stroke:#000">J</text>
<text transform="translate(13.30,566.80) rotate(-90)" x="0" y="0" font-size="6.4" text-anchor="middle" textLength="51.80" lengthAdjust="spacingAndGlyphs">Frequency in PB (%)</text>
<line x1="31.80" y1="515.30" x2="31.80" y2="619.40" stroke="#111" stroke-width="1.15"/>
<line x1="28.80" y1="521.80" x2="31.80" y2="521.80" stroke="#111" stroke-width="1.15"/>
<text x="27.60" y="524.25" font-size="7.0" text-anchor="end" textLength="9.81" lengthAdjust="spacingAndGlyphs">100</text>
<line x1="28.80" y1="541.30" x2="31.80" y2="541.30" stroke="#111" stroke-width="1.15"/>
<text x="27.60" y="543.75" font-size="7.0" text-anchor="end" textLength="6.54" lengthAdjust="spacingAndGlyphs">80</text>
<line x1="28.80" y1="560.90" x2="31.80" y2="560.90" stroke="#111" stroke-width="1.15"/>
<text x="27.60" y="563.35" font-size="7.0" text-anchor="end" textLength="6.54" lengthAdjust="spacingAndGlyphs">60</text>
<line x1="28.80" y1="580.50" x2="31.80" y2="580.50" stroke="#111" stroke-width="1.15"/>
<text x="27.60" y="582.95" font-size="7.0" text-anchor="end" textLength="6.54" lengthAdjust="spacingAndGlyphs">40</text>
<line x1="28.80" y1="600.00" x2="31.80" y2="600.00" stroke="#111" stroke-width="1.15"/>
<text x="27.60" y="602.45" font-size="7.0" text-anchor="end" textLength="6.54" lengthAdjust="spacingAndGlyphs">20</text>
<line x1="28.80" y1="619.40" x2="31.80" y2="619.40" stroke="#111" stroke-width="1.15"/>
<text x="27.60" y="621.85" font-size="7.0" text-anchor="end" textLength="3.27" lengthAdjust="spacingAndGlyphs">0</text>
<line x1="31.80" y1="619.40" x2="93.75" y2="619.40" stroke="#111" stroke-width="1.15"/>
<line x1="48.75" y1="619.40" x2="48.75" y2="622.40" stroke="#111" stroke-width="1.15"/>
<line x1="76.25" y1="619.40" x2="76.25" y2="622.40" stroke="#111" stroke-width="1.15"/>
<text x="51.25" y="518.92" font-size="7.0" textLength="23.25" lengthAdjust="spacingAndGlyphs">Myeloid</text>
<text x="48.75" y="630.30" font-size="6.4" text-anchor="middle">Young</text>
<text x="76.25" y="630.30" font-size="6.4" text-anchor="middle">Old</text>
<line x1="99.50" y1="514.50" x2="99.50" y2="619.40" stroke="#111" stroke-width="1.15"/>
<line x1="96.50" y1="521.80" x2="99.50" y2="521.80" stroke="#111" stroke-width="1.15"/>
<line x1="96.50" y1="541.30" x2="99.50" y2="541.30" stroke="#111" stroke-width="1.15"/>
<line x1="96.50" y1="560.90" x2="99.50" y2="560.90" stroke="#111" stroke-width="1.15"/>
<line x1="96.50" y1="580.50" x2="99.50" y2="580.50" stroke="#111" stroke-width="1.15"/>
<line x1="96.50" y1="600.00" x2="99.50" y2="600.00" stroke="#111" stroke-width="1.15"/>
<line x1="96.50" y1="619.40" x2="99.50" y2="619.40" stroke="#111" stroke-width="1.15"/>
<line x1="99.50" y1="619.40" x2="161.25" y2="619.40" stroke="#111" stroke-width="1.15"/>
<line x1="116.25" y1="619.40" x2="116.25" y2="622.40" stroke="#111" stroke-width="1.15"/>
<line x1="144.50" y1="619.40" x2="144.50" y2="622.40" stroke="#111" stroke-width="1.15"/>
<text x="115.50" y="518.92" font-size="7.0" textLength="28.25" lengthAdjust="spacingAndGlyphs">Lymphoid</text>
<text x="116.25" y="630.30" font-size="6.4" text-anchor="middle">Young</text>
<text x="144.50" y="630.30" font-size="6.4" text-anchor="middle">Old</text>
<line x1="41.25" y1="575.00" x2="41.25" y2="596.25" stroke="#111" stroke-width="1.0"/>
<line x1="38.65" y1="575.00" x2="43.85" y2="575.00" stroke="#111" stroke-width="1.0"/>
<line x1="38.65" y1="596.25" x2="43.85" y2="596.25" stroke="#111" stroke-width="1.0"/>
<line x1="35.65" y1="585.50" x2="46.85" y2="585.50" stroke="#111" stroke-width="1.3"/>
<circle cx="43.66" cy="585.88" r="1.55" fill="#16518b"/>
<circle cx="38.99" cy="594.12" r="1.55" fill="#16518b"/>
<circle cx="39.73" cy="570.42" r="1.55" fill="#16518b"/>
<circle cx="44.04" cy="589.49" r="1.55" fill="#16518b"/>
<circle cx="37.88" cy="582.57" r="1.55" fill="#16518b"/>
<circle cx="45.96" cy="578.47" r="1.55" fill="#16518b"/>
<circle cx="42.89" cy="562.00" r="1.55" fill="#16518b"/>
<circle cx="44.99" cy="602.00" r="1.55" fill="#16518b"/>
<circle cx="44.93" cy="583.98" r="1.55" fill="#16518b"/>
<circle cx="44.84" cy="581.00" r="1.55" fill="#16518b"/>
<circle cx="40.87" cy="591.55" r="1.55" fill="#16518b"/>
<circle cx="38.51" cy="574.24" r="1.55" fill="#16518b"/>
<circle cx="37.39" cy="584.90" r="1.55" fill="#16518b"/>
<circle cx="42.49" cy="580.34" r="1.55" fill="#16518b"/>
<circle cx="44.76" cy="573.15" r="1.55" fill="#16518b"/>
<circle cx="40.16" cy="583.81" r="1.55" fill="#16518b"/>
<circle cx="37.98" cy="578.93" r="1.55" fill="#16518b"/>
<circle cx="42.89" cy="582.64" r="1.55" fill="#16518b"/>
<line x1="55.50" y1="575.50" x2="55.50" y2="588.25" stroke="#111" stroke-width="1.0"/>
<line x1="52.90" y1="575.50" x2="58.10" y2="575.50" stroke="#111" stroke-width="1.0"/>
<line x1="52.90" y1="588.25" x2="58.10" y2="588.25" stroke="#111" stroke-width="1.0"/>
<line x1="49.90" y1="581.75" x2="61.10" y2="581.75" stroke="#111" stroke-width="1.3"/>
<circle cx="58.87" cy="585.68" r="1.55" fill="#c41230"/>
<circle cx="52.92" cy="593.25" r="1.55" fill="#c41230"/>
<circle cx="57.55" cy="590.33" r="1.55" fill="#c41230"/>
<circle cx="50.77" cy="569.50" r="1.55" fill="#c41230"/>
<circle cx="54.19" cy="576.25" r="1.55" fill="#c41230"/>
<circle cx="58.65" cy="588.38" r="1.55" fill="#c41230"/>
<circle cx="54.66" cy="581.62" r="1.55" fill="#c41230"/>
<circle cx="60.16" cy="581.44" r="1.55" fill="#c41230"/>
<circle cx="53.03" cy="586.08" r="1.55" fill="#c41230"/>
<circle cx="51.63" cy="582.57" r="1.55" fill="#c41230"/>
<circle cx="57.41" cy="574.88" r="1.55" fill="#c41230"/>
<circle cx="50.96" cy="575.99" r="1.55" fill="#c41230"/>
<circle cx="54.06" cy="583.90" r="1.55" fill="#c41230"/>
<circle cx="57.30" cy="580.73" r="1.55" fill="#c41230"/>
<line x1="68.75" y1="546.25" x2="68.75" y2="574.50" stroke="#111" stroke-width="1.0"/>
<line x1="66.15" y1="546.25" x2="71.35" y2="546.25" stroke="#111" stroke-width="1.0"/>
<line x1="66.15" y1="574.50" x2="71.35" y2="574.50" stroke="#111" stroke-width="1.0"/>
<line x1="63.15" y1="560.75" x2="74.35" y2="560.75" stroke="#111" stroke-width="1.3"/>
<circle cx="67.28" cy="562.05" r="1.55" fill="#16518b"/>
<circle cx="69.36" cy="575.50" r="1.55" fill="#16518b"/>
<circle cx="65.77" cy="566.90" r="1.55" fill="#16518b"/>
<circle cx="71.61" cy="559.25" r="1.55" fill="#16518b"/>
<circle cx="70.82" cy="540.50" r="1.55" fill="#16518b"/>
<circle cx="73.03" cy="548.43" r="1.55" fill="#16518b"/>
<circle cx="71.96" cy="546.40" r="1.55" fill="#16518b"/>
<circle cx="73.40" cy="556.88" r="1.55" fill="#16518b"/>
<line x1="83.75" y1="560.50" x2="83.75" y2="588.75" stroke="#111" stroke-width="1.0"/>
<line x1="81.15" y1="560.50" x2="86.35" y2="560.50" stroke="#111" stroke-width="1.0"/>
<line x1="81.15" y1="588.75" x2="86.35" y2="588.75" stroke="#111" stroke-width="1.0"/>
<line x1="78.15" y1="573.75" x2="89.35" y2="573.75" stroke="#111" stroke-width="1.3"/>
<circle cx="79.19" cy="590.75" r="1.55" fill="#c41230"/>
<circle cx="86.86" cy="572.81" r="1.55" fill="#c41230"/>
<circle cx="80.24" cy="548.75" r="1.55" fill="#c41230"/>
<circle cx="83.75" cy="550.90" r="1.55" fill="#c41230"/>
<circle cx="85.62" cy="588.59" r="1.55" fill="#c41230"/>
<circle cx="84.11" cy="571.63" r="1.55" fill="#c41230"/>
<circle cx="78.87" cy="563.12" r="1.55" fill="#c41230"/>
<circle cx="80.77" cy="576.90" r="1.55" fill="#c41230"/>
<circle cx="82.97" cy="567.04" r="1.55" fill="#c41230"/>
<circle cx="86.06" cy="577.11" r="1.55" fill="#c41230"/>
<circle cx="84.19" cy="555.01" r="1.55" fill="#c41230"/>
<circle cx="83.40" cy="582.92" r="1.55" fill="#c41230"/>
<text x="45.00" y="558.13" font-size="6.9" textLength="6.25" lengthAdjust="spacingAndGlyphs">ns</text>
<line x1="42.50" y1="560.20" x2="53.75" y2="560.20" stroke="#333" stroke-width="1.0"/>
<text x="62.00" y="535.63" font-size="6.9" textLength="27.50" lengthAdjust="spacingAndGlyphs"><tspan font-style="italic">p</tspan>=0.0234</text>
<line x1="70.00" y1="537.70" x2="81.25" y2="537.70" stroke="#333" stroke-width="1.0"/>
<line x1="109.50" y1="546.25" x2="109.50" y2="568.00" stroke="#111" stroke-width="1.0"/>
<line x1="106.90" y1="546.25" x2="112.10" y2="546.25" stroke="#111" stroke-width="1.0"/>
<line x1="106.90" y1="568.00" x2="112.10" y2="568.00" stroke="#111" stroke-width="1.0"/>
<line x1="103.90" y1="557.00" x2="115.10" y2="557.00" stroke="#111" stroke-width="1.3"/>
<circle cx="108.00" cy="551.69" r="1.55" fill="#16518b"/>
<circle cx="106.13" cy="570.72" r="1.55" fill="#16518b"/>
<circle cx="112.78" cy="570.85" r="1.55" fill="#16518b"/>
<circle cx="111.22" cy="552.60" r="1.55" fill="#16518b"/>
<circle cx="106.79" cy="562.98" r="1.55" fill="#16518b"/>
<circle cx="113.94" cy="563.06" r="1.55" fill="#16518b"/>
<circle cx="109.08" cy="557.88" r="1.55" fill="#16518b"/>
<circle cx="107.84" cy="580.00" r="1.55" fill="#16518b"/>
<circle cx="113.36" cy="568.18" r="1.55" fill="#16518b"/>
<circle cx="108.66" cy="560.97" r="1.55" fill="#16518b"/>
<circle cx="113.14" cy="559.48" r="1.55" fill="#16518b"/>
<circle cx="106.17" cy="557.97" r="1.55" fill="#16518b"/>
<circle cx="106.98" cy="548.86" r="1.55" fill="#16518b"/>
<circle cx="105.97" cy="560.52" r="1.55" fill="#16518b"/>
<circle cx="111.82" cy="561.30" r="1.55" fill="#16518b"/>
<circle cx="114.37" cy="540.50" r="1.55" fill="#16518b"/>
<circle cx="105.19" cy="551.91" r="1.55" fill="#16518b"/>
<circle cx="106.89" cy="565.58" r="1.55" fill="#16518b"/>
<line x1="123.00" y1="555.00" x2="123.00" y2="567.50" stroke="#111" stroke-width="1.0"/>
<line x1="120.40" y1="555.00" x2="125.60" y2="555.00" stroke="#111" stroke-width="1.0"/>
<line x1="120.40" y1="567.50" x2="125.60" y2="567.50" stroke="#111" stroke-width="1.0"/>
<line x1="117.40" y1="561.75" x2="128.60" y2="561.75" stroke="#111" stroke-width="1.3"/>
<circle cx="122.73" cy="567.81" r="1.55" fill="#c41230"/>
<circle cx="118.87" cy="559.06" r="1.55" fill="#c41230"/>
<circle cx="127.90" cy="554.61" r="1.55" fill="#c41230"/>
<circle cx="119.38" cy="567.20" r="1.55" fill="#c41230"/>
<circle cx="126.13" cy="574.50" r="1.55" fill="#c41230"/>
<circle cx="125.14" cy="566.84" r="1.55" fill="#c41230"/>
<circle cx="118.42" cy="551.97" r="1.55" fill="#c41230"/>
<circle cx="127.93" cy="566.23" r="1.55" fill="#c41230"/>
<circle cx="122.21" cy="553.58" r="1.55" fill="#c41230"/>
<circle cx="125.79" cy="566.75" r="1.55" fill="#c41230"/>
<circle cx="120.58" cy="548.75" r="1.55" fill="#c41230"/>
<circle cx="124.30" cy="563.50" r="1.55" fill="#c41230"/>
<circle cx="119.57" cy="561.72" r="1.55" fill="#c41230"/>
<circle cx="127.63" cy="550.76" r="1.55" fill="#c41230"/>
<line x1="137.00" y1="568.00" x2="137.00" y2="593.75" stroke="#111" stroke-width="1.0"/>
<line x1="134.40" y1="568.00" x2="139.60" y2="568.00" stroke="#111" stroke-width="1.0"/>
<line x1="134.40" y1="593.75" x2="139.60" y2="593.75" stroke="#111" stroke-width="1.0"/>
<line x1="131.40" y1="580.50" x2="142.60" y2="580.50" stroke="#111" stroke-width="1.3"/>
<circle cx="139.55" cy="578.10" r="1.55" fill="#16518b"/>
<circle cx="137.14" cy="579.13" r="1.55" fill="#16518b"/>
<circle cx="140.92" cy="575.00" r="1.55" fill="#16518b"/>
<circle cx="132.70" cy="589.53" r="1.55" fill="#16518b"/>
<circle cx="134.50" cy="576.11" r="1.55" fill="#16518b"/>
<circle cx="133.87" cy="567.00" r="1.55" fill="#16518b"/>
<circle cx="137.56" cy="599.50" r="1.55" fill="#16518b"/>
<circle cx="132.81" cy="582.66" r="1.55" fill="#16518b"/>
<line x1="151.25" y1="553.75" x2="151.25" y2="582.50" stroke="#111" stroke-width="1.0"/>
<line x1="148.65" y1="553.75" x2="153.85" y2="553.75" stroke="#111" stroke-width="1.0"/>
<line x1="148.65" y1="582.50" x2="153.85" y2="582.50" stroke="#111" stroke-width="1.0"/>
<line x1="145.65" y1="567.50" x2="156.85" y2="567.50" stroke="#111" stroke-width="1.3"/>
<circle cx="149.49" cy="550.50" r="1.55" fill="#c41230"/>
<circle cx="150.61" cy="591.25" r="1.55" fill="#c41230"/>
<circle cx="149.31" cy="581.53" r="1.55" fill="#c41230"/>
<circle cx="147.45" cy="574.12" r="1.55" fill="#c41230"/>
<circle cx="154.50" cy="572.21" r="1.55" fill="#c41230"/>
<circle cx="149.62" cy="579.30" r="1.55" fill="#c41230"/>
<circle cx="150.68" cy="573.82" r="1.55" fill="#c41230"/>
<circle cx="148.24" cy="561.96" r="1.55" fill="#c41230"/>
<circle cx="148.02" cy="569.85" r="1.55" fill="#c41230"/>
<circle cx="146.40" cy="567.09" r="1.55" fill="#c41230"/>
<text x="113.75" y="536.88" font-size="6.9" textLength="6.25" lengthAdjust="spacingAndGlyphs">ns</text>
<line x1="111.25" y1="538.20" x2="122.00" y2="538.20" stroke="#333" stroke-width="1.0"/>
<text x="131.25" y="545.63" font-size="6.9" textLength="26.75" lengthAdjust="spacingAndGlyphs"><tspan font-style="italic">p</tspan>=0.0235</text>
<line x1="139.50" y1="547.70" x2="150.50" y2="547.70" stroke="#333" stroke-width="1.0"/>
<text x="168.00" y="510.20" font-size="11.2" font-weight="bold" fill="#000" style="stroke:#000">K</text>
<text transform="translate(173.80,572.75) rotate(-90)" x="0" y="0" font-size="6.4" text-anchor="middle" textLength="52.70" lengthAdjust="spacingAndGlyphs">Frequency in PB (%)</text>
<line x1="193.10" y1="516.30" x2="193.10" y2="620.20" stroke="#111" stroke-width="1.15"/>
<line x1="190.10" y1="523.10" x2="193.10" y2="523.10" stroke="#111" stroke-width="1.15"/>
<text x="188.80" y="525.55" font-size="7.0" text-anchor="end" textLength="9.81" lengthAdjust="spacingAndGlyphs">100</text>
<line x1="190.10" y1="542.70" x2="193.10" y2="542.70" stroke="#111" stroke-width="1.15"/>
<text x="188.80" y="545.15" font-size="7.0" text-anchor="end" textLength="6.54" lengthAdjust="spacingAndGlyphs">80</text>
<line x1="190.10" y1="562.20" x2="193.10" y2="562.20" stroke="#111" stroke-width="1.15"/>
<text x="188.80" y="564.65" font-size="7.0" text-anchor="end" textLength="6.54" lengthAdjust="spacingAndGlyphs">60</text>
<line x1="190.10" y1="581.50" x2="193.10" y2="581.50" stroke="#111" stroke-width="1.15"/>
<text x="188.80" y="583.95" font-size="7.0" text-anchor="end" textLength="6.54" lengthAdjust="spacingAndGlyphs">40</text>
<line x1="190.10" y1="600.50" x2="193.10" y2="600.50" stroke="#111" stroke-width="1.15"/>
<text x="188.80" y="602.95" font-size="7.0" text-anchor="end" textLength="6.54" lengthAdjust="spacingAndGlyphs">20</text>
<line x1="190.10" y1="620.20" x2="193.10" y2="620.20" stroke="#111" stroke-width="1.15"/>
<text x="188.80" y="622.65" font-size="7.0" text-anchor="end" textLength="3.27" lengthAdjust="spacingAndGlyphs">0</text>
<line x1="193.10" y1="620.20" x2="254.50" y2="620.20" stroke="#111" stroke-width="1.15"/>
<line x1="209.50" y1="620.20" x2="209.50" y2="623.20" stroke="#111" stroke-width="1.15"/>
<line x1="237.50" y1="620.20" x2="237.50" y2="623.20" stroke="#111" stroke-width="1.15"/>
<text x="212.50" y="518.92" font-size="7.0" textLength="23.00" lengthAdjust="spacingAndGlyphs">Myeloid</text>
<text x="209.00" y="631.40" font-size="6.4" text-anchor="middle">Young</text>
<text x="237.90" y="631.40" font-size="6.4" text-anchor="middle">Old</text>
<line x1="260.50" y1="516.30" x2="260.50" y2="620.20" stroke="#111" stroke-width="1.15"/>
<line x1="257.50" y1="523.10" x2="260.50" y2="523.10" stroke="#111" stroke-width="1.15"/>
<line x1="257.50" y1="542.70" x2="260.50" y2="542.70" stroke="#111" stroke-width="1.15"/>
<line x1="257.50" y1="562.20" x2="260.50" y2="562.20" stroke="#111" stroke-width="1.15"/>
<line x1="257.50" y1="581.50" x2="260.50" y2="581.50" stroke="#111" stroke-width="1.15"/>
<line x1="257.50" y1="600.50" x2="260.50" y2="600.50" stroke="#111" stroke-width="1.15"/>
<line x1="257.50" y1="620.20" x2="260.50" y2="620.20" stroke="#111" stroke-width="1.15"/>
<line x1="260.50" y1="620.20" x2="322.50" y2="620.20" stroke="#111" stroke-width="1.15"/>
<line x1="277.00" y1="620.20" x2="277.00" y2="623.20" stroke="#111" stroke-width="1.15"/>
<line x1="305.50" y1="620.20" x2="305.50" y2="623.20" stroke="#111" stroke-width="1.15"/>
<text x="276.60" y="518.92" font-size="7.0" textLength="28.50" lengthAdjust="spacingAndGlyphs">Lymphoid</text>
<text x="277.00" y="631.40" font-size="6.4" text-anchor="middle">Young</text>
<text x="304.60" y="631.40" font-size="6.4" text-anchor="middle">Old</text>
<line x1="202.00" y1="576.25" x2="202.00" y2="595.00" stroke="#111" stroke-width="1.0"/>
<line x1="199.40" y1="576.25" x2="204.60" y2="576.25" stroke="#111" stroke-width="1.0"/>
<line x1="199.40" y1="595.00" x2="204.60" y2="595.00" stroke="#111" stroke-width="1.0"/>
<line x1="196.40" y1="586.25" x2="207.60" y2="586.25" stroke="#111" stroke-width="1.3"/>
<rect x="197.03" y="566.30" width="3.40" height="3.40" fill="#16518b"/>
<rect x="197.09" y="593.05" width="3.40" height="3.40" fill="#16518b"/>
<rect x="202.00" y="582.38" width="3.40" height="3.40" fill="#16518b"/>
<rect x="202.69" y="599.30" width="3.40" height="3.40" fill="#16518b"/>
<rect x="200.92" y="576.91" width="3.40" height="3.40" fill="#16518b"/>
<rect x="203.45" y="589.00" width="3.40" height="3.40" fill="#16518b"/>
<rect x="204.37" y="577.27" width="3.40" height="3.40" fill="#16518b"/>
<rect x="200.52" y="579.34" width="3.40" height="3.40" fill="#16518b"/>
<rect x="199.57" y="587.13" width="3.40" height="3.40" fill="#16518b"/>
<rect x="200.67" y="584.81" width="3.40" height="3.40" fill="#16518b"/>
<rect x="196.00" y="590.51" width="3.40" height="3.40" fill="#16518b"/>
<rect x="199.45" y="598.32" width="3.40" height="3.40" fill="#16518b"/>
<rect x="202.52" y="573.94" width="3.40" height="3.40" fill="#16518b"/>
<rect x="203.52" y="593.64" width="3.40" height="3.40" fill="#16518b"/>
<rect x="198.83" y="604.55" width="3.40" height="3.40" fill="#16518b"/>
<rect x="196.83" y="584.33" width="3.40" height="3.40" fill="#16518b"/>
<line x1="216.25" y1="575.50" x2="216.25" y2="597.50" stroke="#111" stroke-width="1.0"/>
<line x1="213.65" y1="575.50" x2="218.85" y2="575.50" stroke="#111" stroke-width="1.0"/>
<line x1="213.65" y1="597.50" x2="218.85" y2="597.50" stroke="#111" stroke-width="1.0"/>
<line x1="210.65" y1="586.75" x2="221.85" y2="586.75" stroke="#111" stroke-width="1.3"/>
<rect x="216.29" y="584.57" width="3.40" height="3.40" fill="#c41230"/>
<rect x="219.06" y="591.40" width="3.40" height="3.40" fill="#c41230"/>
<rect x="210.23" y="585.07" width="3.40" height="3.40" fill="#c41230"/>
<rect x="213.17" y="602.05" width="3.40" height="3.40" fill="#c41230"/>
<rect x="219.54" y="584.73" width="3.40" height="3.40" fill="#c41230"/>
<rect x="213.32" y="584.43" width="3.40" height="3.40" fill="#c41230"/>
<rect x="213.38" y="584.68" width="3.40" height="3.40" fill="#c41230"/>
<rect x="216.99" y="585.96" width="3.40" height="3.40" fill="#c41230"/>
<rect x="212.12" y="586.90" width="3.40" height="3.40" fill="#c41230"/>
<rect x="211.14" y="582.52" width="3.40" height="3.40" fill="#c41230"/>
<rect x="216.55" y="590.47" width="3.40" height="3.40" fill="#c41230"/>
<rect x="212.89" y="590.23" width="3.40" height="3.40" fill="#c41230"/>
<rect x="209.85" y="600.36" width="3.40" height="3.40" fill="#c41230"/>
<rect x="213.58" y="597.23" width="3.40" height="3.40" fill="#c41230"/>
<rect x="212.56" y="560.80" width="3.40" height="3.40" fill="#c41230"/>
<rect x="218.15" y="581.32" width="3.40" height="3.40" fill="#c41230"/>
<line x1="231.25" y1="543.75" x2="231.25" y2="575.00" stroke="#111" stroke-width="1.0"/>
<line x1="228.65" y1="543.75" x2="233.85" y2="543.75" stroke="#111" stroke-width="1.0"/>
<line x1="228.65" y1="575.00" x2="233.85" y2="575.00" stroke="#111" stroke-width="1.0"/>
<line x1="225.65" y1="558.75" x2="236.85" y2="558.75" stroke="#111" stroke-width="1.3"/>
<rect x="231.34" y="560.41" width="3.40" height="3.40" fill="#16518b"/>
<rect x="232.91" y="576.40" width="3.40" height="3.40" fill="#16518b"/>
<rect x="228.53" y="587.80" width="3.40" height="3.40" fill="#16518b"/>
<rect x="225.79" y="562.42" width="3.40" height="3.40" fill="#16518b"/>
<rect x="225.26" y="549.34" width="3.40" height="3.40" fill="#16518b"/>
<rect x="233.91" y="539.55" width="3.40" height="3.40" fill="#16518b"/>
<rect x="226.61" y="556.87" width="3.40" height="3.40" fill="#16518b"/>
<rect x="231.11" y="556.82" width="3.40" height="3.40" fill="#16518b"/>
<line x1="245.50" y1="554.50" x2="245.50" y2="599.50" stroke="#111" stroke-width="1.0"/>
<line x1="242.90" y1="554.50" x2="248.10" y2="554.50" stroke="#111" stroke-width="1.0"/>
<line x1="242.90" y1="599.50" x2="248.10" y2="599.50" stroke="#111" stroke-width="1.0"/>
<line x1="239.90" y1="577.00" x2="251.10" y2="577.00" stroke="#111" stroke-width="1.3"/>
<rect x="244.75" y="603.30" width="3.40" height="3.40" fill="#c41230"/>
<rect x="241.54" y="577.80" width="3.40" height="3.40" fill="#c41230"/>
<rect x="244.17" y="564.21" width="3.40" height="3.40" fill="#c41230"/>
<rect x="243.15" y="570.32" width="3.40" height="3.40" fill="#c41230"/>
<rect x="246.24" y="574.70" width="3.40" height="3.40" fill="#c41230"/>
<rect x="242.37" y="552.05" width="3.40" height="3.40" fill="#c41230"/>
<text x="206.25" y="558.13" font-size="6.9" textLength="6.25" lengthAdjust="spacingAndGlyphs">ns</text>
<line x1="203.75" y1="560.95" x2="215.00" y2="560.95" stroke="#333" stroke-width="1.0"/>
<text x="223.00" y="536.13" font-size="6.9" textLength="27.50" lengthAdjust="spacingAndGlyphs"><tspan font-style="italic">p</tspan>=0.0405</text>
<line x1="231.25" y1="538.95" x2="242.50" y2="538.95" stroke="#333" stroke-width="1.0"/>
<line x1="270.00" y1="553.38" x2="270.00" y2="570.88" stroke="#111" stroke-width="1.0"/>
<line x1="267.40" y1="553.38" x2="272.60" y2="553.38" stroke="#111" stroke-width="1.0"/>
<line x1="267.40" y1="570.88" x2="272.60" y2="570.88" stroke="#111" stroke-width="1.0"/>
<line x1="264.40" y1="560.50" x2="275.60" y2="560.50" stroke="#111" stroke-width="1.3"/>
<rect x="269.31" y="560.76" width="3.40" height="3.40" fill="#16518b"/>
<rect x="269.25" y="544.55" width="3.40" height="3.40" fill="#16518b"/>
<rect x="268.39" y="572.71" width="3.40" height="3.40" fill="#16518b"/>
<rect x="264.89" y="560.38" width="3.40" height="3.40" fill="#16518b"/>
<rect x="270.65" y="552.55" width="3.40" height="3.40" fill="#16518b"/>
<rect x="272.04" y="561.06" width="3.40" height="3.40" fill="#16518b"/>
<rect x="268.00" y="566.35" width="3.40" height="3.40" fill="#16518b"/>
<rect x="263.44" y="551.05" width="3.40" height="3.40" fill="#16518b"/>
<rect x="267.00" y="561.84" width="3.40" height="3.40" fill="#16518b"/>
<rect x="268.60" y="579.55" width="3.40" height="3.40" fill="#16518b"/>
<rect x="266.29" y="552.89" width="3.40" height="3.40" fill="#16518b"/>
<rect x="272.32" y="554.38" width="3.40" height="3.40" fill="#16518b"/>
<rect x="264.53" y="547.08" width="3.40" height="3.40" fill="#16518b"/>
<rect x="264.62" y="578.10" width="3.40" height="3.40" fill="#16518b"/>
<rect x="266.29" y="561.26" width="3.40" height="3.40" fill="#16518b"/>
<rect x="267.86" y="556.30" width="3.40" height="3.40" fill="#16518b"/>
<line x1="284.50" y1="549.50" x2="284.50" y2="568.75" stroke="#111" stroke-width="1.0"/>
<line x1="281.90" y1="549.50" x2="287.10" y2="549.50" stroke="#111" stroke-width="1.0"/>
<line x1="281.90" y1="568.75" x2="287.10" y2="568.75" stroke="#111" stroke-width="1.0"/>
<line x1="278.90" y1="559.50" x2="290.10" y2="559.50" stroke="#111" stroke-width="1.3"/>
<rect x="278.41" y="542.95" width="3.40" height="3.40" fill="#c41230"/>
<rect x="282.18" y="571.01" width="3.40" height="3.40" fill="#c41230"/>
<rect x="286.06" y="580.30" width="3.40" height="3.40" fill="#c41230"/>
<rect x="281.52" y="555.15" width="3.40" height="3.40" fill="#c41230"/>
<rect x="287.61" y="553.55" width="3.40" height="3.40" fill="#c41230"/>
<rect x="283.69" y="551.55" width="3.40" height="3.40" fill="#c41230"/>
<rect x="278.94" y="563.52" width="3.40" height="3.40" fill="#c41230"/>
<rect x="280.33" y="552.98" width="3.40" height="3.40" fill="#c41230"/>
<rect x="278.29" y="554.55" width="3.40" height="3.40" fill="#c41230"/>
<rect x="286.47" y="558.79" width="3.40" height="3.40" fill="#c41230"/>
<rect x="281.36" y="565.29" width="3.40" height="3.40" fill="#c41230"/>
<rect x="284.28" y="556.47" width="3.40" height="3.40" fill="#c41230"/>
<rect x="279.05" y="555.89" width="3.40" height="3.40" fill="#c41230"/>
<rect x="285.24" y="556.72" width="3.40" height="3.40" fill="#c41230"/>
<rect x="278.88" y="567.26" width="3.40" height="3.40" fill="#c41230"/>
<rect x="280.22" y="538.80" width="3.40" height="3.40" fill="#c41230"/>
<line x1="298.00" y1="581.25" x2="298.00" y2="598.75" stroke="#111" stroke-width="1.0"/>
<line x1="295.40" y1="581.25" x2="300.60" y2="581.25" stroke="#111" stroke-width="1.0"/>
<line x1="295.40" y1="598.75" x2="300.60" y2="598.75" stroke="#111" stroke-width="1.0"/>
<line x1="292.40" y1="588.75" x2="303.60" y2="588.75" stroke="#111" stroke-width="1.3"/>
<rect x="297.67" y="573.02" width="3.40" height="3.40" fill="#16518b"/>
<rect x="296.01" y="585.38" width="3.40" height="3.40" fill="#16518b"/>
<rect x="292.43" y="592.94" width="3.40" height="3.40" fill="#16518b"/>
<rect x="294.45" y="591.37" width="3.40" height="3.40" fill="#16518b"/>
<rect x="300.30" y="579.61" width="3.40" height="3.40" fill="#16518b"/>
<rect x="298.93" y="591.69" width="3.40" height="3.40" fill="#16518b"/>
<rect x="296.66" y="604.55" width="3.40" height="3.40" fill="#16518b"/>
<rect x="293.06" y="555.80" width="3.40" height="3.40" fill="#16518b"/>
<line x1="313.75" y1="559.50" x2="313.75" y2="590.50" stroke="#111" stroke-width="1.0"/>
<line x1="311.15" y1="559.50" x2="316.35" y2="559.50" stroke="#111" stroke-width="1.0"/>
<line x1="311.15" y1="590.50" x2="316.35" y2="590.50" stroke="#111" stroke-width="1.0"/>
<line x1="308.15" y1="572.50" x2="319.35" y2="572.50" stroke="#111" stroke-width="1.3"/>
<rect x="314.93" y="568.18" width="3.40" height="3.40" fill="#c41230"/>
<rect x="316.15" y="588.80" width="3.40" height="3.40" fill="#c41230"/>
<rect x="311.03" y="568.10" width="3.40" height="3.40" fill="#c41230"/>
<rect x="313.61" y="578.41" width="3.40" height="3.40" fill="#c41230"/>
<rect x="315.12" y="553.30" width="3.40" height="3.40" fill="#c41230"/>
<text x="274.50" y="535.63" font-size="6.9" textLength="5.50" lengthAdjust="spacingAndGlyphs">ns</text>
<line x1="272.00" y1="537.70" x2="282.50" y2="537.70" stroke="#333" stroke-width="1.0"/>
<text x="293.00" y="546.38" font-size="6.9" textLength="27.50" lengthAdjust="spacingAndGlyphs"><tspan font-style="italic">p</tspan>=0.0395</text>
<line x1="300.50" y1="548.45" x2="312.00" y2="548.45" stroke="#333" stroke-width="1.0"/>
<text x="329.20" y="510.60" font-size="11.2" font-weight="bold" fill="#000" style="stroke:#000">L</text>
<rect x="362.60" y="505.50" width="12.10" height="5.10" fill="#c41230"/>
<text x="377.20" y="509.92" font-size="7.0" textLength="41.90" lengthAdjust="spacingAndGlyphs">Lymphoid cells</text>
<rect x="435.00" y="505.60" width="11.40" height="5.00" fill="#16518b"/>
<text x="448.90" y="509.72" font-size="7.0" textLength="36.90" lengthAdjust="spacingAndGlyphs">Myeloid cells</text>
<text transform="translate(336.58,581.60) rotate(-90)" x="0" y="0" font-size="6.6" text-anchor="middle" textLength="110.40" lengthAdjust="spacingAndGlyphs">Lineage composition of CD45.2<tspan dy="-2.4" font-size="4.5">+</tspan><tspan dy="2.4"> cells in PB</tspan></text>
<text x="394.00" y="522.02" font-size="7.0" textLength="11.30" lengthAdjust="spacingAndGlyphs">HSC</text>
<line x1="354.60" y1="527.60" x2="354.60" y2="632.50" stroke="#111" stroke-width="1.15"/>
<line x1="351.60" y1="537.20" x2="354.60" y2="537.20" stroke="#111" stroke-width="1.15"/>
<text x="349.40" y="539.65" font-size="7.0" text-anchor="end" textLength="9.45" lengthAdjust="spacingAndGlyphs">100</text>
<line x1="351.60" y1="560.70" x2="354.60" y2="560.70" stroke="#111" stroke-width="1.15"/>
<text x="349.40" y="563.15" font-size="7.0" text-anchor="end" textLength="6.30" lengthAdjust="spacingAndGlyphs">75</text>
<line x1="351.60" y1="584.60" x2="354.60" y2="584.60" stroke="#111" stroke-width="1.15"/>
<text x="349.40" y="587.05" font-size="7.0" text-anchor="end" textLength="6.30" lengthAdjust="spacingAndGlyphs">50</text>
<line x1="351.60" y1="608.40" x2="354.60" y2="608.40" stroke="#111" stroke-width="1.15"/>
<text x="349.40" y="610.85" font-size="7.0" text-anchor="end" textLength="6.30" lengthAdjust="spacingAndGlyphs">25</text>
<line x1="351.60" y1="632.50" x2="354.60" y2="632.50" stroke="#111" stroke-width="1.15"/>
<text x="349.40" y="634.95" font-size="7.0" text-anchor="end" textLength="3.15" lengthAdjust="spacingAndGlyphs">0</text>
<rect x="361.40" y="537.20" width="14.50" height="59.40" fill="#c41230"/>
<rect x="361.40" y="596.60" width="14.50" height="35.90" fill="#16518b"/>
<rect x="382.70" y="536.40" width="14.60" height="60.20" fill="#c41230"/>
<rect x="382.70" y="596.60" width="14.60" height="35.90" fill="#16518b"/>
<rect x="404.00" y="538.20" width="14.30" height="40.90" fill="#c41230"/>
<rect x="404.00" y="579.10" width="14.30" height="53.40" fill="#16518b"/>
<rect x="425.40" y="538.90" width="14.50" height="62.70" fill="#c41230"/>
<rect x="425.40" y="601.60" width="14.50" height="30.90" fill="#16518b"/>
<line x1="354.60" y1="632.50" x2="440.40" y2="632.50" stroke="#111" stroke-width="1.0"/>
<line x1="368.65" y1="537.70" x2="368.65" y2="550.20" stroke="#111" stroke-width="1.1"/>
<line x1="364.85" y1="550.20" x2="372.45" y2="550.20" stroke="#111" stroke-width="1.1"/>
<line x1="364.85" y1="537.70" x2="372.45" y2="537.70" stroke="#111" stroke-width="1.1"/>
<line x1="368.65" y1="596.60" x2="368.65" y2="610.40" stroke="#111" stroke-width="1.1"/>
<line x1="364.85" y1="610.40" x2="372.45" y2="610.40" stroke="#111" stroke-width="1.1"/>
<line x1="390.00" y1="536.40" x2="390.00" y2="557.70" stroke="#111" stroke-width="1.1"/>
<line x1="386.20" y1="557.70" x2="393.80" y2="557.70" stroke="#111" stroke-width="1.1"/>
<line x1="386.20" y1="536.40" x2="393.80" y2="536.40" stroke="#111" stroke-width="1.1"/>
<line x1="390.00" y1="596.60" x2="390.00" y2="618.50" stroke="#111" stroke-width="1.1"/>
<line x1="386.20" y1="618.50" x2="393.80" y2="618.50" stroke="#111" stroke-width="1.1"/>
<line x1="411.15" y1="538.20" x2="411.15" y2="547.70" stroke="#111" stroke-width="1.1"/>
<line x1="407.35" y1="547.70" x2="414.95" y2="547.70" stroke="#111" stroke-width="1.1"/>
<line x1="407.35" y1="538.20" x2="414.95" y2="538.20" stroke="#111" stroke-width="1.1"/>
<line x1="411.15" y1="580.00" x2="411.15" y2="588.30" stroke="#111" stroke-width="1.1"/>
<line x1="407.35" y1="588.30" x2="414.95" y2="588.30" stroke="#111" stroke-width="1.1"/>
<line x1="432.65" y1="538.90" x2="432.65" y2="553.20" stroke="#111" stroke-width="1.1"/>
<line x1="428.85" y1="553.20" x2="436.45" y2="553.20" stroke="#111" stroke-width="1.1"/>
<line x1="428.85" y1="538.90" x2="436.45" y2="538.90" stroke="#111" stroke-width="1.1"/>
<line x1="375.90" y1="596.60" x2="382.70" y2="596.60" stroke="#333" stroke-width="0.9"/>
<line x1="418.30" y1="579.10" x2="425.40" y2="601.60" stroke="#111" stroke-width="0.9"/>
<text x="367.10" y="531.98" font-size="6.9" fill="#c41230" style="stroke:#c41230" textLength="26.10" lengthAdjust="spacingAndGlyphs"><tspan font-style="italic">p</tspan>=0.9549</text>
<line x1="372.70" y1="534.60" x2="386.50" y2="534.60" stroke="#777" stroke-width="1.2"/>
<text x="407.80" y="531.98" font-size="6.9" fill="#c41230" style="stroke:#c41230" textLength="27.10" lengthAdjust="spacingAndGlyphs"><tspan font-style="italic">p</tspan>=0.0358</text>
<line x1="415.30" y1="534.60" x2="427.90" y2="534.60" stroke="#777" stroke-width="1.2"/>
<text transform="translate(381.38,579.95) rotate(-90)" x="0" y="0" font-size="6.9" text-anchor="middle" textLength="26.90" lengthAdjust="spacingAndGlyphs" fill="#2a6db0" style="stroke:#2a6db0"><tspan font-style="italic">p</tspan>=0.9795</text>
<text transform="translate(424.78,570.30) rotate(-90)" x="0" y="0" font-size="6.9" text-anchor="middle" textLength="27.60" lengthAdjust="spacingAndGlyphs" fill="#2a6db0" style="stroke:#2a6db0"><tspan font-style="italic">p</tspan>=0.0247</text>
<text x="368.60" y="641.80" font-size="6.9" text-anchor="middle">+/+</text>
<text x="390.00" y="641.80" font-size="6.9" text-anchor="middle">−/−</text>
<text x="411.00" y="641.80" font-size="6.9" text-anchor="middle">+/+</text>
<text x="432.60" y="641.80" font-size="6.9" text-anchor="middle">−/−</text>
<rect x="361.40" y="642.80" width="35.10" height="1.60" fill="#888"/>
<rect x="404.00" y="642.80" width="36.00" height="1.60" fill="#888"/>
<text x="360.60" y="652.02" font-size="7.0" textLength="37.20" lengthAdjust="spacingAndGlyphs">Young donor</text>
<text x="406.50" y="652.02" font-size="7.0" textLength="30.10" lengthAdjust="spacingAndGlyphs">Old donor</text>
<text x="455.20" y="521.52" font-size="7.0" textLength="58.30" lengthAdjust="spacingAndGlyphs">Myeloid-biased HSC</text>
<line x1="460.20" y1="527.70" x2="460.20" y2="632.70" stroke="#111" stroke-width="1.15"/>
<line x1="457.20" y1="537.30" x2="460.20" y2="537.30" stroke="#111" stroke-width="1.15"/>
<text x="455.00" y="539.75" font-size="7.0" text-anchor="end" textLength="9.45" lengthAdjust="spacingAndGlyphs">100</text>
<line x1="457.20" y1="560.80" x2="460.20" y2="560.80" stroke="#111" stroke-width="1.15"/>
<text x="455.00" y="563.25" font-size="7.0" text-anchor="end" textLength="6.30" lengthAdjust="spacingAndGlyphs">75</text>
<line x1="457.20" y1="584.70" x2="460.20" y2="584.70" stroke="#111" stroke-width="1.15"/>
<text x="455.00" y="587.15" font-size="7.0" text-anchor="end" textLength="6.30" lengthAdjust="spacingAndGlyphs">50</text>
<line x1="457.20" y1="608.50" x2="460.20" y2="608.50" stroke="#111" stroke-width="1.15"/>
<text x="455.00" y="610.95" font-size="7.0" text-anchor="end" textLength="6.30" lengthAdjust="spacingAndGlyphs">25</text>
<line x1="457.20" y1="632.70" x2="460.20" y2="632.70" stroke="#111" stroke-width="1.15"/>
<text x="455.00" y="635.15" font-size="7.0" text-anchor="end" textLength="3.15" lengthAdjust="spacingAndGlyphs">0</text>
<rect x="469.00" y="536.00" width="15.10" height="42.70" fill="#c41230"/>
<rect x="469.00" y="578.70" width="15.10" height="54.00" fill="#16518b"/>
<rect x="491.60" y="536.00" width="14.60" height="56.20" fill="#c41230"/>
<rect x="491.60" y="592.20" width="14.60" height="40.50" fill="#16518b"/>
<line x1="460.20" y1="632.70" x2="513.00" y2="632.70" stroke="#111" stroke-width="1.0"/>
<line x1="476.55" y1="536.00" x2="476.55" y2="557.30" stroke="#111" stroke-width="1.1"/>
<line x1="472.75" y1="557.30" x2="480.35" y2="557.30" stroke="#111" stroke-width="1.1"/>
<line x1="472.75" y1="536.00" x2="480.35" y2="536.00" stroke="#111" stroke-width="1.1"/>
<line x1="476.55" y1="578.70" x2="476.55" y2="600.00" stroke="#111" stroke-width="1.1"/>
<line x1="472.75" y1="600.00" x2="480.35" y2="600.00" stroke="#111" stroke-width="1.1"/>
<line x1="498.90" y1="536.00" x2="498.90" y2="550.80" stroke="#111" stroke-width="1.1"/>
<line x1="495.10" y1="550.80" x2="502.70" y2="550.80" stroke="#111" stroke-width="1.1"/>
<line x1="495.10" y1="536.00" x2="502.70" y2="536.00" stroke="#111" stroke-width="1.1"/>
<line x1="498.90" y1="592.20" x2="498.90" y2="606.80" stroke="#111" stroke-width="1.1"/>
<line x1="495.10" y1="606.80" x2="502.70" y2="606.80" stroke="#111" stroke-width="1.1"/>
<line x1="484.10" y1="578.70" x2="491.60" y2="592.20" stroke="#111" stroke-width="0.9"/>
<text x="472.80" y="531.58" font-size="6.9" fill="#c41230" style="stroke:#c41230" textLength="27.60" lengthAdjust="spacingAndGlyphs"><tspan font-style="italic">p</tspan>=0.1306</text>
<line x1="479.80" y1="534.20" x2="492.90" y2="534.20" stroke="#333" stroke-width="1.0"/>
<text transform="translate(490.28,566.00) rotate(-90)" x="0" y="0" font-size="6.9" text-anchor="middle" textLength="26.40" lengthAdjust="spacingAndGlyphs" fill="#2a6db0" style="stroke:#2a6db0"><tspan font-style="italic">p</tspan>=0.1304</text>
<text x="476.50" y="642.00" font-size="6.9" text-anchor="middle">+/+</text>
<text x="499.10" y="642.00" font-size="6.9" text-anchor="middle">−/−</text>
<rect x="469.00" y="642.90" width="37.20" height="1.60" fill="#888"/>
<text x="469.00" y="652.22" font-size="7.0" textLength="36.40" lengthAdjust="spacingAndGlyphs">Young donor</text>
<text x="23.80" y="650.40" font-size="7.4" font-weight="bold" textLength="16.40" lengthAdjust="spacingAndGlyphs">A–K:</text>
<circle cx="47.10" cy="648.30" r="3.00" fill="#16518b"/>
<text x="53.70" y="650.2" font-size="7.4" font-style="italic" textLength="34.80" lengthAdjust="spacingAndGlyphs">Igf2bp2<tspan dy="-3" font-size="5">+/+</tspan></text>
<text x="90.20" y="650.20" font-size="6.7" textLength="13.50" lengthAdjust="spacingAndGlyphs">male</text>
<rect x="110.50" y="645.10" width="5.60" height="5.40" fill="#16518b"/>
<text x="119.40" y="650.2" font-size="7.4" font-style="italic" textLength="35.10" lengthAdjust="spacingAndGlyphs">Igf2bp2<tspan dy="-3" font-size="5">+/+</tspan></text>
<text x="156.30" y="650.20" font-size="6.7" textLength="18.40" lengthAdjust="spacingAndGlyphs">female</text>
<circle cx="184.10" cy="647.30" r="3.00" fill="#c41230"/>
<text x="190.40" y="650.2" font-size="7.4" font-style="italic" textLength="34.80" lengthAdjust="spacingAndGlyphs">Igf2bp2<tspan dy="-3" font-size="5">−/−</tspan></text>
<text x="226.60" y="650.20" font-size="6.7" textLength="13.00" lengthAdjust="spacingAndGlyphs">male</text>
<rect x="246.60" y="644.70" width="5.60" height="5.20" fill="#c41230"/>
<text x="255.20" y="650.2" font-size="7.4" font-style="italic" textLength="34.80" lengthAdjust="spacingAndGlyphs">Igf2bp2<tspan dy="-3" font-size="5">−/−</tspan></text>
<text x="292.00" y="650.20" font-size="6.7" textLength="18.50" lengthAdjust="spacingAndGlyphs">female</text>
<rect x="0.5" y="0.5" width="519" height="660" fill="none" stroke="#000" stroke-width="1"/></svg></body></html>
